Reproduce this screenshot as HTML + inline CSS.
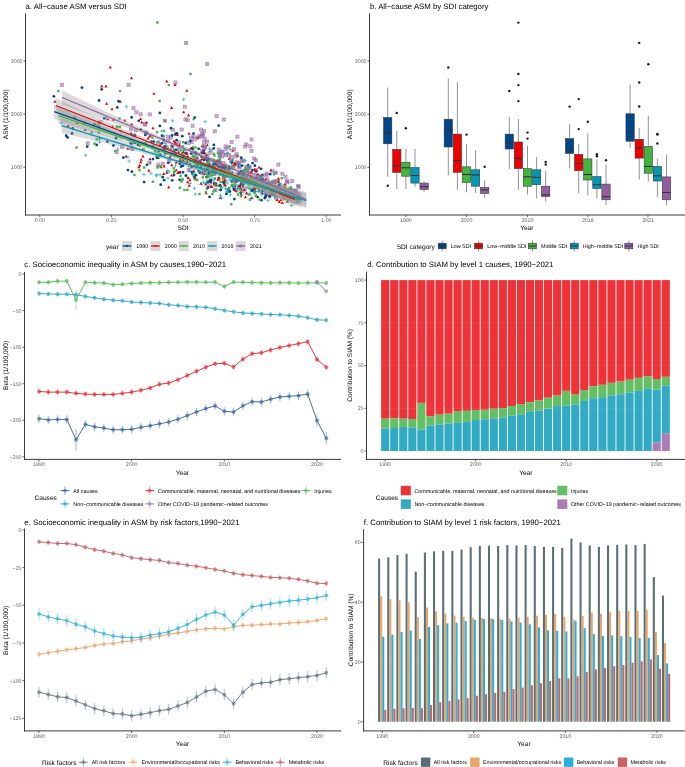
<!DOCTYPE html><html><head><meta charset="utf-8"><style>html,body{margin:0;padding:0;background:#fff;width:685px;height:767px;overflow:hidden}</style></head><body><svg width="685" height="767" viewBox="0 0 685 767" style="display:block;will-change:transform;text-rendering:geometricPrecision;font-family:'Liberation Sans', sans-serif">
<rect x="0" y="0" width="685" height="767" fill="#fff"/>
<path d="M296.45,198.13 h3 v3 h-3z M296.45,198.13 l3,3 M299.45,198.13 l-3,3" stroke="#925E9F" stroke-width="0.6" fill="none"/>
<path d="M192.67,188.19 h3.8 M194.57,186.29 v3.8" stroke="#0099B4" stroke-width="0.55" fill="none"/>
<path d="M164,164.72 l1.6,2.8 h-3.2z" fill="#ED0000"/>
<circle cx="240.37" cy="172.06" r="1.4" fill="#00468B"/>
<path d="M229.85,160.33 h3 v3 h-3z M229.85,160.33 l3,3 M232.85,160.33 l-3,3" stroke="#925E9F" stroke-width="0.6" fill="none"/>
<rect x="240.85" y="175.87" width="2.4" height="2.4" fill="#42B540"/>
<rect x="243.15" y="176.01" width="2.4" height="2.4" fill="#42B540"/>
<path d="M217.33,148.2 h3 v3 h-3z M217.33,148.2 l3,3 M220.33,148.2 l-3,3" stroke="#925E9F" stroke-width="0.6" fill="none"/>
<rect x="194.95" y="153.4" width="2.4" height="2.4" fill="#42B540"/>
<path d="M223.98,181.97 l1.6,2.8 h-3.2z" fill="#ED0000"/>
<circle cx="194.61" cy="177.19" r="1.4" fill="#00468B"/>
<path d="M235.67,188.37 h3.8 M237.57,186.47 v3.8" stroke="#0099B4" stroke-width="0.55" fill="none"/>
<path d="M171.62,128.31 h3 v3 h-3z M171.62,128.31 l3,3 M174.62,128.31 l-3,3" stroke="#925E9F" stroke-width="0.6" fill="none"/>
<path d="M283.96,175.2 h3 v3 h-3z M283.96,175.2 l3,3 M286.96,175.2 l-3,3" stroke="#925E9F" stroke-width="0.6" fill="none"/>
<rect x="181.29" y="160.4" width="2.4" height="2.4" fill="#42B540"/>
<path d="M130.88,147.54 h3 v3 h-3z M130.88,147.54 l3,3 M133.88,147.54 l-3,3" stroke="#925E9F" stroke-width="0.6" fill="none"/>
<circle cx="222.52" cy="167.24" r="1.4" fill="#00468B"/>
<path d="M240.4,159.45 h3 v3 h-3z M240.4,159.45 l3,3 M243.4,159.45 l-3,3" stroke="#925E9F" stroke-width="0.6" fill="none"/>
<circle cx="193.46" cy="133.57" r="1.4" fill="#00468B"/>
<circle cx="213.01" cy="170.54" r="1.4" fill="#00468B"/>
<path d="M176.26,160.84 l1.6,2.8 h-3.2z" fill="#ED0000"/>
<circle cx="231.95" cy="162.32" r="1.4" fill="#00468B"/>
<circle cx="81.93" cy="87.61" r="1.4" fill="#00468B"/>
<path d="M273.01,195.81 h3.8 M274.91,193.91 v3.8" stroke="#0099B4" stroke-width="0.55" fill="none"/>
<path d="M242.76,184.58 l1.6,2.8 h-3.2z" fill="#ED0000"/>
<path d="M249.57,171.08 h3 v3 h-3z M249.57,171.08 l3,3 M252.57,171.08 l-3,3" stroke="#925E9F" stroke-width="0.6" fill="none"/>
<rect x="216.22" y="159.36" width="2.4" height="2.4" fill="#42B540"/>
<path d="M207.99,151.66 h3 v3 h-3z M207.99,151.66 l3,3 M210.99,151.66 l-3,3" stroke="#925E9F" stroke-width="0.6" fill="none"/>
<path d="M230.62,170.92 l1.6,2.8 h-3.2z" fill="#ED0000"/>
<path d="M224.1,180.73 h3.8 M226,178.83 v3.8" stroke="#0099B4" stroke-width="0.55" fill="none"/>
<circle cx="175.63" cy="143.87" r="1.4" fill="#00468B"/>
<rect x="234.08" y="185.26" width="2.4" height="2.4" fill="#42B540"/>
<circle cx="158.65" cy="151.05" r="1.4" fill="#00468B"/>
<path d="M239.46,183.72 h3.8 M241.36,181.82 v3.8" stroke="#0099B4" stroke-width="0.55" fill="none"/>
<circle cx="231.86" cy="181.38" r="1.4" fill="#00468B"/>
<rect x="258.97" y="176.16" width="2.4" height="2.4" fill="#42B540"/>
<path d="M177.36,140.87 h3 v3 h-3z M177.36,140.87 l3,3 M180.36,140.87 l-3,3" stroke="#925E9F" stroke-width="0.6" fill="none"/>
<path d="M215.13,114.63 h3 v3 h-3z M215.13,114.63 l3,3 M218.13,114.63 l-3,3" stroke="#925E9F" stroke-width="0.6" fill="none"/>
<path d="M247.99,180.47 h3.8 M249.89,178.57 v3.8" stroke="#0099B4" stroke-width="0.55" fill="none"/>
<path d="M261.98,183.78 l1.6,2.8 h-3.2z" fill="#ED0000"/>
<circle cx="176.15" cy="133.58" r="1.4" fill="#00468B"/>
<rect x="188.15" y="148.42" width="2.4" height="2.4" fill="#42B540"/>
<path d="M161.37,162.43 h3 v3 h-3z M161.37,162.43 l3,3 M164.37,162.43 l-3,3" stroke="#925E9F" stroke-width="0.6" fill="none"/>
<rect x="212.83" y="158.98" width="2.4" height="2.4" fill="#42B540"/>
<rect x="280.28" y="187.62" width="2.4" height="2.4" fill="#42B540"/>
<circle cx="260.47" cy="176.43" r="1.4" fill="#00468B"/>
<path d="M110.3,65.7 l1.6,2.8 h-3.2z" fill="#ED0000"/>
<path d="M295.58,193.06 h3.8 M297.48,191.16 v3.8" stroke="#0099B4" stroke-width="0.55" fill="none"/>
<path d="M205.67,62.49 h3 v3 h-3z M205.67,62.49 l3,3 M208.67,62.49 l-3,3" stroke="#925E9F" stroke-width="0.6" fill="none"/>
<rect x="248.71" y="198.48" width="2.4" height="2.4" fill="#42B540"/>
<path d="M226.47,166.3 l1.6,2.8 h-3.2z" fill="#ED0000"/>
<rect x="212.96" y="183.63" width="2.4" height="2.4" fill="#42B540"/>
<path d="M158.09,156.22 l1.6,2.8 h-3.2z" fill="#ED0000"/>
<path d="M241.29,192.74 l1.6,2.8 h-3.2z" fill="#ED0000"/>
<path d="M154.28,175.82 h3.8 M156.18,173.92 v3.8" stroke="#0099B4" stroke-width="0.55" fill="none"/>
<circle cx="175.21" cy="134.41" r="1.4" fill="#00468B"/>
<circle cx="197.17" cy="158.44" r="1.4" fill="#00468B"/>
<circle cx="234.72" cy="179.04" r="1.4" fill="#00468B"/>
<path d="M177.5,133.31 l1.6,2.8 h-3.2z" fill="#ED0000"/>
<path d="M169.92,155.32 l1.6,2.8 h-3.2z" fill="#ED0000"/>
<path d="M156.47,141.31 h3 v3 h-3z M156.47,141.31 l3,3 M159.47,141.31 l-3,3" stroke="#925E9F" stroke-width="0.6" fill="none"/>
<path d="M259.07,165.67 l1.6,2.8 h-3.2z" fill="#ED0000"/>
<rect x="163.89" y="119.75" width="2.4" height="2.4" fill="#42B540"/>
<path d="M202.82,140.99 h3 v3 h-3z M202.82,140.99 l3,3 M205.82,140.99 l-3,3" stroke="#925E9F" stroke-width="0.6" fill="none"/>
<rect x="213.31" y="154.33" width="2.4" height="2.4" fill="#42B540"/>
<path d="M270.94,168.59 l1.6,2.8 h-3.2z" fill="#ED0000"/>
<path d="M127.89,146.89 l1.6,2.8 h-3.2z" fill="#ED0000"/>
<path d="M148.83,168.85 l1.6,2.8 h-3.2z" fill="#ED0000"/>
<circle cx="211.94" cy="169.73" r="1.4" fill="#00468B"/>
<path d="M204.94,169.22 l1.6,2.8 h-3.2z" fill="#ED0000"/>
<path d="M245.77,187.04 h3.8 M247.67,185.14 v3.8" stroke="#0099B4" stroke-width="0.55" fill="none"/>
<rect x="133.27" y="173.75" width="2.4" height="2.4" fill="#42B540"/>
<path d="M216.08,185.85 h3.8 M217.98,183.95 v3.8" stroke="#0099B4" stroke-width="0.55" fill="none"/>
<path d="M258.79,186.58 l1.6,2.8 h-3.2z" fill="#ED0000"/>
<rect x="228.13" y="186.79" width="2.4" height="2.4" fill="#42B540"/>
<circle cx="201.07" cy="166.75" r="1.4" fill="#00468B"/>
<path d="M251.49,178.41 h3 v3 h-3z M251.49,178.41 l3,3 M254.49,178.41 l-3,3" stroke="#925E9F" stroke-width="0.6" fill="none"/>
<path d="M273.72,179.7 h3 v3 h-3z M273.72,179.7 l3,3 M276.72,179.7 l-3,3" stroke="#925E9F" stroke-width="0.6" fill="none"/>
<path d="M141.74,120.58 l1.6,2.8 h-3.2z" fill="#ED0000"/>
<path d="M160.79,165.41 l1.6,2.8 h-3.2z" fill="#ED0000"/>
<path d="M253.4,191.24 h3.8 M255.3,189.34 v3.8" stroke="#0099B4" stroke-width="0.55" fill="none"/>
<rect x="151.33" y="136.42" width="2.4" height="2.4" fill="#42B540"/>
<path d="M259.03,192.52 h3.8 M260.93,190.62 v3.8" stroke="#0099B4" stroke-width="0.55" fill="none"/>
<rect x="215.69" y="169.63" width="2.4" height="2.4" fill="#42B540"/>
<path d="M97.74,138.29 h3.8 M99.64,136.39 v3.8" stroke="#0099B4" stroke-width="0.55" fill="none"/>
<rect x="169.36" y="148.53" width="2.4" height="2.4" fill="#42B540"/>
<path d="M274.26,187.19 l1.6,2.8 h-3.2z" fill="#ED0000"/>
<rect x="206.97" y="168.87" width="2.4" height="2.4" fill="#42B540"/>
<path d="M192.05,175.92 h3.8 M193.95,174.02 v3.8" stroke="#0099B4" stroke-width="0.55" fill="none"/>
<path d="M224.61,153.55 h3 v3 h-3z M224.61,153.55 l3,3 M227.61,153.55 l-3,3" stroke="#925E9F" stroke-width="0.6" fill="none"/>
<rect x="95.51" y="138.18" width="2.4" height="2.4" fill="#42B540"/>
<path d="M269.17,182.32 h3.8 M271.07,180.42 v3.8" stroke="#0099B4" stroke-width="0.55" fill="none"/>
<path d="M190.05,161.91 l1.6,2.8 h-3.2z" fill="#ED0000"/>
<path d="M204.98,156.98 h3 v3 h-3z M204.98,156.98 l3,3 M207.98,156.98 l-3,3" stroke="#925E9F" stroke-width="0.6" fill="none"/>
<path d="M293.37,189.64 h3 v3 h-3z M293.37,189.64 l3,3 M296.37,189.64 l-3,3" stroke="#925E9F" stroke-width="0.6" fill="none"/>
<path d="M261.68,180.25 h3 v3 h-3z M261.68,180.25 l3,3 M264.68,180.25 l-3,3" stroke="#925E9F" stroke-width="0.6" fill="none"/>
<path d="M279.03,189.94 h3.8 M280.93,188.04 v3.8" stroke="#0099B4" stroke-width="0.55" fill="none"/>
<rect x="247.6" y="183.18" width="2.4" height="2.4" fill="#42B540"/>
<rect x="258.62" y="179.31" width="2.4" height="2.4" fill="#42B540"/>
<rect x="257.94" y="189.58" width="2.4" height="2.4" fill="#42B540"/>
<rect x="231.94" y="165.11" width="2.4" height="2.4" fill="#42B540"/>
<circle cx="72.76" cy="128.31" r="1.4" fill="#00468B"/>
<path d="M265.75,177.65 h3 v3 h-3z M265.75,177.65 l3,3 M268.75,177.65 l-3,3" stroke="#925E9F" stroke-width="0.6" fill="none"/>
<path d="M162.37,155.27 h3.8 M164.27,153.37 v3.8" stroke="#0099B4" stroke-width="0.55" fill="none"/>
<path d="M294.14,189.72 h3 v3 h-3z M294.14,189.72 l3,3 M297.14,189.72 l-3,3" stroke="#925E9F" stroke-width="0.6" fill="none"/>
<path d="M169.19,136.2 h3 v3 h-3z M169.19,136.2 l3,3 M172.19,136.2 l-3,3" stroke="#925E9F" stroke-width="0.6" fill="none"/>
<path d="M206.34,161.1 h3 v3 h-3z M206.34,161.1 l3,3 M209.34,161.1 l-3,3" stroke="#925E9F" stroke-width="0.6" fill="none"/>
<circle cx="174.29" cy="150.58" r="1.4" fill="#00468B"/>
<path d="M238.16,171.49 h3 v3 h-3z M238.16,171.49 l3,3 M241.16,171.49 l-3,3" stroke="#925E9F" stroke-width="0.6" fill="none"/>
<path d="M220.61,155.02 h3 v3 h-3z M220.61,155.02 l3,3 M223.61,155.02 l-3,3" stroke="#925E9F" stroke-width="0.6" fill="none"/>
<rect x="288.51" y="188.54" width="2.4" height="2.4" fill="#42B540"/>
<circle cx="164.6" cy="146.59" r="1.4" fill="#00468B"/>
<circle cx="223.2" cy="166.07" r="1.4" fill="#00468B"/>
<path d="M127.16,140.35 h3.8 M129.06,138.45 v3.8" stroke="#0099B4" stroke-width="0.55" fill="none"/>
<path d="M223.65,164.07 h3 v3 h-3z M223.65,164.07 l3,3 M226.65,164.07 l-3,3" stroke="#925E9F" stroke-width="0.6" fill="none"/>
<circle cx="231.9" cy="172.98" r="1.4" fill="#00468B"/>
<path d="M228.87,149.9 h3.8 M230.77,148 v3.8" stroke="#0099B4" stroke-width="0.55" fill="none"/>
<path d="M241.5,181.01 l1.6,2.8 h-3.2z" fill="#ED0000"/>
<path d="M207.63,180.47 h3.8 M209.53,178.57 v3.8" stroke="#0099B4" stroke-width="0.55" fill="none"/>
<path d="M247,171.88 h3.8 M248.9,169.98 v3.8" stroke="#0099B4" stroke-width="0.55" fill="none"/>
<path d="M193.97,158.15 h3 v3 h-3z M193.97,158.15 l3,3 M196.97,158.15 l-3,3" stroke="#925E9F" stroke-width="0.6" fill="none"/>
<path d="M242.83,175.08 l1.6,2.8 h-3.2z" fill="#ED0000"/>
<rect x="207.75" y="160.09" width="2.4" height="2.4" fill="#42B540"/>
<circle cx="74.69" cy="117.59" r="1.4" fill="#00468B"/>
<path d="M260.1,179.76 l1.6,2.8 h-3.2z" fill="#ED0000"/>
<path d="M144.46,130.91 h3 v3 h-3z M144.46,130.91 l3,3 M147.46,130.91 l-3,3" stroke="#925E9F" stroke-width="0.6" fill="none"/>
<path d="M190.14,140.58 h3 v3 h-3z M190.14,140.58 l3,3 M193.14,140.58 l-3,3" stroke="#925E9F" stroke-width="0.6" fill="none"/>
<circle cx="224.62" cy="168.53" r="1.4" fill="#00468B"/>
<path d="M168.78,159.72 h3.8 M170.68,157.82 v3.8" stroke="#0099B4" stroke-width="0.55" fill="none"/>
<path d="M271.41,187.39 l1.6,2.8 h-3.2z" fill="#ED0000"/>
<rect x="279.15" y="187.99" width="2.4" height="2.4" fill="#42B540"/>
<path d="M200.78,181.91 l1.6,2.8 h-3.2z" fill="#ED0000"/>
<path d="M282.88,185.02 h3 v3 h-3z M282.88,185.02 l3,3 M285.88,185.02 l-3,3" stroke="#925E9F" stroke-width="0.6" fill="none"/>
<path d="M283.63,195.08 l1.6,2.8 h-3.2z" fill="#ED0000"/>
<path d="M239.38,176.09 h3 v3 h-3z M239.38,176.09 l3,3 M242.38,176.09 l-3,3" stroke="#925E9F" stroke-width="0.6" fill="none"/>
<path d="M221.62,168.34 l1.6,2.8 h-3.2z" fill="#ED0000"/>
<rect x="190.37" y="165.62" width="2.4" height="2.4" fill="#42B540"/>
<path d="M244.24,168.09 h3.8 M246.14,166.19 v3.8" stroke="#0099B4" stroke-width="0.55" fill="none"/>
<path d="M194.79,156.46 h3 v3 h-3z M194.79,156.46 l3,3 M197.79,156.46 l-3,3" stroke="#925E9F" stroke-width="0.6" fill="none"/>
<circle cx="183.01" cy="172.28" r="1.4" fill="#00468B"/>
<circle cx="198.65" cy="148.87" r="1.4" fill="#00468B"/>
<circle cx="194.97" cy="152.93" r="1.4" fill="#00468B"/>
<rect x="193.98" y="157.26" width="2.4" height="2.4" fill="#42B540"/>
<path d="M173.86,80.9 h3 v3 h-3z M173.86,80.9 l3,3 M176.86,80.9 l-3,3" stroke="#925E9F" stroke-width="0.6" fill="none"/>
<path d="M187.1,141.62 h3 v3 h-3z M187.1,141.62 l3,3 M190.1,141.62 l-3,3" stroke="#925E9F" stroke-width="0.6" fill="none"/>
<rect x="245.75" y="176.76" width="2.4" height="2.4" fill="#42B540"/>
<path d="M150.77,148.13 h3.8 M152.67,146.23 v3.8" stroke="#0099B4" stroke-width="0.55" fill="none"/>
<path d="M287.27,199.84 l1.6,2.8 h-3.2z" fill="#ED0000"/>
<rect x="118.85" y="89.87" width="2.4" height="2.4" fill="#42B540"/>
<path d="M209.31,149.12 h3 v3 h-3z M209.31,149.12 l3,3 M212.31,149.12 l-3,3" stroke="#925E9F" stroke-width="0.6" fill="none"/>
<path d="M142.93,147.62 l1.6,2.8 h-3.2z" fill="#ED0000"/>
<path d="M235.44,160.71 h3 v3 h-3z M235.44,160.71 l3,3 M238.44,160.71 l-3,3" stroke="#925E9F" stroke-width="0.6" fill="none"/>
<path d="M124.45,106.71 h3.8 M126.35,104.81 v3.8" stroke="#0099B4" stroke-width="0.55" fill="none"/>
<path d="M220.4,183.39 l1.6,2.8 h-3.2z" fill="#ED0000"/>
<rect x="275.01" y="185.11" width="2.4" height="2.4" fill="#42B540"/>
<rect x="173.52" y="148.74" width="2.4" height="2.4" fill="#42B540"/>
<circle cx="96.65" cy="144.95" r="1.4" fill="#00468B"/>
<circle cx="215.02" cy="168" r="1.4" fill="#00468B"/>
<circle cx="201.9" cy="152.9" r="1.4" fill="#00468B"/>
<path d="M268.83,189.68 h3.8 M270.73,187.78 v3.8" stroke="#0099B4" stroke-width="0.55" fill="none"/>
<path d="M237.31,177.32 h3.8 M239.21,175.42 v3.8" stroke="#0099B4" stroke-width="0.55" fill="none"/>
<path d="M184.01,117.8 h3 v3 h-3z M184.01,117.8 l3,3 M187.01,117.8 l-3,3" stroke="#925E9F" stroke-width="0.6" fill="none"/>
<path d="M220.24,196.25 l1.6,2.8 h-3.2z" fill="#ED0000"/>
<path d="M229.24,157 l1.6,2.8 h-3.2z" fill="#ED0000"/>
<path d="M222.13,161.66 h3 v3 h-3z M222.13,161.66 l3,3 M225.13,161.66 l-3,3" stroke="#925E9F" stroke-width="0.6" fill="none"/>
<path d="M218.64,195.45 h3.8 M220.54,193.55 v3.8" stroke="#0099B4" stroke-width="0.55" fill="none"/>
<path d="M217.39,157.95 h3.8 M219.29,156.05 v3.8" stroke="#0099B4" stroke-width="0.55" fill="none"/>
<path d="M85.12,128.14 l1.6,2.8 h-3.2z" fill="#ED0000"/>
<path d="M213.99,172.23 l1.6,2.8 h-3.2z" fill="#ED0000"/>
<path d="M223.43,188.3 h3.8 M225.33,186.4 v3.8" stroke="#0099B4" stroke-width="0.55" fill="none"/>
<rect x="75.28" y="146.32" width="2.4" height="2.4" fill="#42B540"/>
<path d="M167.66,159.65 h3 v3 h-3z M167.66,159.65 l3,3 M170.66,159.65 l-3,3" stroke="#925E9F" stroke-width="0.6" fill="none"/>
<path d="M189.17,183.85 l1.6,2.8 h-3.2z" fill="#ED0000"/>
<path d="M120.55,145.37 h3 v3 h-3z M120.55,145.37 l3,3 M123.55,145.37 l-3,3" stroke="#925E9F" stroke-width="0.6" fill="none"/>
<path d="M271.08,191.2 l1.6,2.8 h-3.2z" fill="#ED0000"/>
<path d="M127.35,161.02 h3.8 M129.25,159.12 v3.8" stroke="#0099B4" stroke-width="0.55" fill="none"/>
<path d="M232.8,179.39 h3 v3 h-3z M232.8,179.39 l3,3 M235.8,179.39 l-3,3" stroke="#925E9F" stroke-width="0.6" fill="none"/>
<path d="M205.75,140 h3 v3 h-3z M205.75,140 l3,3 M208.75,140 l-3,3" stroke="#925E9F" stroke-width="0.6" fill="none"/>
<path d="M272.89,196.94 h3.8 M274.79,195.04 v3.8" stroke="#0099B4" stroke-width="0.55" fill="none"/>
<path d="M237.93,165.78 h3 v3 h-3z M237.93,165.78 l3,3 M240.93,165.78 l-3,3" stroke="#925E9F" stroke-width="0.6" fill="none"/>
<rect x="258.58" y="175.52" width="2.4" height="2.4" fill="#42B540"/>
<path d="M267.91,181.52 h3 v3 h-3z M267.91,181.52 l3,3 M270.91,181.52 l-3,3" stroke="#925E9F" stroke-width="0.6" fill="none"/>
<circle cx="201.71" cy="156.77" r="1.4" fill="#00468B"/>
<path d="M283.13,189.3 h3 v3 h-3z M283.13,189.3 l3,3 M286.13,189.3 l-3,3" stroke="#925E9F" stroke-width="0.6" fill="none"/>
<path d="M265.81,177.85 l1.6,2.8 h-3.2z" fill="#ED0000"/>
<path d="M255.17,177.15 h3 v3 h-3z M255.17,177.15 l3,3 M258.17,177.15 l-3,3" stroke="#925E9F" stroke-width="0.6" fill="none"/>
<circle cx="176.97" cy="133.32" r="1.4" fill="#00468B"/>
<path d="M265.1,187.37 h3.8 M267,185.47 v3.8" stroke="#0099B4" stroke-width="0.55" fill="none"/>
<path d="M219.7,183.42 l1.6,2.8 h-3.2z" fill="#ED0000"/>
<path d="M68.17,124.22 l1.6,2.8 h-3.2z" fill="#ED0000"/>
<path d="M143.17,122.46 h3 v3 h-3z M143.17,122.46 l3,3 M146.17,122.46 l-3,3" stroke="#925E9F" stroke-width="0.6" fill="none"/>
<path d="M210.22,165.19 l1.6,2.8 h-3.2z" fill="#ED0000"/>
<path d="M266.13,200.33 h3.8 M268.03,198.43 v3.8" stroke="#0099B4" stroke-width="0.55" fill="none"/>
<circle cx="206.62" cy="177.09" r="1.4" fill="#00468B"/>
<path d="M218.82,153.66 h3 v3 h-3z M218.82,153.66 l3,3 M221.82,153.66 l-3,3" stroke="#925E9F" stroke-width="0.6" fill="none"/>
<path d="M225.67,192.69 h3.8 M227.57,190.79 v3.8" stroke="#0099B4" stroke-width="0.55" fill="none"/>
<path d="M166.45,135.11 h3 v3 h-3z M166.45,135.11 l3,3 M169.45,135.11 l-3,3" stroke="#925E9F" stroke-width="0.6" fill="none"/>
<path d="M101.71,84.59 l1.6,2.8 h-3.2z" fill="#ED0000"/>
<circle cx="131.63" cy="117.38" r="1.4" fill="#00468B"/>
<path d="M192.19,172.63 h3.8 M194.09,170.73 v3.8" stroke="#0099B4" stroke-width="0.55" fill="none"/>
<rect x="253" y="189.94" width="2.4" height="2.4" fill="#42B540"/>
<circle cx="163.63" cy="139.87" r="1.4" fill="#00468B"/>
<path d="M288.45,193.07 h3.8 M290.35,191.17 v3.8" stroke="#0099B4" stroke-width="0.55" fill="none"/>
<path d="M206.14,191.35 l1.6,2.8 h-3.2z" fill="#ED0000"/>
<rect x="237.2" y="161.85" width="2.4" height="2.4" fill="#42B540"/>
<circle cx="182.28" cy="136.2" r="1.4" fill="#00468B"/>
<path d="M200.56,132.1 h3 v3 h-3z M200.56,132.1 l3,3 M203.56,132.1 l-3,3" stroke="#925E9F" stroke-width="0.6" fill="none"/>
<circle cx="162.03" cy="135.76" r="1.4" fill="#00468B"/>
<path d="M98.89,120.72 h3 v3 h-3z M98.89,120.72 l3,3 M101.89,120.72 l-3,3" stroke="#925E9F" stroke-width="0.6" fill="none"/>
<rect x="179.42" y="149.26" width="2.4" height="2.4" fill="#42B540"/>
<circle cx="146.96" cy="164.81" r="1.4" fill="#00468B"/>
<path d="M162.23,147.41 h3.8 M164.13,145.51 v3.8" stroke="#0099B4" stroke-width="0.55" fill="none"/>
<circle cx="270.19" cy="174.21" r="1.4" fill="#00468B"/>
<rect x="181.71" y="145.32" width="2.4" height="2.4" fill="#42B540"/>
<circle cx="248.08" cy="165.14" r="1.4" fill="#00468B"/>
<circle cx="263.1" cy="184.58" r="1.4" fill="#00468B"/>
<path d="M234.14,188.32 l1.6,2.8 h-3.2z" fill="#ED0000"/>
<path d="M203.27,121.61 h3.8 M205.17,119.71 v3.8" stroke="#0099B4" stroke-width="0.55" fill="none"/>
<path d="M199.16,162.6 l1.6,2.8 h-3.2z" fill="#ED0000"/>
<rect x="156.11" y="21.3" width="2.4" height="2.4" fill="#42B540"/>
<path d="M209.24,178.31 h3.8 M211.14,176.41 v3.8" stroke="#0099B4" stroke-width="0.55" fill="none"/>
<path d="M207.3,143.46 l1.6,2.8 h-3.2z" fill="#ED0000"/>
<path d="M217.9,153.08 h3.8 M219.8,151.18 v3.8" stroke="#0099B4" stroke-width="0.55" fill="none"/>
<rect x="291.09" y="195.32" width="2.4" height="2.4" fill="#42B540"/>
<rect x="248.33" y="183.36" width="2.4" height="2.4" fill="#42B540"/>
<path d="M266.48,182.37 h3.8 M268.38,180.47 v3.8" stroke="#0099B4" stroke-width="0.55" fill="none"/>
<rect x="194.31" y="146.3" width="2.4" height="2.4" fill="#42B540"/>
<path d="M270.46,182.25 l1.6,2.8 h-3.2z" fill="#ED0000"/>
<path d="M143.73,123.22 h3 v3 h-3z M143.73,123.22 l3,3 M146.73,123.22 l-3,3" stroke="#925E9F" stroke-width="0.6" fill="none"/>
<circle cx="152.97" cy="159.05" r="1.4" fill="#00468B"/>
<path d="M176.13,150.1 h3.8 M178.03,148.2 v3.8" stroke="#0099B4" stroke-width="0.55" fill="none"/>
<circle cx="176.18" cy="149.8" r="1.4" fill="#00468B"/>
<path d="M267.27,182.68 l1.6,2.8 h-3.2z" fill="#ED0000"/>
<path d="M209.64,178.64 l1.6,2.8 h-3.2z" fill="#ED0000"/>
<path d="M154.85,156.94 h3.8 M156.75,155.04 v3.8" stroke="#0099B4" stroke-width="0.55" fill="none"/>
<path d="M203.17,169.28 h3.8 M205.07,167.38 v3.8" stroke="#0099B4" stroke-width="0.55" fill="none"/>
<path d="M107.66,117.47 l1.6,2.8 h-3.2z" fill="#ED0000"/>
<path d="M86.16,141.81 h3 v3 h-3z M86.16,141.81 l3,3 M89.16,141.81 l-3,3" stroke="#925E9F" stroke-width="0.6" fill="none"/>
<rect x="206.49" y="176.11" width="2.4" height="2.4" fill="#42B540"/>
<circle cx="211.2" cy="180.46" r="1.4" fill="#00468B"/>
<rect x="261.5" y="187.83" width="2.4" height="2.4" fill="#42B540"/>
<path d="M215.29,159.66 l1.6,2.8 h-3.2z" fill="#ED0000"/>
<path d="M256.21,180.45 l1.6,2.8 h-3.2z" fill="#ED0000"/>
<path d="M256.73,175.4 l1.6,2.8 h-3.2z" fill="#ED0000"/>
<path d="M225.41,174.99 l1.6,2.8 h-3.2z" fill="#ED0000"/>
<path d="M226.03,169.49 h3 v3 h-3z M226.03,169.49 l3,3 M229.03,169.49 l-3,3" stroke="#925E9F" stroke-width="0.6" fill="none"/>
<path d="M203.08,137.42 h3 v3 h-3z M203.08,137.42 l3,3 M206.08,137.42 l-3,3" stroke="#925E9F" stroke-width="0.6" fill="none"/>
<path d="M264.54,185.27 h3.8 M266.44,183.37 v3.8" stroke="#0099B4" stroke-width="0.55" fill="none"/>
<path d="M297.72,193.07 h3 v3 h-3z M297.72,193.07 l3,3 M300.72,193.07 l-3,3" stroke="#925E9F" stroke-width="0.6" fill="none"/>
<circle cx="192.82" cy="148.99" r="1.4" fill="#00468B"/>
<path d="M97.57,142.11 h3.8 M99.47,140.21 v3.8" stroke="#0099B4" stroke-width="0.55" fill="none"/>
<rect x="231.57" y="158.65" width="2.4" height="2.4" fill="#42B540"/>
<circle cx="243.17" cy="175.4" r="1.4" fill="#00468B"/>
<circle cx="168.17" cy="162.87" r="1.4" fill="#00468B"/>
<path d="M235.27,163.23 h3 v3 h-3z M235.27,163.23 l3,3 M238.27,163.23 l-3,3" stroke="#925E9F" stroke-width="0.6" fill="none"/>
<path d="M233.77,163.23 l1.6,2.8 h-3.2z" fill="#ED0000"/>
<path d="M210.99,184.91 l1.6,2.8 h-3.2z" fill="#ED0000"/>
<path d="M294.54,201.56 h3.8 M296.44,199.66 v3.8" stroke="#0099B4" stroke-width="0.55" fill="none"/>
<rect x="284.56" y="197.09" width="2.4" height="2.4" fill="#42B540"/>
<path d="M231.37,164.28 h3 v3 h-3z M231.37,164.28 l3,3 M234.37,164.28 l-3,3" stroke="#925E9F" stroke-width="0.6" fill="none"/>
<circle cx="223.41" cy="175.09" r="1.4" fill="#00468B"/>
<path d="M206.17,174.65 h3.8 M208.07,172.75 v3.8" stroke="#0099B4" stroke-width="0.55" fill="none"/>
<circle cx="99.24" cy="126.98" r="1.4" fill="#00468B"/>
<path d="M236.89,177.77 l1.6,2.8 h-3.2z" fill="#ED0000"/>
<circle cx="230.21" cy="168.37" r="1.4" fill="#00468B"/>
<path d="M115.81,149 h3.8 M117.71,147.1 v3.8" stroke="#0099B4" stroke-width="0.55" fill="none"/>
<path d="M212.74,172.59 h3 v3 h-3z M212.74,172.59 l3,3 M215.74,172.59 l-3,3" stroke="#925E9F" stroke-width="0.6" fill="none"/>
<path d="M255.25,179.72 h3.8 M257.15,177.82 v3.8" stroke="#0099B4" stroke-width="0.55" fill="none"/>
<path d="M112.38,125.14 l1.6,2.8 h-3.2z" fill="#ED0000"/>
<circle cx="101.71" cy="89.32" r="1.4" fill="#00468B"/>
<rect x="152.02" y="144.57" width="2.4" height="2.4" fill="#42B540"/>
<path d="M263.89,182.96 h3.8 M265.79,181.06 v3.8" stroke="#0099B4" stroke-width="0.55" fill="none"/>
<rect x="248.43" y="181.16" width="2.4" height="2.4" fill="#42B540"/>
<path d="M242.77,177.59 h3.8 M244.67,175.69 v3.8" stroke="#0099B4" stroke-width="0.55" fill="none"/>
<rect x="245.12" y="176.1" width="2.4" height="2.4" fill="#42B540"/>
<path d="M171.73,163.43 l1.6,2.8 h-3.2z" fill="#ED0000"/>
<path d="M59.4,122.88 h3.8 M61.3,120.98 v3.8" stroke="#0099B4" stroke-width="0.55" fill="none"/>
<rect x="118.32" y="117.4" width="2.4" height="2.4" fill="#42B540"/>
<path d="M236.86,179.15 h3.8 M238.76,177.25 v3.8" stroke="#0099B4" stroke-width="0.55" fill="none"/>
<path d="M248.8,144.78 h3 v3 h-3z M248.8,144.78 l3,3 M251.8,144.78 l-3,3" stroke="#925E9F" stroke-width="0.6" fill="none"/>
<path d="M200.54,149.48 h3 v3 h-3z M200.54,149.48 l3,3 M203.54,149.48 l-3,3" stroke="#925E9F" stroke-width="0.6" fill="none"/>
<circle cx="226.32" cy="193.88" r="1.4" fill="#00468B"/>
<circle cx="53.84" cy="96.28" r="1.4" fill="#00468B"/>
<circle cx="181.17" cy="166.49" r="1.4" fill="#00468B"/>
<path d="M194.21,152.23 h3.8 M196.11,150.33 v3.8" stroke="#0099B4" stroke-width="0.55" fill="none"/>
<path d="M210.57,172.04 h3.8 M212.47,170.14 v3.8" stroke="#0099B4" stroke-width="0.55" fill="none"/>
<path d="M164.27,151.44 h3 v3 h-3z M164.27,151.44 l3,3 M167.27,151.44 l-3,3" stroke="#925E9F" stroke-width="0.6" fill="none"/>
<circle cx="269.95" cy="188.91" r="1.4" fill="#00468B"/>
<circle cx="123.31" cy="157.55" r="1.4" fill="#00468B"/>
<circle cx="185.67" cy="142.99" r="1.4" fill="#00468B"/>
<path d="M236.94,167.22 h3.8 M238.84,165.32 v3.8" stroke="#0099B4" stroke-width="0.55" fill="none"/>
<path d="M206.44,153.24 l1.6,2.8 h-3.2z" fill="#ED0000"/>
<rect x="240.84" y="188.54" width="2.4" height="2.4" fill="#42B540"/>
<path d="M262.49,191.48 l1.6,2.8 h-3.2z" fill="#ED0000"/>
<path d="M250.02,149.35 h3 v3 h-3z M250.02,149.35 l3,3 M253.02,149.35 l-3,3" stroke="#925E9F" stroke-width="0.6" fill="none"/>
<path d="M281.64,194.56 l1.6,2.8 h-3.2z" fill="#ED0000"/>
<path d="M197.94,134.73 h3 v3 h-3z M197.94,134.73 l3,3 M200.94,134.73 l-3,3" stroke="#925E9F" stroke-width="0.6" fill="none"/>
<path d="M223.06,179.83 l1.6,2.8 h-3.2z" fill="#ED0000"/>
<path d="M248.02,165.18 h3 v3 h-3z M248.02,165.18 l3,3 M251.02,165.18 l-3,3" stroke="#925E9F" stroke-width="0.6" fill="none"/>
<path d="M240.38,186.1 l1.6,2.8 h-3.2z" fill="#ED0000"/>
<path d="M165.05,145.46 h3 v3 h-3z M165.05,145.46 l3,3 M168.05,145.46 l-3,3" stroke="#925E9F" stroke-width="0.6" fill="none"/>
<path d="M177.88,145.69 h3 v3 h-3z M177.88,145.69 l3,3 M180.88,145.69 l-3,3" stroke="#925E9F" stroke-width="0.6" fill="none"/>
<path d="M187.24,152.06 l1.6,2.8 h-3.2z" fill="#ED0000"/>
<rect x="157.35" y="155.62" width="2.4" height="2.4" fill="#42B540"/>
<rect x="272.18" y="188.86" width="2.4" height="2.4" fill="#42B540"/>
<path d="M295.8,197.5 h3 v3 h-3z M295.8,197.5 l3,3 M298.8,197.5 l-3,3" stroke="#925E9F" stroke-width="0.6" fill="none"/>
<circle cx="138.72" cy="120.82" r="1.4" fill="#00468B"/>
<path d="M233.51,177.96 l1.6,2.8 h-3.2z" fill="#ED0000"/>
<path d="M222.04,166.47 l1.6,2.8 h-3.2z" fill="#ED0000"/>
<circle cx="213.79" cy="148.41" r="1.4" fill="#00468B"/>
<circle cx="146.78" cy="133.4" r="1.4" fill="#00468B"/>
<rect x="181.06" y="151.75" width="2.4" height="2.4" fill="#42B540"/>
<path d="M286.31,195.14 h3.8 M288.21,193.24 v3.8" stroke="#0099B4" stroke-width="0.55" fill="none"/>
<path d="M176.18,168.54 l1.6,2.8 h-3.2z" fill="#ED0000"/>
<path d="M163.45,151.32 h3.8 M165.35,149.42 v3.8" stroke="#0099B4" stroke-width="0.55" fill="none"/>
<path d="M228.54,194.92 h3.8 M230.44,193.02 v3.8" stroke="#0099B4" stroke-width="0.55" fill="none"/>
<path d="M290.71,179.61 h3 v3 h-3z M290.71,179.61 l3,3 M293.71,179.61 l-3,3" stroke="#925E9F" stroke-width="0.6" fill="none"/>
<circle cx="261.42" cy="200.18" r="1.4" fill="#00468B"/>
<path d="M245.47,195.45 l1.6,2.8 h-3.2z" fill="#ED0000"/>
<path d="M183.29,158.62 l1.6,2.8 h-3.2z" fill="#ED0000"/>
<rect x="255.06" y="187.06" width="2.4" height="2.4" fill="#42B540"/>
<path d="M206.16,155.23 l1.6,2.8 h-3.2z" fill="#ED0000"/>
<path d="M253.72,191.76 h3.8 M255.62,189.86 v3.8" stroke="#0099B4" stroke-width="0.55" fill="none"/>
<path d="M277.09,198.08 l1.6,2.8 h-3.2z" fill="#ED0000"/>
<circle cx="164.99" cy="146.69" r="1.4" fill="#00468B"/>
<rect x="226.35" y="151.64" width="2.4" height="2.4" fill="#42B540"/>
<path d="M163.62,172.09 l1.6,2.8 h-3.2z" fill="#ED0000"/>
<path d="M285.03,182.38 l1.6,2.8 h-3.2z" fill="#ED0000"/>
<rect x="282.41" y="197.83" width="2.4" height="2.4" fill="#42B540"/>
<rect x="291.21" y="191.21" width="2.4" height="2.4" fill="#42B540"/>
<rect x="230.03" y="202.97" width="2.4" height="2.4" fill="#42B540"/>
<circle cx="131.09" cy="134.02" r="1.4" fill="#00468B"/>
<path d="M216.46,163.21 l1.6,2.8 h-3.2z" fill="#ED0000"/>
<path d="M138.75,165.42 l1.6,2.8 h-3.2z" fill="#ED0000"/>
<path d="M276.33,179.86 h3 v3 h-3z M276.33,179.86 l3,3 M279.33,179.86 l-3,3" stroke="#925E9F" stroke-width="0.6" fill="none"/>
<circle cx="87.19" cy="146.62" r="1.4" fill="#00468B"/>
<path d="M216.35,161.13 h3 v3 h-3z M216.35,161.13 l3,3 M219.35,161.13 l-3,3" stroke="#925E9F" stroke-width="0.6" fill="none"/>
<path d="M188.17,183.44 h3.8 M190.07,181.54 v3.8" stroke="#0099B4" stroke-width="0.55" fill="none"/>
<rect x="213.63" y="177.22" width="2.4" height="2.4" fill="#42B540"/>
<rect x="284.65" y="193.23" width="2.4" height="2.4" fill="#42B540"/>
<circle cx="216.75" cy="164.83" r="1.4" fill="#00468B"/>
<path d="M280.79,172.16 h3 v3 h-3z M280.79,172.16 l3,3 M283.79,172.16 l-3,3" stroke="#925E9F" stroke-width="0.6" fill="none"/>
<rect x="234.67" y="174.96" width="2.4" height="2.4" fill="#42B540"/>
<path d="M139.73,163.83 l1.6,2.8 h-3.2z" fill="#ED0000"/>
<circle cx="175.63" cy="153.59" r="1.4" fill="#00468B"/>
<path d="M251.79,189.23 h3.8 M253.69,187.33 v3.8" stroke="#0099B4" stroke-width="0.55" fill="none"/>
<path d="M251.14,180.49 h3 v3 h-3z M251.14,180.49 l3,3 M254.14,180.49 l-3,3" stroke="#925E9F" stroke-width="0.6" fill="none"/>
<circle cx="218.68" cy="125.56" r="1.4" fill="#00468B"/>
<path d="M192.31,176.75 h3.8 M194.21,174.85 v3.8" stroke="#0099B4" stroke-width="0.55" fill="none"/>
<path d="M226.92,146.14 h3 v3 h-3z M226.92,146.14 l3,3 M229.92,146.14 l-3,3" stroke="#925E9F" stroke-width="0.6" fill="none"/>
<rect x="268.36" y="191.53" width="2.4" height="2.4" fill="#42B540"/>
<circle cx="194.8" cy="117.58" r="1.4" fill="#00468B"/>
<circle cx="228.42" cy="189.3" r="1.4" fill="#00468B"/>
<path d="M256.41,174.08 h3 v3 h-3z M256.41,174.08 l3,3 M259.41,174.08 l-3,3" stroke="#925E9F" stroke-width="0.6" fill="none"/>
<path d="M220.71,160.4 l1.6,2.8 h-3.2z" fill="#ED0000"/>
<rect x="187.01" y="176.85" width="2.4" height="2.4" fill="#42B540"/>
<path d="M202.43,129.58 h3 v3 h-3z M202.43,129.58 l3,3 M205.43,129.58 l-3,3" stroke="#925E9F" stroke-width="0.6" fill="none"/>
<path d="M180.21,128.07 h3 v3 h-3z M180.21,128.07 l3,3 M183.21,128.07 l-3,3" stroke="#925E9F" stroke-width="0.6" fill="none"/>
<path d="M254.72,183.4 l1.6,2.8 h-3.2z" fill="#ED0000"/>
<path d="M229.82,181.24 h3.8 M231.72,179.34 v3.8" stroke="#0099B4" stroke-width="0.55" fill="none"/>
<circle cx="99.13" cy="100.49" r="1.4" fill="#00468B"/>
<path d="M183.34,150.22 l1.6,2.8 h-3.2z" fill="#ED0000"/>
<rect x="218.56" y="157.67" width="2.4" height="2.4" fill="#42B540"/>
<path d="M232.55,183.97 l1.6,2.8 h-3.2z" fill="#ED0000"/>
<circle cx="210.8" cy="182.02" r="1.4" fill="#00468B"/>
<rect x="226.98" y="169.35" width="2.4" height="2.4" fill="#42B540"/>
<circle cx="196.96" cy="164.71" r="1.4" fill="#00468B"/>
<path d="M189.94,167.93 h3.8 M191.84,166.03 v3.8" stroke="#0099B4" stroke-width="0.55" fill="none"/>
<circle cx="151.51" cy="141.76" r="1.4" fill="#00468B"/>
<path d="M251.18,170.78 l1.6,2.8 h-3.2z" fill="#ED0000"/>
<circle cx="266.25" cy="195.27" r="1.4" fill="#00468B"/>
<path d="M134.26,128.84 h3 v3 h-3z M134.26,128.84 l3,3 M137.26,128.84 l-3,3" stroke="#925E9F" stroke-width="0.6" fill="none"/>
<circle cx="172.04" cy="135.49" r="1.4" fill="#00468B"/>
<rect x="263.78" y="187.34" width="2.4" height="2.4" fill="#42B540"/>
<rect x="239.74" y="195.08" width="2.4" height="2.4" fill="#42B540"/>
<rect x="256.39" y="180.19" width="2.4" height="2.4" fill="#42B540"/>
<path d="M257.63,172.67 l1.6,2.8 h-3.2z" fill="#ED0000"/>
<path d="M286.3,196.65 h3 v3 h-3z M286.3,196.65 l3,3 M289.3,196.65 l-3,3" stroke="#925E9F" stroke-width="0.6" fill="none"/>
<path d="M288.18,188.14 h3.8 M290.08,186.24 v3.8" stroke="#0099B4" stroke-width="0.55" fill="none"/>
<path d="M268.41,196.97 h3.8 M270.31,195.07 v3.8" stroke="#0099B4" stroke-width="0.55" fill="none"/>
<circle cx="218.77" cy="178.1" r="1.4" fill="#00468B"/>
<path d="M187.34,170.15 h3.8 M189.24,168.25 v3.8" stroke="#0099B4" stroke-width="0.55" fill="none"/>
<path d="M115.14,150.46 h3 v3 h-3z M115.14,150.46 l3,3 M118.14,150.46 l-3,3" stroke="#925E9F" stroke-width="0.6" fill="none"/>
<path d="M178.72,150.75 l1.6,2.8 h-3.2z" fill="#ED0000"/>
<path d="M241.45,180.33 l1.6,2.8 h-3.2z" fill="#ED0000"/>
<circle cx="160.8" cy="154.86" r="1.4" fill="#00468B"/>
<path d="M166.66,139.02 h3 v3 h-3z M166.66,139.02 l3,3 M169.66,139.02 l-3,3" stroke="#925E9F" stroke-width="0.6" fill="none"/>
<path d="M272.39,180.6 h3 v3 h-3z M272.39,180.6 l3,3 M275.39,180.6 l-3,3" stroke="#925E9F" stroke-width="0.6" fill="none"/>
<path d="M237.72,154.04 l1.6,2.8 h-3.2z" fill="#ED0000"/>
<path d="M241.22,170.25 h3.8 M243.12,168.35 v3.8" stroke="#0099B4" stroke-width="0.55" fill="none"/>
<path d="M295.26,195.2 h3.8 M297.16,193.3 v3.8" stroke="#0099B4" stroke-width="0.55" fill="none"/>
<path d="M212.1,179.85 h3.8 M214,177.95 v3.8" stroke="#0099B4" stroke-width="0.55" fill="none"/>
<circle cx="240.66" cy="192.53" r="1.4" fill="#00468B"/>
<rect x="118.64" y="125.54" width="2.4" height="2.4" fill="#42B540"/>
<rect x="255.89" y="184.83" width="2.4" height="2.4" fill="#42B540"/>
<path d="M245.7,169.34 h3 v3 h-3z M245.7,169.34 l3,3 M248.7,169.34 l-3,3" stroke="#925E9F" stroke-width="0.6" fill="none"/>
<path d="M255.87,181.97 h3.8 M257.77,180.07 v3.8" stroke="#0099B4" stroke-width="0.55" fill="none"/>
<rect x="272.72" y="173.05" width="2.4" height="2.4" fill="#42B540"/>
<path d="M139.18,112.82 h3 v3 h-3z M139.18,112.82 l3,3 M142.18,112.82 l-3,3" stroke="#925E9F" stroke-width="0.6" fill="none"/>
<path d="M216.85,163.65 l1.6,2.8 h-3.2z" fill="#ED0000"/>
<circle cx="195.78" cy="175.21" r="1.4" fill="#00468B"/>
<path d="M218.49,161.1 h3.8 M220.39,159.2 v3.8" stroke="#0099B4" stroke-width="0.55" fill="none"/>
<path d="M152.97,126.56 l1.6,2.8 h-3.2z" fill="#ED0000"/>
<circle cx="116.01" cy="138.2" r="1.4" fill="#00468B"/>
<rect x="151.69" y="180.57" width="2.4" height="2.4" fill="#42B540"/>
<path d="M237.83,164.44 h3 v3 h-3z M237.83,164.44 l3,3 M240.83,164.44 l-3,3" stroke="#925E9F" stroke-width="0.6" fill="none"/>
<path d="M293.62,189.19 h3 v3 h-3z M293.62,189.19 l3,3 M296.62,189.19 l-3,3" stroke="#925E9F" stroke-width="0.6" fill="none"/>
<path d="M260.94,185.93 h3.8 M262.84,184.03 v3.8" stroke="#0099B4" stroke-width="0.55" fill="none"/>
<rect x="251.76" y="189.32" width="2.4" height="2.4" fill="#42B540"/>
<path d="M298.03,197.04 h3 v3 h-3z M298.03,197.04 l3,3 M301.03,197.04 l-3,3" stroke="#925E9F" stroke-width="0.6" fill="none"/>
<path d="M160.11,143.34 l1.6,2.8 h-3.2z" fill="#ED0000"/>
<path d="M120.33,99.91 l1.6,2.8 h-3.2z" fill="#ED0000"/>
<path d="M184.22,175.34 h3.8 M186.12,173.44 v3.8" stroke="#0099B4" stroke-width="0.55" fill="none"/>
<path d="M204.55,172.22 l1.6,2.8 h-3.2z" fill="#ED0000"/>
<circle cx="264.73" cy="198.06" r="1.4" fill="#00468B"/>
<rect x="288.86" y="187.37" width="2.4" height="2.4" fill="#42B540"/>
<path d="M183.67,110.39 l1.6,2.8 h-3.2z" fill="#ED0000"/>
<rect x="216.62" y="151.41" width="2.4" height="2.4" fill="#42B540"/>
<path d="M171.7,143.69 l1.6,2.8 h-3.2z" fill="#ED0000"/>
<circle cx="72.04" cy="133.51" r="1.4" fill="#00468B"/>
<circle cx="165.19" cy="152.67" r="1.4" fill="#00468B"/>
<path d="M239.26,175.61 l1.6,2.8 h-3.2z" fill="#ED0000"/>
<path d="M126.03,154.8 l1.6,2.8 h-3.2z" fill="#ED0000"/>
<path d="M271.58,187.98 l1.6,2.8 h-3.2z" fill="#ED0000"/>
<circle cx="104.18" cy="118.36" r="1.4" fill="#00468B"/>
<path d="M191.14,124.25 h3 v3 h-3z M191.14,124.25 l3,3 M194.14,124.25 l-3,3" stroke="#925E9F" stroke-width="0.6" fill="none"/>
<rect x="116.28" y="126.05" width="2.4" height="2.4" fill="#42B540"/>
<path d="M237.4,178.31 h3.8 M239.3,176.41 v3.8" stroke="#0099B4" stroke-width="0.55" fill="none"/>
<path d="M272.41,190.27 h3 v3 h-3z M272.41,190.27 l3,3 M275.41,190.27 l-3,3" stroke="#925E9F" stroke-width="0.6" fill="none"/>
<path d="M140.61,117.28 l1.6,2.8 h-3.2z" fill="#ED0000"/>
<path d="M218.16,178 l1.6,2.8 h-3.2z" fill="#ED0000"/>
<rect x="193.54" y="178.19" width="2.4" height="2.4" fill="#42B540"/>
<circle cx="140.73" cy="129.6" r="1.4" fill="#00468B"/>
<path d="M211.4,162.8 h3.8 M213.3,160.9 v3.8" stroke="#0099B4" stroke-width="0.55" fill="none"/>
<path d="M237.27,164.3 h3.8 M239.17,162.4 v3.8" stroke="#0099B4" stroke-width="0.55" fill="none"/>
<circle cx="172.23" cy="180.28" r="1.4" fill="#00468B"/>
<path d="M290.53,192 h3.8 M292.43,190.1 v3.8" stroke="#0099B4" stroke-width="0.55" fill="none"/>
<path d="M250.92,178.1 h3 v3 h-3z M250.92,178.1 l3,3 M253.92,178.1 l-3,3" stroke="#925E9F" stroke-width="0.6" fill="none"/>
<circle cx="263.16" cy="179.49" r="1.4" fill="#00468B"/>
<circle cx="266.73" cy="183.6" r="1.4" fill="#00468B"/>
<circle cx="254.87" cy="165.65" r="1.4" fill="#00468B"/>
<path d="M252.8,173.52 h3 v3 h-3z M252.8,173.52 l3,3 M255.8,173.52 l-3,3" stroke="#925E9F" stroke-width="0.6" fill="none"/>
<path d="M227.86,179.63 h3.8 M229.76,177.73 v3.8" stroke="#0099B4" stroke-width="0.55" fill="none"/>
<path d="M217.05,171 l1.6,2.8 h-3.2z" fill="#ED0000"/>
<circle cx="167.08" cy="148.63" r="1.4" fill="#00468B"/>
<path d="M202.07,144.63 l1.6,2.8 h-3.2z" fill="#ED0000"/>
<path d="M210.64,158.48 h3 v3 h-3z M210.64,158.48 l3,3 M213.64,158.48 l-3,3" stroke="#925E9F" stroke-width="0.6" fill="none"/>
<circle cx="66.17" cy="135.64" r="1.4" fill="#00468B"/>
<path d="M253.15,179.82 h3 v3 h-3z M253.15,179.82 l3,3 M256.15,179.82 l-3,3" stroke="#925E9F" stroke-width="0.6" fill="none"/>
<path d="M184.38,161.41 h3 v3 h-3z M184.38,161.41 l3,3 M187.38,161.41 l-3,3" stroke="#925E9F" stroke-width="0.6" fill="none"/>
<path d="M191.99,134.73 h3 v3 h-3z M191.99,134.73 l3,3 M194.99,134.73 l-3,3" stroke="#925E9F" stroke-width="0.6" fill="none"/>
<path d="M148.47,162.7 h3.8 M150.37,160.8 v3.8" stroke="#0099B4" stroke-width="0.55" fill="none"/>
<path d="M224.67,174.2 h3.8 M226.57,172.3 v3.8" stroke="#0099B4" stroke-width="0.55" fill="none"/>
<path d="M171.64,106.08 l1.6,2.8 h-3.2z" fill="#ED0000"/>
<path d="M173.58,165.79 h3.8 M175.48,163.89 v3.8" stroke="#0099B4" stroke-width="0.55" fill="none"/>
<rect x="270.58" y="181.98" width="2.4" height="2.4" fill="#42B540"/>
<rect x="254.31" y="180.74" width="2.4" height="2.4" fill="#42B540"/>
<path d="M211.16,163.21 h3.8 M213.06,161.31 v3.8" stroke="#0099B4" stroke-width="0.55" fill="none"/>
<rect x="258.4" y="198.44" width="2.4" height="2.4" fill="#42B540"/>
<path d="M234.8,174.62 l1.6,2.8 h-3.2z" fill="#ED0000"/>
<path d="M129.45,127.83 h3 v3 h-3z M129.45,127.83 l3,3 M132.45,127.83 l-3,3" stroke="#925E9F" stroke-width="0.6" fill="none"/>
<path d="M193.25,194.1 h3.8 M195.15,192.2 v3.8" stroke="#0099B4" stroke-width="0.55" fill="none"/>
<circle cx="118.62" cy="101.23" r="1.4" fill="#00468B"/>
<rect x="172.5" y="167.06" width="2.4" height="2.4" fill="#42B540"/>
<path d="M189.02,131.98 l1.6,2.8 h-3.2z" fill="#ED0000"/>
<circle cx="221.23" cy="167.37" r="1.4" fill="#00468B"/>
<path d="M184.47,41.48 h3 v3 h-3z M184.47,41.48 l3,3 M187.47,41.48 l-3,3" stroke="#925E9F" stroke-width="0.6" fill="none"/>
<path d="M245.11,172.54 h3 v3 h-3z M245.11,172.54 l3,3 M248.11,172.54 l-3,3" stroke="#925E9F" stroke-width="0.6" fill="none"/>
<path d="M129.99,146.08 h3 v3 h-3z M129.99,146.08 l3,3 M132.99,146.08 l-3,3" stroke="#925E9F" stroke-width="0.6" fill="none"/>
<rect x="265.78" y="186.22" width="2.4" height="2.4" fill="#42B540"/>
<circle cx="144.07" cy="182.1" r="1.4" fill="#00468B"/>
<path d="M195.1,161.29 l1.6,2.8 h-3.2z" fill="#ED0000"/>
<circle cx="239.62" cy="185.81" r="1.4" fill="#00468B"/>
<path d="M281.11,192.19 l1.6,2.8 h-3.2z" fill="#ED0000"/>
<path d="M125.92,157.01 h3.8 M127.82,155.11 v3.8" stroke="#0099B4" stroke-width="0.55" fill="none"/>
<rect x="166.27" y="147.04" width="2.4" height="2.4" fill="#42B540"/>
<rect x="93.36" y="142.35" width="2.4" height="2.4" fill="#42B540"/>
<circle cx="190.39" cy="140.86" r="1.4" fill="#00468B"/>
<path d="M271.3,191.62 h3 v3 h-3z M271.3,191.62 l3,3 M274.3,191.62 l-3,3" stroke="#925E9F" stroke-width="0.6" fill="none"/>
<circle cx="207.32" cy="168.91" r="1.4" fill="#00468B"/>
<circle cx="254.53" cy="184.22" r="1.4" fill="#00468B"/>
<rect x="280.19" y="190.33" width="2.4" height="2.4" fill="#42B540"/>
<circle cx="241.26" cy="157.76" r="1.4" fill="#00468B"/>
<path d="M278.43,183.42 h3 v3 h-3z M278.43,183.42 l3,3 M281.43,183.42 l-3,3" stroke="#925E9F" stroke-width="0.6" fill="none"/>
<path d="M276.88,163.13 h3 v3 h-3z M276.88,163.13 l3,3 M279.88,163.13 l-3,3" stroke="#925E9F" stroke-width="0.6" fill="none"/>
<circle cx="130.33" cy="139.63" r="1.4" fill="#00468B"/>
<path d="M106.58,101.93 l1.6,2.8 h-3.2z" fill="#ED0000"/>
<rect x="57.23" y="89.87" width="2.4" height="2.4" fill="#42B540"/>
<path d="M232.38,186.16 h3 v3 h-3z M232.38,186.16 l3,3 M235.38,186.16 l-3,3" stroke="#925E9F" stroke-width="0.6" fill="none"/>
<path d="M230.26,176.3 h3.8 M232.16,174.4 v3.8" stroke="#0099B4" stroke-width="0.55" fill="none"/>
<path d="M224.4,176.89 l1.6,2.8 h-3.2z" fill="#ED0000"/>
<circle cx="191.11" cy="153.61" r="1.4" fill="#00468B"/>
<circle cx="173.99" cy="175" r="1.4" fill="#00468B"/>
<circle cx="262.5" cy="174.87" r="1.4" fill="#00468B"/>
<rect x="207.88" y="157.81" width="2.4" height="2.4" fill="#42B540"/>
<circle cx="107.37" cy="141.62" r="1.4" fill="#00468B"/>
<path d="M269.79,189.22 h3 v3 h-3z M269.79,189.22 l3,3 M272.79,189.22 l-3,3" stroke="#925E9F" stroke-width="0.6" fill="none"/>
<circle cx="252.4" cy="170.11" r="1.4" fill="#00468B"/>
<circle cx="200.27" cy="160.81" r="1.4" fill="#00468B"/>
<path d="M275.93,191.57 h3.8 M277.83,189.67 v3.8" stroke="#0099B4" stroke-width="0.55" fill="none"/>
<path d="M285.25,179.74 h3 v3 h-3z M285.25,179.74 l3,3 M288.25,179.74 l-3,3" stroke="#925E9F" stroke-width="0.6" fill="none"/>
<path d="M175.07,141.01 l1.6,2.8 h-3.2z" fill="#ED0000"/>
<path d="M287.71,188.49 l1.6,2.8 h-3.2z" fill="#ED0000"/>
<circle cx="138.01" cy="144.78" r="1.4" fill="#00468B"/>
<path d="M208.49,171.77 h3 v3 h-3z M208.49,171.77 l3,3 M211.49,171.77 l-3,3" stroke="#925E9F" stroke-width="0.6" fill="none"/>
<path d="M166.76,170.83 l1.6,2.8 h-3.2z" fill="#ED0000"/>
<rect x="173.36" y="169.89" width="2.4" height="2.4" fill="#42B540"/>
<rect x="158.4" y="99.82" width="2.4" height="2.4" fill="#42B540"/>
<path d="M195.19,159 l1.6,2.8 h-3.2z" fill="#ED0000"/>
<rect x="244.72" y="181.38" width="2.4" height="2.4" fill="#42B540"/>
<rect x="277.52" y="187" width="2.4" height="2.4" fill="#42B540"/>
<circle cx="207.53" cy="182.3" r="1.4" fill="#00468B"/>
<rect x="138.43" y="168.94" width="2.4" height="2.4" fill="#42B540"/>
<path d="M234.62,179.08 h3 v3 h-3z M234.62,179.08 l3,3 M237.62,179.08 l-3,3" stroke="#925E9F" stroke-width="0.6" fill="none"/>
<circle cx="242.85" cy="184.57" r="1.4" fill="#00468B"/>
<path d="M149.08,173.34 h3.8 M150.98,171.44 v3.8" stroke="#0099B4" stroke-width="0.55" fill="none"/>
<rect x="250.89" y="178" width="2.4" height="2.4" fill="#42B540"/>
<rect x="167.57" y="83.91" width="2.4" height="2.4" fill="#42B540"/>
<rect x="206.37" y="179.76" width="2.4" height="2.4" fill="#42B540"/>
<circle cx="160.75" cy="184.71" r="1.4" fill="#00468B"/>
<circle cx="172.35" cy="146.56" r="1.4" fill="#00468B"/>
<path d="M242.18,174.07 l1.6,2.8 h-3.2z" fill="#ED0000"/>
<circle cx="185.86" cy="175.7" r="1.4" fill="#00468B"/>
<rect x="237.11" y="179.56" width="2.4" height="2.4" fill="#42B540"/>
<path d="M149.62,134.6 l1.6,2.8 h-3.2z" fill="#ED0000"/>
<circle cx="223.83" cy="182.61" r="1.4" fill="#00468B"/>
<path d="M246.02,194.24 h3.8 M247.92,192.34 v3.8" stroke="#0099B4" stroke-width="0.55" fill="none"/>
<path d="M248.84,191.67 h3.8 M250.74,189.77 v3.8" stroke="#0099B4" stroke-width="0.55" fill="none"/>
<path d="M269.38,191.32 h3 v3 h-3z M269.38,191.32 l3,3 M272.38,191.32 l-3,3" stroke="#925E9F" stroke-width="0.6" fill="none"/>
<path d="M184.24,156.89 l1.6,2.8 h-3.2z" fill="#ED0000"/>
<path d="M254.42,168.63 h3 v3 h-3z M254.42,168.63 l3,3 M257.42,168.63 l-3,3" stroke="#925E9F" stroke-width="0.6" fill="none"/>
<path d="M166.07,178.17 h3.8 M167.97,176.27 v3.8" stroke="#0099B4" stroke-width="0.55" fill="none"/>
<path d="M219.62,187.37 h3.8 M221.52,185.47 v3.8" stroke="#0099B4" stroke-width="0.55" fill="none"/>
<circle cx="222.33" cy="167.63" r="1.4" fill="#00468B"/>
<path d="M248.03,166.44 h3 v3 h-3z M248.03,166.44 l3,3 M251.03,166.44 l-3,3" stroke="#925E9F" stroke-width="0.6" fill="none"/>
<path d="M292.35,192.66 h3.8 M294.25,190.76 v3.8" stroke="#0099B4" stroke-width="0.55" fill="none"/>
<path d="M224.11,144.87 h3 v3 h-3z M224.11,144.87 l3,3 M227.11,144.87 l-3,3" stroke="#925E9F" stroke-width="0.6" fill="none"/>
<circle cx="215.85" cy="183.61" r="1.4" fill="#00468B"/>
<rect x="162.6" y="134.9" width="2.4" height="2.4" fill="#42B540"/>
<path d="M281.11,186.99 l1.6,2.8 h-3.2z" fill="#ED0000"/>
<path d="M170.71,152.33 h3 v3 h-3z M170.71,152.33 l3,3 M173.71,152.33 l-3,3" stroke="#925E9F" stroke-width="0.6" fill="none"/>
<path d="M173.32,153.94 h3 v3 h-3z M173.32,153.94 l3,3 M176.32,153.94 l-3,3" stroke="#925E9F" stroke-width="0.6" fill="none"/>
<circle cx="267.47" cy="187.27" r="1.4" fill="#00468B"/>
<path d="M225.82,174.15 h3.8 M227.72,172.25 v3.8" stroke="#0099B4" stroke-width="0.55" fill="none"/>
<circle cx="67.58" cy="137.4" r="1.4" fill="#00468B"/>
<circle cx="117.18" cy="107.4" r="1.4" fill="#00468B"/>
<path d="M251.63,196.3 l1.6,2.8 h-3.2z" fill="#ED0000"/>
<path d="M280.66,198.37 l1.6,2.8 h-3.2z" fill="#ED0000"/>
<path d="M260,194.73 h3.8 M261.9,192.83 v3.8" stroke="#0099B4" stroke-width="0.55" fill="none"/>
<rect x="238.62" y="188.38" width="2.4" height="2.4" fill="#42B540"/>
<path d="M264.6,191.97 h3 v3 h-3z M264.6,191.97 l3,3 M267.6,191.97 l-3,3" stroke="#925E9F" stroke-width="0.6" fill="none"/>
<path d="M252.55,182.07 h3.8 M254.45,180.17 v3.8" stroke="#0099B4" stroke-width="0.55" fill="none"/>
<path d="M215.71,160.72 h3 v3 h-3z M215.71,160.72 l3,3 M218.71,160.72 l-3,3" stroke="#925E9F" stroke-width="0.6" fill="none"/>
<path d="M283.33,188.4 h3.8 M285.23,186.5 v3.8" stroke="#0099B4" stroke-width="0.55" fill="none"/>
<path d="M243.5,187.16 h3 v3 h-3z M243.5,187.16 l3,3 M246.5,187.16 l-3,3" stroke="#925E9F" stroke-width="0.6" fill="none"/>
<rect x="213.82" y="189.05" width="2.4" height="2.4" fill="#42B540"/>
<path d="M201.91,157.45 l1.6,2.8 h-3.2z" fill="#ED0000"/>
<path d="M134.88,110.8 h3 v3 h-3z M134.88,110.8 l3,3 M137.88,110.8 l-3,3" stroke="#925E9F" stroke-width="0.6" fill="none"/>
<path d="M271.2,169.36 h3 v3 h-3z M271.2,169.36 l3,3 M274.2,169.36 l-3,3" stroke="#925E9F" stroke-width="0.6" fill="none"/>
<path d="M165.45,170.53 h3.8 M167.35,168.63 v3.8" stroke="#0099B4" stroke-width="0.55" fill="none"/>
<path d="M272.36,187.11 h3 v3 h-3z M272.36,187.11 l3,3 M275.36,187.11 l-3,3" stroke="#925E9F" stroke-width="0.6" fill="none"/>
<path d="M194.97,175.9 l1.6,2.8 h-3.2z" fill="#ED0000"/>
<circle cx="229.83" cy="191.48" r="1.4" fill="#00468B"/>
<rect x="211.11" y="192.89" width="2.4" height="2.4" fill="#42B540"/>
<path d="M205.9,182.59 l1.6,2.8 h-3.2z" fill="#ED0000"/>
<path d="M202.29,170.96 l1.6,2.8 h-3.2z" fill="#ED0000"/>
<circle cx="220.58" cy="173.99" r="1.4" fill="#00468B"/>
<path d="M170.67,120.73 h3.8 M172.57,118.83 v3.8" stroke="#0099B4" stroke-width="0.55" fill="none"/>
<path d="M248.27,172.93 l1.6,2.8 h-3.2z" fill="#ED0000"/>
<rect x="162.77" y="129.73" width="2.4" height="2.4" fill="#42B540"/>
<path d="M181.02,154.39 h3 v3 h-3z M181.02,154.39 l3,3 M184.02,154.39 l-3,3" stroke="#925E9F" stroke-width="0.6" fill="none"/>
<circle cx="241.25" cy="184.03" r="1.4" fill="#00468B"/>
<path d="M60.37,83.4 h3 v3 h-3z M60.37,83.4 l3,3 M63.37,83.4 l-3,3" stroke="#925E9F" stroke-width="0.6" fill="none"/>
<circle cx="204.15" cy="159.94" r="1.4" fill="#00468B"/>
<path d="M106,84.59 l1.6,2.8 h-3.2z" fill="#ED0000"/>
<path d="M54.99,99.91 l1.6,2.8 h-3.2z" fill="#ED0000"/>
<path d="M199.58,128.06 h3 v3 h-3z M199.58,128.06 l3,3 M202.58,128.06 l-3,3" stroke="#925E9F" stroke-width="0.6" fill="none"/>
<path d="M191.75,164.7 l1.6,2.8 h-3.2z" fill="#ED0000"/>
<path d="M222.3,118.09 h3 v3 h-3z M222.3,118.09 l3,3 M225.3,118.09 l-3,3" stroke="#925E9F" stroke-width="0.6" fill="none"/>
<path d="M223.12,174.97 l1.6,2.8 h-3.2z" fill="#ED0000"/>
<rect x="287.53" y="194.74" width="2.4" height="2.4" fill="#42B540"/>
<path d="M197.87,136.3 l1.6,2.8 h-3.2z" fill="#ED0000"/>
<path d="M211.58,170.17 l1.6,2.8 h-3.2z" fill="#ED0000"/>
<path d="M180.11,180.11 h3.8 M182.01,178.21 v3.8" stroke="#0099B4" stroke-width="0.55" fill="none"/>
<path d="M238.05,174.28 l1.6,2.8 h-3.2z" fill="#ED0000"/>
<circle cx="204.4" cy="153.31" r="1.4" fill="#00468B"/>
<rect x="156.25" y="166.32" width="2.4" height="2.4" fill="#42B540"/>
<rect x="155.89" y="131.03" width="2.4" height="2.4" fill="#42B540"/>
<path d="M219.65,159.82 l1.6,2.8 h-3.2z" fill="#ED0000"/>
<path d="M193.55,169.13 l1.6,2.8 h-3.2z" fill="#ED0000"/>
<path d="M235.1,184.95 h3.8 M237,183.05 v3.8" stroke="#0099B4" stroke-width="0.55" fill="none"/>
<path d="M284.77,196.63 h3.8 M286.67,194.73 v3.8" stroke="#0099B4" stroke-width="0.55" fill="none"/>
<path d="M296.13,193.08 h3.8 M298.03,191.18 v3.8" stroke="#0099B4" stroke-width="0.55" fill="none"/>
<rect x="180.33" y="180.32" width="2.4" height="2.4" fill="#42B540"/>
<path d="M166.76,79.59 l1.6,2.8 h-3.2z" fill="#ED0000"/>
<path d="M276.1,187.8 l1.6,2.8 h-3.2z" fill="#ED0000"/>
<rect x="289.57" y="186.46" width="2.4" height="2.4" fill="#42B540"/>
<path d="M175.08,83.31 l1.6,2.8 h-3.2z" fill="#ED0000"/>
<rect x="234.98" y="177.68" width="2.4" height="2.4" fill="#42B540"/>
<path d="M230.67,180.24 h3.8 M232.57,178.34 v3.8" stroke="#0099B4" stroke-width="0.55" fill="none"/>
<circle cx="199.7" cy="172.4" r="1.4" fill="#00468B"/>
<path d="M223.1,185.64 h3.8 M225,183.74 v3.8" stroke="#0099B4" stroke-width="0.55" fill="none"/>
<circle cx="220.01" cy="185.61" r="1.4" fill="#00468B"/>
<rect x="214.03" y="163.39" width="2.4" height="2.4" fill="#42B540"/>
<circle cx="179.55" cy="179.85" r="1.4" fill="#00468B"/>
<path d="M235.07,152.66 h3 v3 h-3z M235.07,152.66 l3,3 M238.07,152.66 l-3,3" stroke="#925E9F" stroke-width="0.6" fill="none"/>
<circle cx="262.48" cy="191.12" r="1.4" fill="#00468B"/>
<circle cx="127.94" cy="170.07" r="1.4" fill="#00468B"/>
<path d="M220.87,150.66 h3 v3 h-3z M220.87,150.66 l3,3 M223.87,150.66 l-3,3" stroke="#925E9F" stroke-width="0.6" fill="none"/>
<path d="M200.33,171.86 h3.8 M202.23,169.96 v3.8" stroke="#0099B4" stroke-width="0.55" fill="none"/>
<path d="M213.67,165.13 l1.6,2.8 h-3.2z" fill="#ED0000"/>
<path d="M169.05,154.95 h3.8 M170.95,153.05 v3.8" stroke="#0099B4" stroke-width="0.55" fill="none"/>
<path d="M147.87,161.28 h3 v3 h-3z M147.87,161.28 l3,3 M150.87,161.28 l-3,3" stroke="#925E9F" stroke-width="0.6" fill="none"/>
<path d="M244.5,188.5 l1.6,2.8 h-3.2z" fill="#ED0000"/>
<circle cx="215.04" cy="171.99" r="1.4" fill="#00468B"/>
<circle cx="179.88" cy="172.4" r="1.4" fill="#00468B"/>
<path d="M252.63,156.96 h3 v3 h-3z M252.63,156.96 l3,3 M255.63,156.96 l-3,3" stroke="#925E9F" stroke-width="0.6" fill="none"/>
<path d="M294.77,198.26 h3.8 M296.67,196.36 v3.8" stroke="#0099B4" stroke-width="0.55" fill="none"/>
<path d="M208.31,164.9 h3.8 M210.21,163 v3.8" stroke="#0099B4" stroke-width="0.55" fill="none"/>
<circle cx="163.89" cy="149.09" r="1.4" fill="#00468B"/>
<rect x="224.59" y="169.17" width="2.4" height="2.4" fill="#42B540"/>
<path d="M289.64,205.5 h3.8 M291.54,203.6 v3.8" stroke="#0099B4" stroke-width="0.55" fill="none"/>
<path d="M260.56,174.64 h3 v3 h-3z M260.56,174.64 l3,3 M263.56,174.64 l-3,3" stroke="#925E9F" stroke-width="0.6" fill="none"/>
<path d="M263.2,193.31 h3.8 M265.1,191.41 v3.8" stroke="#0099B4" stroke-width="0.55" fill="none"/>
<path d="M260.49,179.91 h3.8 M262.39,178.01 v3.8" stroke="#0099B4" stroke-width="0.55" fill="none"/>
<rect x="223.08" y="181.53" width="2.4" height="2.4" fill="#42B540"/>
<path d="M210.75,175.48 h3.8 M212.65,173.58 v3.8" stroke="#0099B4" stroke-width="0.55" fill="none"/>
<rect x="155.92" y="155.4" width="2.4" height="2.4" fill="#42B540"/>
<path d="M130.4,143.87 h3.8 M132.3,141.97 v3.8" stroke="#0099B4" stroke-width="0.55" fill="none"/>
<rect x="288.77" y="198.84" width="2.4" height="2.4" fill="#42B540"/>
<path d="M290.17,198.08 h3.8 M292.07,196.18 v3.8" stroke="#0099B4" stroke-width="0.55" fill="none"/>
<path d="M203.3,183.57 h3.8 M205.2,181.67 v3.8" stroke="#0099B4" stroke-width="0.55" fill="none"/>
<path d="M201.84,172.13 h3 v3 h-3z M201.84,172.13 l3,3 M204.84,172.13 l-3,3" stroke="#925E9F" stroke-width="0.6" fill="none"/>
<path d="M201.46,182.11 h3.8 M203.36,180.21 v3.8" stroke="#0099B4" stroke-width="0.55" fill="none"/>
<rect x="156.85" y="164.92" width="2.4" height="2.4" fill="#42B540"/>
<rect x="191.46" y="155.56" width="2.4" height="2.4" fill="#42B540"/>
<rect x="182.19" y="153.91" width="2.4" height="2.4" fill="#42B540"/>
<path d="M187.12,160.43 l1.6,2.8 h-3.2z" fill="#ED0000"/>
<circle cx="138.42" cy="143.68" r="1.4" fill="#00468B"/>
<path d="M233.52,178.37 h3.8 M235.42,176.47 v3.8" stroke="#0099B4" stroke-width="0.55" fill="none"/>
<rect x="159.75" y="164.99" width="2.4" height="2.4" fill="#42B540"/>
<circle cx="225.25" cy="166.81" r="1.4" fill="#00468B"/>
<rect x="205.78" y="187.49" width="2.4" height="2.4" fill="#42B540"/>
<path d="M259.57,184.24 h3.8 M261.47,182.34 v3.8" stroke="#0099B4" stroke-width="0.55" fill="none"/>
<path d="M219.31,176.82 l1.6,2.8 h-3.2z" fill="#ED0000"/>
<path d="M199.93,184.19 h3.8 M201.83,182.29 v3.8" stroke="#0099B4" stroke-width="0.55" fill="none"/>
<path d="M235.76,188.99 h3.8 M237.66,187.09 v3.8" stroke="#0099B4" stroke-width="0.55" fill="none"/>
<circle cx="204.64" cy="158.03" r="1.4" fill="#00468B"/>
<path d="M272.55,183.56 h3 v3 h-3z M272.55,183.56 l3,3 M275.55,183.56 l-3,3" stroke="#925E9F" stroke-width="0.6" fill="none"/>
<path d="M282.28,201.16 l1.6,2.8 h-3.2z" fill="#ED0000"/>
<path d="M191.78,151.18 h3.8 M193.68,149.28 v3.8" stroke="#0099B4" stroke-width="0.55" fill="none"/>
<path d="M177.82,171.17 l1.6,2.8 h-3.2z" fill="#ED0000"/>
<path d="M186.23,118.64 h3 v3 h-3z M186.23,118.64 l3,3 M189.23,118.64 l-3,3" stroke="#925E9F" stroke-width="0.6" fill="none"/>
<path d="M218.58,164.84 h3.8 M220.48,162.94 v3.8" stroke="#0099B4" stroke-width="0.55" fill="none"/>
<path d="M250.03,137.98 h3 v3 h-3z M250.03,137.98 l3,3 M253.03,137.98 l-3,3" stroke="#925E9F" stroke-width="0.6" fill="none"/>
<path d="M177.13,143.33 l1.6,2.8 h-3.2z" fill="#ED0000"/>
<path d="M247.89,188.12 h3.8 M249.79,186.22 v3.8" stroke="#0099B4" stroke-width="0.55" fill="none"/>
<rect x="230.59" y="183.58" width="2.4" height="2.4" fill="#42B540"/>
<rect x="201.57" y="144.37" width="2.4" height="2.4" fill="#42B540"/>
<path d="M267.89,185.64 h3 v3 h-3z M267.89,185.64 l3,3 M270.89,185.64 l-3,3" stroke="#925E9F" stroke-width="0.6" fill="none"/>
<path d="M244.89,142.91 h3 v3 h-3z M244.89,142.91 l3,3 M247.89,142.91 l-3,3" stroke="#925E9F" stroke-width="0.6" fill="none"/>
<circle cx="252.83" cy="190.67" r="1.4" fill="#00468B"/>
<circle cx="223.91" cy="182.71" r="1.4" fill="#00468B"/>
<path d="M264.66,173.68 h3 v3 h-3z M264.66,173.68 l3,3 M267.66,173.68 l-3,3" stroke="#925E9F" stroke-width="0.6" fill="none"/>
<path d="M142.03,174.48 h3.8 M143.93,172.58 v3.8" stroke="#0099B4" stroke-width="0.55" fill="none"/>
<circle cx="164.13" cy="180.13" r="1.4" fill="#00468B"/>
<path d="M232.51,185.01 h3.8 M234.41,183.11 v3.8" stroke="#0099B4" stroke-width="0.55" fill="none"/>
<rect x="192.73" y="155.23" width="2.4" height="2.4" fill="#42B540"/>
<path d="M124.83,118.76 l1.6,2.8 h-3.2z" fill="#ED0000"/>
<rect x="240.16" y="172.84" width="2.4" height="2.4" fill="#42B540"/>
<path d="M198.88,152.21 l1.6,2.8 h-3.2z" fill="#ED0000"/>
<path d="M273.44,195.68 h3.8 M275.34,193.78 v3.8" stroke="#0099B4" stroke-width="0.55" fill="none"/>
<path d="M244.57,165.51 h3 v3 h-3z M244.57,165.51 l3,3 M247.57,165.51 l-3,3" stroke="#925E9F" stroke-width="0.6" fill="none"/>
<path d="M156.9,163.16 h3 v3 h-3z M156.9,163.16 l3,3 M159.9,163.16 l-3,3" stroke="#925E9F" stroke-width="0.6" fill="none"/>
<circle cx="229.23" cy="168.56" r="1.4" fill="#00468B"/>
<path d="M273.98,171.38 h3 v3 h-3z M273.98,171.38 l3,3 M276.98,171.38 l-3,3" stroke="#925E9F" stroke-width="0.6" fill="none"/>
<rect x="115.71" y="125.22" width="2.4" height="2.4" fill="#42B540"/>
<path d="M293.94,196.03 h3 v3 h-3z M293.94,196.03 l3,3 M296.94,196.03 l-3,3" stroke="#925E9F" stroke-width="0.6" fill="none"/>
<circle cx="171.07" cy="128.22" r="1.4" fill="#00468B"/>
<path d="M270.49,188.7 l1.6,2.8 h-3.2z" fill="#ED0000"/>
<path d="M206.19,156.13 h3.8 M208.09,154.23 v3.8" stroke="#0099B4" stroke-width="0.55" fill="none"/>
<circle cx="242.09" cy="165.56" r="1.4" fill="#00468B"/>
<path d="M231.19,166.54 h3 v3 h-3z M231.19,166.54 l3,3 M234.19,166.54 l-3,3" stroke="#925E9F" stroke-width="0.6" fill="none"/>
<path d="M219.78,198.09 h3.8 M221.68,196.19 v3.8" stroke="#0099B4" stroke-width="0.55" fill="none"/>
<path d="M163.82,143.94 h3.8 M165.72,142.04 v3.8" stroke="#0099B4" stroke-width="0.55" fill="none"/>
<rect x="250.46" y="176.3" width="2.4" height="2.4" fill="#42B540"/>
<path d="M201.58,133.73 h3 v3 h-3z M201.58,133.73 l3,3 M204.58,133.73 l-3,3" stroke="#925E9F" stroke-width="0.6" fill="none"/>
<path d="M249.48,177.55 l1.6,2.8 h-3.2z" fill="#ED0000"/>
<path d="M239,178.08 h3 v3 h-3z M239,178.08 l3,3 M242,178.08 l-3,3" stroke="#925E9F" stroke-width="0.6" fill="none"/>
<path d="M241.33,181.85 h3 v3 h-3z M241.33,181.85 l3,3 M244.33,181.85 l-3,3" stroke="#925E9F" stroke-width="0.6" fill="none"/>
<rect x="142.46" y="148.31" width="2.4" height="2.4" fill="#42B540"/>
<circle cx="208.29" cy="158.79" r="1.4" fill="#00468B"/>
<path d="M270.17,189.36 h3.8 M272.07,187.46 v3.8" stroke="#0099B4" stroke-width="0.55" fill="none"/>
<rect x="236.84" y="193.27" width="2.4" height="2.4" fill="#42B540"/>
<path d="M240.12,170.45 h3 v3 h-3z M240.12,170.45 l3,3 M243.12,170.45 l-3,3" stroke="#925E9F" stroke-width="0.6" fill="none"/>
<circle cx="273.9" cy="190.35" r="1.4" fill="#00468B"/>
<path d="M218.49,162.11 h3 v3 h-3z M218.49,162.11 l3,3 M221.49,162.11 l-3,3" stroke="#925E9F" stroke-width="0.6" fill="none"/>
<rect x="276.02" y="187.4" width="2.4" height="2.4" fill="#42B540"/>
<path d="M286.13,193.32 h3 v3 h-3z M286.13,193.32 l3,3 M289.13,193.32 l-3,3" stroke="#925E9F" stroke-width="0.6" fill="none"/>
<path d="M83.76,155.23 h3.8 M85.66,153.33 v3.8" stroke="#0099B4" stroke-width="0.55" fill="none"/>
<path d="M204.22,157.66 h3.8 M206.12,155.76 v3.8" stroke="#0099B4" stroke-width="0.55" fill="none"/>
<path d="M174.04,139.45 l1.6,2.8 h-3.2z" fill="#ED0000"/>
<path d="M250.92,174.3 l1.6,2.8 h-3.2z" fill="#ED0000"/>
<circle cx="234.33" cy="199.05" r="1.4" fill="#00468B"/>
<path d="M252.17,188.93 h3.8 M254.07,187.03 v3.8" stroke="#0099B4" stroke-width="0.55" fill="none"/>
<circle cx="256.12" cy="171.35" r="1.4" fill="#00468B"/>
<rect x="191.09" y="172.74" width="2.4" height="2.4" fill="#42B540"/>
<circle cx="278.95" cy="184.96" r="1.4" fill="#00468B"/>
<path d="M161.28,137.09 h3.8 M163.18,135.19 v3.8" stroke="#0099B4" stroke-width="0.55" fill="none"/>
<path d="M266.02,186.1 h3 v3 h-3z M266.02,186.1 l3,3 M269.02,186.1 l-3,3" stroke="#925E9F" stroke-width="0.6" fill="none"/>
<rect x="232.21" y="165.03" width="2.4" height="2.4" fill="#42B540"/>
<circle cx="209.18" cy="164.41" r="1.4" fill="#00468B"/>
<circle cx="265.63" cy="196.94" r="1.4" fill="#00468B"/>
<path d="M199.22,165.07 h3.8 M201.12,163.17 v3.8" stroke="#0099B4" stroke-width="0.55" fill="none"/>
<rect x="218.56" y="188.75" width="2.4" height="2.4" fill="#42B540"/>
<circle cx="159.84" cy="125.89" r="1.4" fill="#00468B"/>
<path d="M213.32,129.75 h3 v3 h-3z M213.32,129.75 l3,3 M216.32,129.75 l-3,3" stroke="#925E9F" stroke-width="0.6" fill="none"/>
<path d="M183.32,105.21 h3 v3 h-3z M183.32,105.21 l3,3 M186.32,105.21 l-3,3" stroke="#925E9F" stroke-width="0.6" fill="none"/>
<rect x="230.44" y="175.61" width="2.4" height="2.4" fill="#42B540"/>
<path d="M171.54,173.74 l1.6,2.8 h-3.2z" fill="#ED0000"/>
<rect x="286.45" y="188.28" width="2.4" height="2.4" fill="#42B540"/>
<path d="M180.36,157.02 l1.6,2.8 h-3.2z" fill="#ED0000"/>
<path d="M287.29,199.52 h3.8 M289.19,197.62 v3.8" stroke="#0099B4" stroke-width="0.55" fill="none"/>
<path d="M213.96,188.53 h3 v3 h-3z M213.96,188.53 l3,3 M216.96,188.53 l-3,3" stroke="#925E9F" stroke-width="0.6" fill="none"/>
<circle cx="238.01" cy="173.9" r="1.4" fill="#00468B"/>
<path d="M146.65,120.66 l1.6,2.8 h-3.2z" fill="#ED0000"/>
<circle cx="243.81" cy="172.74" r="1.4" fill="#00468B"/>
<rect x="230.47" y="166.48" width="2.4" height="2.4" fill="#42B540"/>
<path d="M203.56,145.25 h3 v3 h-3z M203.56,145.25 l3,3 M206.56,145.25 l-3,3" stroke="#925E9F" stroke-width="0.6" fill="none"/>
<path d="M186.83,89 l1.6,2.8 h-3.2z" fill="#ED0000"/>
<circle cx="113.44" cy="145.48" r="1.4" fill="#00468B"/>
<path d="M179.04,170.45 l1.6,2.8 h-3.2z" fill="#ED0000"/>
<path d="M250.69,188.28 h3.8 M252.59,186.38 v3.8" stroke="#0099B4" stroke-width="0.55" fill="none"/>
<path d="M235.87,135.18 h3 v3 h-3z M235.87,135.18 l3,3 M238.87,135.18 l-3,3" stroke="#925E9F" stroke-width="0.6" fill="none"/>
<path d="M148.03,136.74 l1.6,2.8 h-3.2z" fill="#ED0000"/>
<path d="M224.67,178.9 l1.6,2.8 h-3.2z" fill="#ED0000"/>
<path d="M289.68,190.12 h3 v3 h-3z M289.68,190.12 l3,3 M292.68,190.12 l-3,3" stroke="#925E9F" stroke-width="0.6" fill="none"/>
<path d="M181.6,160.45 l1.6,2.8 h-3.2z" fill="#ED0000"/>
<rect x="261.96" y="183.95" width="2.4" height="2.4" fill="#42B540"/>
<path d="M278.83,186.68 h3 v3 h-3z M278.83,186.68 l3,3 M281.83,186.68 l-3,3" stroke="#925E9F" stroke-width="0.6" fill="none"/>
<path d="M202.93,145.14 h3 v3 h-3z M202.93,145.14 l3,3 M205.93,145.14 l-3,3" stroke="#925E9F" stroke-width="0.6" fill="none"/>
<circle cx="252.6" cy="163.06" r="1.4" fill="#00468B"/>
<path d="M188.55,113.58 l1.6,2.8 h-3.2z" fill="#ED0000"/>
<circle cx="228.91" cy="166.61" r="1.4" fill="#00468B"/>
<rect x="215.8" y="160.52" width="2.4" height="2.4" fill="#42B540"/>
<path d="M230.14,140.57 h3 v3 h-3z M230.14,140.57 l3,3 M233.14,140.57 l-3,3" stroke="#925E9F" stroke-width="0.6" fill="none"/>
<circle cx="179.89" cy="163.64" r="1.4" fill="#00468B"/>
<path d="M247.18,167.65 h3.8 M249.08,165.75 v3.8" stroke="#0099B4" stroke-width="0.55" fill="none"/>
<rect x="253.4" y="181.59" width="2.4" height="2.4" fill="#42B540"/>
<circle cx="131.84" cy="171.69" r="1.4" fill="#00468B"/>
<path d="M190.59,154.37 h3.8 M192.49,152.47 v3.8" stroke="#0099B4" stroke-width="0.55" fill="none"/>
<circle cx="213.82" cy="144.92" r="1.4" fill="#00468B"/>
<circle cx="260.96" cy="168.79" r="1.4" fill="#00468B"/>
<path d="M296.8,184.43 h3 v3 h-3z M296.8,184.43 l3,3 M299.8,184.43 l-3,3" stroke="#925E9F" stroke-width="0.6" fill="none"/>
<path d="M162.42,140.3 h3 v3 h-3z M162.42,140.3 l3,3 M165.42,140.3 l-3,3" stroke="#925E9F" stroke-width="0.6" fill="none"/>
<rect x="142.99" y="166.24" width="2.4" height="2.4" fill="#42B540"/>
<path d="M256.37,191.38 h3.8 M258.27,189.48 v3.8" stroke="#0099B4" stroke-width="0.55" fill="none"/>
<path d="M261.56,189.63 h3.8 M263.46,187.73 v3.8" stroke="#0099B4" stroke-width="0.55" fill="none"/>
<path d="M238.1,175.97 l1.6,2.8 h-3.2z" fill="#ED0000"/>
<rect x="282.8" y="186.49" width="2.4" height="2.4" fill="#42B540"/>
<rect x="192.5" y="117.91" width="2.4" height="2.4" fill="#42B540"/>
<path d="M236.64,174.74 l1.6,2.8 h-3.2z" fill="#ED0000"/>
<circle cx="272.19" cy="194.52" r="1.4" fill="#00468B"/>
<path d="M247.94,194.45 h3.8 M249.84,192.55 v3.8" stroke="#0099B4" stroke-width="0.55" fill="none"/>
<path d="M194.11,166.23 h3 v3 h-3z M194.11,166.23 l3,3 M197.11,166.23 l-3,3" stroke="#925E9F" stroke-width="0.6" fill="none"/>
<rect x="272.94" y="192.41" width="2.4" height="2.4" fill="#42B540"/>
<circle cx="192.71" cy="148.43" r="1.4" fill="#00468B"/>
<rect x="192.01" y="146.2" width="2.4" height="2.4" fill="#42B540"/>
<path d="M178.15,154.56 l1.6,2.8 h-3.2z" fill="#ED0000"/>
<circle cx="161.65" cy="143.45" r="1.4" fill="#00468B"/>
<rect x="248.26" y="187.07" width="2.4" height="2.4" fill="#42B540"/>
<path d="M261.48,180.67 h3 v3 h-3z M261.48,180.67 l3,3 M264.48,180.67 l-3,3" stroke="#925E9F" stroke-width="0.6" fill="none"/>
<path d="M112.02,107.52 l1.6,2.8 h-3.2z" fill="#ED0000"/>
<path d="M196.5,161.67 h3.8 M198.4,159.77 v3.8" stroke="#0099B4" stroke-width="0.55" fill="none"/>
<path d="M278.52,191.4 h3.8 M280.42,189.5 v3.8" stroke="#0099B4" stroke-width="0.55" fill="none"/>
<rect x="243.6" y="171.91" width="2.4" height="2.4" fill="#42B540"/>
<path d="M199.16,169.21 h3.8 M201.06,167.31 v3.8" stroke="#0099B4" stroke-width="0.55" fill="none"/>
<path d="M213.83,180.89 l1.6,2.8 h-3.2z" fill="#ED0000"/>
<path d="M163.27,119.16 h3 v3 h-3z M163.27,119.16 l3,3 M166.27,119.16 l-3,3" stroke="#925E9F" stroke-width="0.6" fill="none"/>
<rect x="280.44" y="176.98" width="2.4" height="2.4" fill="#42B540"/>
<path d="M209.86,169.05 h3.8 M211.76,167.15 v3.8" stroke="#0099B4" stroke-width="0.55" fill="none"/>
<rect x="242.89" y="169.16" width="2.4" height="2.4" fill="#42B540"/>
<circle cx="251.92" cy="190.18" r="1.4" fill="#00468B"/>
<path d="M243.26,160.58 h3.8 M245.16,158.68 v3.8" stroke="#0099B4" stroke-width="0.55" fill="none"/>
<rect x="242.76" y="180.53" width="2.4" height="2.4" fill="#42B540"/>
<circle cx="234.18" cy="188.92" r="1.4" fill="#00468B"/>
<rect x="183.68" y="148.39" width="2.4" height="2.4" fill="#42B540"/>
<circle cx="236.39" cy="181.26" r="1.4" fill="#00468B"/>
<path d="M76.9,121.17 l1.6,2.8 h-3.2z" fill="#ED0000"/>
<path d="M256.14,168.75 l1.6,2.8 h-3.2z" fill="#ED0000"/>
<circle cx="257.6" cy="197.03" r="1.4" fill="#00468B"/>
<path d="M141.26,157.91 l1.6,2.8 h-3.2z" fill="#ED0000"/>
<rect x="158.28" y="152.68" width="2.4" height="2.4" fill="#42B540"/>
<path d="M127.15,83.4 h3 v3 h-3z M127.15,83.4 l3,3 M130.15,83.4 l-3,3" stroke="#925E9F" stroke-width="0.6" fill="none"/>
<path d="M235.01,162.65 l1.6,2.8 h-3.2z" fill="#ED0000"/>
<path d="M217.02,161.61 h3.8 M218.92,159.71 v3.8" stroke="#0099B4" stroke-width="0.55" fill="none"/>
<path d="M203.14,147.14 h3 v3 h-3z M203.14,147.14 l3,3 M206.14,147.14 l-3,3" stroke="#925E9F" stroke-width="0.6" fill="none"/>
<path d="M230.16,155.67 h3 v3 h-3z M230.16,155.67 l3,3 M233.16,155.67 l-3,3" stroke="#925E9F" stroke-width="0.6" fill="none"/>
<path d="M207.52,148.82 h3.8 M209.42,146.92 v3.8" stroke="#0099B4" stroke-width="0.55" fill="none"/>
<path d="M257.86,188.93 h3.8 M259.76,187.03 v3.8" stroke="#0099B4" stroke-width="0.55" fill="none"/>
<path d="M224.95,191.52 h3.8 M226.85,189.62 v3.8" stroke="#0099B4" stroke-width="0.55" fill="none"/>
<rect x="219.51" y="180.68" width="2.4" height="2.4" fill="#42B540"/>
<path d="M150.22,133.68 l1.6,2.8 h-3.2z" fill="#ED0000"/>
<path d="M204.68,156.99 l1.6,2.8 h-3.2z" fill="#ED0000"/>
<rect x="113.97" y="149.86" width="2.4" height="2.4" fill="#42B540"/>
<rect x="201.6" y="176.1" width="2.4" height="2.4" fill="#42B540"/>
<rect x="206.08" y="161.6" width="2.4" height="2.4" fill="#42B540"/>
<path d="M284.31,191.93 h3 v3 h-3z M284.31,191.93 l3,3 M287.31,191.93 l-3,3" stroke="#925E9F" stroke-width="0.6" fill="none"/>
<circle cx="134.57" cy="142.88" r="1.4" fill="#00468B"/>
<rect x="222.06" y="177.37" width="2.4" height="2.4" fill="#42B540"/>
<rect x="138.61" y="144.35" width="2.4" height="2.4" fill="#42B540"/>
<path d="M250.2,198.56 h3.8 M252.1,196.66 v3.8" stroke="#0099B4" stroke-width="0.55" fill="none"/>
<rect x="153.67" y="150.06" width="2.4" height="2.4" fill="#42B540"/>
<path d="M252.96,183.19 h3 v3 h-3z M252.96,183.19 l3,3 M255.96,183.19 l-3,3" stroke="#925E9F" stroke-width="0.6" fill="none"/>
<path d="M144.4,141.76 l1.6,2.8 h-3.2z" fill="#ED0000"/>
<path d="M216.1,183.69 l1.6,2.8 h-3.2z" fill="#ED0000"/>
<circle cx="179.96" cy="161.07" r="1.4" fill="#00468B"/>
<path d="M189.64,136.15 h3 v3 h-3z M189.64,136.15 l3,3 M192.64,136.15 l-3,3" stroke="#925E9F" stroke-width="0.6" fill="none"/>
<circle cx="162.7" cy="177.18" r="1.4" fill="#00468B"/>
<path d="M225.08,183.34 l1.6,2.8 h-3.2z" fill="#ED0000"/>
<path d="M296.04,185.81 h3.8 M297.94,183.91 v3.8" stroke="#0099B4" stroke-width="0.55" fill="none"/>
<path d="M103.75,117.38 h3.8 M105.65,115.48 v3.8" stroke="#0099B4" stroke-width="0.55" fill="none"/>
<path d="M254.62,186.53 l1.6,2.8 h-3.2z" fill="#ED0000"/>
<rect x="218.9" y="173.38" width="2.4" height="2.4" fill="#42B540"/>
<circle cx="220.76" cy="189.94" r="1.4" fill="#00468B"/>
<path d="M256.3,193.99 l1.6,2.8 h-3.2z" fill="#ED0000"/>
<circle cx="191.55" cy="148.52" r="1.4" fill="#00468B"/>
<circle cx="182.96" cy="157.03" r="1.4" fill="#00468B"/>
<rect x="238.27" y="174.81" width="2.4" height="2.4" fill="#42B540"/>
<path d="M251.88,190.98 h3.8 M253.78,189.08 v3.8" stroke="#0099B4" stroke-width="0.55" fill="none"/>
<path d="M199.05,165.87 h3.8 M200.95,163.97 v3.8" stroke="#0099B4" stroke-width="0.55" fill="none"/>
<path d="M148.35,112.82 h3 v3 h-3z M148.35,112.82 l3,3 M151.35,112.82 l-3,3" stroke="#925E9F" stroke-width="0.6" fill="none"/>
<circle cx="269.63" cy="196.48" r="1.4" fill="#00468B"/>
<rect x="183.17" y="188.75" width="2.4" height="2.4" fill="#42B540"/>
<path d="M132.82,133.94 h3 v3 h-3z M132.82,133.94 l3,3 M135.82,133.94 l-3,3" stroke="#925E9F" stroke-width="0.6" fill="none"/>
<rect x="286.38" y="194.78" width="2.4" height="2.4" fill="#42B540"/>
<circle cx="130.83" cy="143.42" r="1.4" fill="#00468B"/>
<path d="M187.22,168.5 h3 v3 h-3z M187.22,168.5 l3,3 M190.22,168.5 l-3,3" stroke="#925E9F" stroke-width="0.6" fill="none"/>
<circle cx="203.65" cy="150.84" r="1.4" fill="#00468B"/>
<path d="M234.07,154.95 h3 v3 h-3z M234.07,154.95 l3,3 M237.07,154.95 l-3,3" stroke="#925E9F" stroke-width="0.6" fill="none"/>
<path d="M232.85,149.01 l1.6,2.8 h-3.2z" fill="#ED0000"/>
<path d="M278.51,176.9 l1.6,2.8 h-3.2z" fill="#ED0000"/>
<rect x="204.74" y="190.94" width="2.4" height="2.4" fill="#42B540"/>
<path d="M222.86,154.16 h3.8 M224.76,152.26 v3.8" stroke="#0099B4" stroke-width="0.55" fill="none"/>
<path d="M158.13,174.88 h3.8 M160.03,172.98 v3.8" stroke="#0099B4" stroke-width="0.55" fill="none"/>
<path d="M271.8,180.72 h3 v3 h-3z M271.8,180.72 l3,3 M274.8,180.72 l-3,3" stroke="#925E9F" stroke-width="0.6" fill="none"/>
<path d="M211.94,185.19 l1.6,2.8 h-3.2z" fill="#ED0000"/>
<circle cx="239.1" cy="173.72" r="1.4" fill="#00468B"/>
<path d="M258.88,176.87 h3.8 M260.78,174.97 v3.8" stroke="#0099B4" stroke-width="0.55" fill="none"/>
<rect x="253.4" y="191.85" width="2.4" height="2.4" fill="#42B540"/>
<circle cx="265.39" cy="197.09" r="1.4" fill="#00468B"/>
<rect x="196.26" y="166.11" width="2.4" height="2.4" fill="#42B540"/>
<circle cx="264.35" cy="190.1" r="1.4" fill="#00468B"/>
<circle cx="228.28" cy="174.41" r="1.4" fill="#00468B"/>
<rect x="195.95" y="178.65" width="2.4" height="2.4" fill="#42B540"/>
<circle cx="209.6" cy="181.42" r="1.4" fill="#00468B"/>
<path d="M284.24,191.83 h3.8 M286.14,189.93 v3.8" stroke="#0099B4" stroke-width="0.55" fill="none"/>
<rect x="96.17" y="124.13" width="2.4" height="2.4" fill="#42B540"/>
<path d="M261.04,186.78 h3.8 M262.94,184.88 v3.8" stroke="#0099B4" stroke-width="0.55" fill="none"/>
<rect x="186.14" y="188.64" width="2.4" height="2.4" fill="#42B540"/>
<path d="M187.8,154.77 l1.6,2.8 h-3.2z" fill="#ED0000"/>
<path d="M143.01,154.58 l1.6,2.8 h-3.2z" fill="#ED0000"/>
<circle cx="195.65" cy="153.02" r="1.4" fill="#00468B"/>
<path d="M254.5,187.28 l1.6,2.8 h-3.2z" fill="#ED0000"/>
<rect x="157.09" y="140.5" width="2.4" height="2.4" fill="#42B540"/>
<circle cx="213.01" cy="165.53" r="1.4" fill="#00468B"/>
<circle cx="240.25" cy="180.3" r="1.4" fill="#00468B"/>
<circle cx="260.75" cy="179.77" r="1.4" fill="#00468B"/>
<path d="M243.63,145.01 h3 v3 h-3z M243.63,145.01 l3,3 M246.63,145.01 l-3,3" stroke="#925E9F" stroke-width="0.6" fill="none"/>
<path d="M189.82,178.4 l1.6,2.8 h-3.2z" fill="#ED0000"/>
<path d="M265.27,189.05 h3.8 M267.17,187.15 v3.8" stroke="#0099B4" stroke-width="0.55" fill="none"/>
<path d="M132.02,106.7 h3 v3 h-3z M132.02,106.7 l3,3 M135.02,106.7 l-3,3" stroke="#925E9F" stroke-width="0.6" fill="none"/>
<path d="M285.8,192.08 l1.6,2.8 h-3.2z" fill="#ED0000"/>
<path d="M227.71,153.38 h3 v3 h-3z M227.71,153.38 l3,3 M230.71,153.38 l-3,3" stroke="#925E9F" stroke-width="0.6" fill="none"/>
<path d="M223.96,147.89 h3 v3 h-3z M223.96,147.89 l3,3 M226.96,147.89 l-3,3" stroke="#925E9F" stroke-width="0.6" fill="none"/>
<path d="M289.52,188.28 h3.8 M291.42,186.38 v3.8" stroke="#0099B4" stroke-width="0.55" fill="none"/>
<circle cx="269.23" cy="188.46" r="1.4" fill="#00468B"/>
<rect x="211.78" y="173.29" width="2.4" height="2.4" fill="#42B540"/>
<path d="M155.2,152.28 h3.8 M157.1,150.38 v3.8" stroke="#0099B4" stroke-width="0.55" fill="none"/>
<path d="M286.46,182.84 h3.8 M288.36,180.94 v3.8" stroke="#0099B4" stroke-width="0.55" fill="none"/>
<path d="M298.06,201.28 h3.8 M299.96,199.38 v3.8" stroke="#0099B4" stroke-width="0.55" fill="none"/>
<path d="M193.37,137.75 h3 v3 h-3z M193.37,137.75 l3,3 M196.37,137.75 l-3,3" stroke="#925E9F" stroke-width="0.6" fill="none"/>
<path d="M287.37,195.04 h3 v3 h-3z M287.37,195.04 l3,3 M290.37,195.04 l-3,3" stroke="#925E9F" stroke-width="0.6" fill="none"/>
<circle cx="273.52" cy="193.96" r="1.4" fill="#00468B"/>
<path d="M195.96,136.12 h3 v3 h-3z M195.96,136.12 l3,3 M198.96,136.12 l-3,3" stroke="#925E9F" stroke-width="0.6" fill="none"/>
<rect x="198.29" y="192.83" width="2.4" height="2.4" fill="#42B540"/>
<rect x="228.63" y="170.6" width="2.4" height="2.4" fill="#42B540"/>
<path d="M274.34,172.52 h3.8 M276.24,170.62 v3.8" stroke="#0099B4" stroke-width="0.55" fill="none"/>
<circle cx="182.97" cy="165.72" r="1.4" fill="#00468B"/>
<rect x="279.07" y="190.04" width="2.4" height="2.4" fill="#42B540"/>
<path d="M154.94,174.72 h3.8 M156.84,172.82 v3.8" stroke="#0099B4" stroke-width="0.55" fill="none"/>
<path d="M276.33,190.69 h3.8 M278.23,188.79 v3.8" stroke="#0099B4" stroke-width="0.55" fill="none"/>
<rect x="290.1" y="188.89" width="2.4" height="2.4" fill="#42B540"/>
<rect x="274.44" y="193.69" width="2.4" height="2.4" fill="#42B540"/>
<rect x="97.49" y="131.31" width="2.4" height="2.4" fill="#42B540"/>
<path d="M191.66,146.51 l1.6,2.8 h-3.2z" fill="#ED0000"/>
<path d="M191.01,174.1 h3.8 M192.91,172.2 v3.8" stroke="#0099B4" stroke-width="0.55" fill="none"/>
<path d="M254.56,167.86 l1.6,2.8 h-3.2z" fill="#ED0000"/>
<path d="M198.37,173.06 h3.8 M200.27,171.16 v3.8" stroke="#0099B4" stroke-width="0.55" fill="none"/>
<path d="M278.28,179.86 l1.6,2.8 h-3.2z" fill="#ED0000"/>
<path d="M207.52,175.9 h3.8 M209.42,174 v3.8" stroke="#0099B4" stroke-width="0.55" fill="none"/>
<path d="M170.89,145.89 h3 v3 h-3z M170.89,145.89 l3,3 M173.89,145.89 l-3,3" stroke="#925E9F" stroke-width="0.6" fill="none"/>
<path d="M247.56,174.86 h3 v3 h-3z M247.56,174.86 l3,3 M250.56,174.86 l-3,3" stroke="#925E9F" stroke-width="0.6" fill="none"/>
<rect x="212.25" y="190.24" width="2.4" height="2.4" fill="#42B540"/>
<path d="M278.51,184.07 h3.8 M280.41,182.17 v3.8" stroke="#0099B4" stroke-width="0.55" fill="none"/>
<path d="M172.98,152.99 h3 v3 h-3z M172.98,152.99 l3,3 M175.98,152.99 l-3,3" stroke="#925E9F" stroke-width="0.6" fill="none"/>
<rect x="228.34" y="144.94" width="2.4" height="2.4" fill="#42B540"/>
<path d="M244.19,169.08 h3 v3 h-3z M244.19,169.08 l3,3 M247.19,169.08 l-3,3" stroke="#925E9F" stroke-width="0.6" fill="none"/>
<circle cx="208.01" cy="187.52" r="1.4" fill="#00468B"/>
<path d="M159.95,131.05 h3.8 M161.85,129.15 v3.8" stroke="#0099B4" stroke-width="0.55" fill="none"/>
<path d="M179.45,143.14 l1.6,2.8 h-3.2z" fill="#ED0000"/>
<path d="M84.45,120.91 l1.6,2.8 h-3.2z" fill="#ED0000"/>
<path d="M294.11,202.19 h3.8 M296.01,200.29 v3.8" stroke="#0099B4" stroke-width="0.55" fill="none"/>
<path d="M254.35,158.82 h3 v3 h-3z M254.35,158.82 l3,3 M257.35,158.82 l-3,3" stroke="#925E9F" stroke-width="0.6" fill="none"/>
<path d="M242.95,177.36 h3.8 M244.85,175.46 v3.8" stroke="#0099B4" stroke-width="0.55" fill="none"/>
<path d="M235.11,191.77 h3.8 M237.01,189.87 v3.8" stroke="#0099B4" stroke-width="0.55" fill="none"/>
<path d="M246.13,178.26 h3 v3 h-3z M246.13,178.26 l3,3 M249.13,178.26 l-3,3" stroke="#925E9F" stroke-width="0.6" fill="none"/>
<path d="M220.06,150.01 h3 v3 h-3z M220.06,150.01 l3,3 M223.06,150.01 l-3,3" stroke="#925E9F" stroke-width="0.6" fill="none"/>
<path d="M235.84,188.83 l1.6,2.8 h-3.2z" fill="#ED0000"/>
<circle cx="94.39" cy="124.23" r="1.4" fill="#00468B"/>
<rect x="257.43" y="182.44" width="2.4" height="2.4" fill="#42B540"/>
<path d="M222.52,163.63 l1.6,2.8 h-3.2z" fill="#ED0000"/>
<path d="M140.74,160.46 l1.6,2.8 h-3.2z" fill="#ED0000"/>
<path d="M113.45,117.88 l1.6,2.8 h-3.2z" fill="#ED0000"/>
<path d="M222.76,170.42 h3 v3 h-3z M222.76,170.42 l3,3 M225.76,170.42 l-3,3" stroke="#925E9F" stroke-width="0.6" fill="none"/>
<rect x="227.78" y="187.18" width="2.4" height="2.4" fill="#42B540"/>
<path d="M238.64,184.68 l1.6,2.8 h-3.2z" fill="#ED0000"/>
<rect x="189.35" y="72.69" width="2.4" height="2.4" fill="#42B540"/>
<path d="M199.67,135.09 h3 v3 h-3z M199.67,135.09 l3,3 M202.67,135.09 l-3,3" stroke="#925E9F" stroke-width="0.6" fill="none"/>
<path d="M98.79,120.69 l1.6,2.8 h-3.2z" fill="#ED0000"/>
<circle cx="134.77" cy="135.44" r="1.4" fill="#00468B"/>
<path d="M269.21,193.43 l1.6,2.8 h-3.2z" fill="#ED0000"/>
<path d="M186.1,150.9 l1.6,2.8 h-3.2z" fill="#ED0000"/>
<path d="M168.75,185.61 l1.6,2.8 h-3.2z" fill="#ED0000"/>
<path d="M220.99,175.29 h3.8 M222.89,173.39 v3.8" stroke="#0099B4" stroke-width="0.55" fill="none"/>
<path d="M187.65,180.51 l1.6,2.8 h-3.2z" fill="#ED0000"/>
<path d="M265.3,172.11 h3 v3 h-3z M265.3,172.11 l3,3 M268.3,172.11 l-3,3" stroke="#925E9F" stroke-width="0.6" fill="none"/>
<circle cx="207.42" cy="160.09" r="1.4" fill="#00468B"/>
<path d="M234.94,161.27 l1.6,2.8 h-3.2z" fill="#ED0000"/>
<path d="M204.3,172.17 h3.8 M206.2,170.27 v3.8" stroke="#0099B4" stroke-width="0.55" fill="none"/>
<path d="M246.71,176.89 l1.6,2.8 h-3.2z" fill="#ED0000"/>
<path d="M246.48,191.37 l1.6,2.8 h-3.2z" fill="#ED0000"/>
<rect x="280.7" y="195.15" width="2.4" height="2.4" fill="#42B540"/>
<path d="M131.73,122.59 l1.6,2.8 h-3.2z" fill="#ED0000"/>
<rect x="196.93" y="169.35" width="2.4" height="2.4" fill="#42B540"/>
<path d="M292.84,189.58 h3 v3 h-3z M292.84,189.58 l3,3 M295.84,189.58 l-3,3" stroke="#925E9F" stroke-width="0.6" fill="none"/>
<circle cx="176.59" cy="140.15" r="1.4" fill="#00468B"/>
<rect x="178.56" y="186.58" width="2.4" height="2.4" fill="#42B540"/>
<circle cx="145.32" cy="134.9" r="1.4" fill="#00468B"/>
<path d="M131.51,76.4 l1.6,2.8 h-3.2z" fill="#ED0000"/>
<rect x="194.98" y="160.61" width="2.4" height="2.4" fill="#42B540"/>
<rect x="224.7" y="168.31" width="2.4" height="2.4" fill="#42B540"/>
<path d="M182.04,150.42 h3.8 M183.94,148.52 v3.8" stroke="#0099B4" stroke-width="0.55" fill="none"/>
<rect x="179.35" y="174.68" width="2.4" height="2.4" fill="#42B540"/>
<path d="M242.2,178.29 h3.8 M244.1,176.39 v3.8" stroke="#0099B4" stroke-width="0.55" fill="none"/>
<path d="M153.87,91.98 l1.6,2.8 h-3.2z" fill="#ED0000"/>
<rect x="212.47" y="152.59" width="2.4" height="2.4" fill="#42B540"/>
<path d="M260.84,180.89 h3 v3 h-3z M260.84,180.89 l3,3 M263.84,180.89 l-3,3" stroke="#925E9F" stroke-width="0.6" fill="none"/>
<path d="M240.98,189.66 h3 v3 h-3z M240.98,189.66 l3,3 M243.98,189.66 l-3,3" stroke="#925E9F" stroke-width="0.6" fill="none"/>
<path d="M208.06,183.19 h3 v3 h-3z M208.06,183.19 l3,3 M211.06,183.19 l-3,3" stroke="#925E9F" stroke-width="0.6" fill="none"/>
<path d="M203.64,150.09 l1.6,2.8 h-3.2z" fill="#ED0000"/>
<path d="M241.99,185.17 h3.8 M243.89,183.27 v3.8" stroke="#0099B4" stroke-width="0.55" fill="none"/>
<path d="M236.23,179.6 h3.8 M238.13,177.7 v3.8" stroke="#0099B4" stroke-width="0.55" fill="none"/>
<path d="M278.49,194.64 l1.6,2.8 h-3.2z" fill="#ED0000"/>
<circle cx="209.56" cy="196.94" r="1.4" fill="#00468B"/>
<rect x="254.57" y="194.72" width="2.4" height="2.4" fill="#42B540"/>
<circle cx="185.91" cy="153.33" r="1.4" fill="#00468B"/>
<path d="M255.88,178.57 h3.8 M257.78,176.67 v3.8" stroke="#0099B4" stroke-width="0.55" fill="none"/>
<rect x="212.35" y="172.17" width="2.4" height="2.4" fill="#42B540"/>
<path d="M237.32,161.37 h3 v3 h-3z M237.32,161.37 l3,3 M240.32,161.37 l-3,3" stroke="#925E9F" stroke-width="0.6" fill="none"/>
<path d="M187.98,176.32 l1.6,2.8 h-3.2z" fill="#ED0000"/>
<path d="M229.17,160.87 h3.8 M231.07,158.97 v3.8" stroke="#0099B4" stroke-width="0.55" fill="none"/>
<path d="M245.44,175.32 h3.8 M247.34,173.42 v3.8" stroke="#0099B4" stroke-width="0.55" fill="none"/>
<path d="M181.73,149.23 h3.8 M183.63,147.33 v3.8" stroke="#0099B4" stroke-width="0.55" fill="none"/>
<path d="M291.77,191.56 h3 v3 h-3z M291.77,191.56 l3,3 M294.77,191.56 l-3,3" stroke="#925E9F" stroke-width="0.6" fill="none"/>
<circle cx="157" cy="157.83" r="1.4" fill="#00468B"/>
<rect x="245.51" y="169.62" width="2.4" height="2.4" fill="#42B540"/>
<rect x="172.88" y="171.16" width="2.4" height="2.4" fill="#42B540"/>
<rect x="274.4" y="181.73" width="2.4" height="2.4" fill="#42B540"/>
<path d="M297.19,185.82 h3 v3 h-3z M297.19,185.82 l3,3 M300.19,185.82 l-3,3" stroke="#925E9F" stroke-width="0.6" fill="none"/>
<path d="M204.29,157.71 h3.8 M206.19,155.81 v3.8" stroke="#0099B4" stroke-width="0.55" fill="none"/>
<path d="M186.8,166.47 h3.8 M188.7,164.57 v3.8" stroke="#0099B4" stroke-width="0.55" fill="none"/>
<path d="M216.27,171.3 l1.6,2.8 h-3.2z" fill="#ED0000"/>
<rect x="209.32" y="174.43" width="2.4" height="2.4" fill="#42B540"/>
<path d="M219.52,167.7 h3 v3 h-3z M219.52,167.7 l3,3 M222.52,167.7 l-3,3" stroke="#925E9F" stroke-width="0.6" fill="none"/>
<circle cx="208.68" cy="172.88" r="1.4" fill="#00468B"/>
<path d="M274.63,196.25 h3 v3 h-3z M274.63,196.25 l3,3 M277.63,196.25 l-3,3" stroke="#925E9F" stroke-width="0.6" fill="none"/>
<path d="M197.29,170.69 h3.8 M199.19,168.79 v3.8" stroke="#0099B4" stroke-width="0.55" fill="none"/>
<rect x="144.69" y="141.95" width="2.4" height="2.4" fill="#42B540"/>
<path d="M296,202.2 h3.8 M297.9,200.3 v3.8" stroke="#0099B4" stroke-width="0.55" fill="none"/>
<path d="M118.45,137.63 h3.8 M120.35,135.73 v3.8" stroke="#0099B4" stroke-width="0.55" fill="none"/>
<circle cx="218.74" cy="166.79" r="1.4" fill="#00468B"/>
<path d="M150.03,157.48 l1.6,2.8 h-3.2z" fill="#ED0000"/>
<rect x="220.3" y="186.2" width="2.4" height="2.4" fill="#42B540"/>
<rect x="247.76" y="193.32" width="2.4" height="2.4" fill="#42B540"/>
<circle cx="214.76" cy="163.62" r="1.4" fill="#00468B"/>
<circle cx="244.03" cy="179.34" r="1.4" fill="#00468B"/>
<path d="M279.24,200.11 l1.6,2.8 h-3.2z" fill="#ED0000"/>
<path d="M226.52,169.09 h3 v3 h-3z M226.52,169.09 l3,3 M229.52,169.09 l-3,3" stroke="#925E9F" stroke-width="0.6" fill="none"/>
<path d="M202.52,168.17 h3 v3 h-3z M202.52,168.17 l3,3 M205.52,168.17 l-3,3" stroke="#925E9F" stroke-width="0.6" fill="none"/>
<path d="M225.38,183.11 h3.8 M227.28,181.21 v3.8" stroke="#0099B4" stroke-width="0.55" fill="none"/>
<rect x="181.5" y="178.01" width="2.4" height="2.4" fill="#42B540"/>
<rect x="224.92" y="164.25" width="2.4" height="2.4" fill="#42B540"/>
<rect x="90.44" y="131.27" width="2.4" height="2.4" fill="#42B540"/>
<circle cx="241.15" cy="171.35" r="1.4" fill="#00468B"/>
<path d="M97.9,138.61 h3.8 M99.8,136.71 v3.8" stroke="#0099B4" stroke-width="0.55" fill="none"/>
<rect x="233.42" y="182.71" width="2.4" height="2.4" fill="#42B540"/>
<path d="M167.09,171.92 h3.8 M168.99,170.02 v3.8" stroke="#0099B4" stroke-width="0.55" fill="none"/>
<path d="M140.2,143.09 h3.8 M142.1,141.19 v3.8" stroke="#0099B4" stroke-width="0.55" fill="none"/>
<circle cx="191.75" cy="172.1" r="1.4" fill="#00468B"/>
<rect x="245.21" y="166.62" width="2.4" height="2.4" fill="#42B540"/>
<rect x="205.97" y="173.63" width="2.4" height="2.4" fill="#42B540"/>
<rect x="283.77" y="186.14" width="2.4" height="2.4" fill="#42B540"/>
<path d="M217.21,159.48 l1.6,2.8 h-3.2z" fill="#ED0000"/>
<path d="M267.87,192.44 h3.8 M269.77,190.54 v3.8" stroke="#0099B4" stroke-width="0.55" fill="none"/>
<path d="M213.77,184.03 h3.8 M215.67,182.13 v3.8" stroke="#0099B4" stroke-width="0.55" fill="none"/>
<rect x="246.93" y="181.96" width="2.4" height="2.4" fill="#42B540"/>
<path d="M181.77,99.32 h3.8 M183.67,97.42 v3.8" stroke="#0099B4" stroke-width="0.55" fill="none"/>
<path d="M218.2,177.76 l1.6,2.8 h-3.2z" fill="#ED0000"/>
<circle cx="159.89" cy="112.88" r="1.4" fill="#00468B"/>
<path d="M241.73,159.15 h3 v3 h-3z M241.73,159.15 l3,3 M244.73,159.15 l-3,3" stroke="#925E9F" stroke-width="0.6" fill="none"/>
<path d="M119.25,131.62 h3.8 M121.15,129.72 v3.8" stroke="#0099B4" stroke-width="0.55" fill="none"/>
<circle cx="153.82" cy="141.53" r="1.4" fill="#00468B"/>
<rect x="223.94" y="171.05" width="2.4" height="2.4" fill="#42B540"/>
<rect x="192.8" y="164.81" width="2.4" height="2.4" fill="#42B540"/>
<rect x="181.89" y="141.01" width="2.4" height="2.4" fill="#42B540"/>
<path d="M285.08,195.1 h3 v3 h-3z M285.08,195.1 l3,3 M288.08,195.1 l-3,3" stroke="#925E9F" stroke-width="0.6" fill="none"/>
<path d="M232.55,147.7 h3 v3 h-3z M232.55,147.7 l3,3 M235.55,147.7 l-3,3" stroke="#925E9F" stroke-width="0.6" fill="none"/>
<path d="M230.56,186.08 h3.8 M232.46,184.18 v3.8" stroke="#0099B4" stroke-width="0.55" fill="none"/>
<path d="M217.71,153.43 h3 v3 h-3z M217.71,153.43 l3,3 M220.71,153.43 l-3,3" stroke="#925E9F" stroke-width="0.6" fill="none"/>
<path d="M224.96,189.65 h3.8 M226.86,187.75 v3.8" stroke="#0099B4" stroke-width="0.55" fill="none"/>
<path d="M285.89,180.04 h3 v3 h-3z M285.89,180.04 l3,3 M288.89,180.04 l-3,3" stroke="#925E9F" stroke-width="0.6" fill="none"/>
<path d="M54.13,104.37 L66.38,109.75 L78.63,115.03 L90.89,120.2 L103.14,125.26 L115.39,130.21 L127.64,135.06 L139.9,139.8 L152.15,144.44 L164.4,148.97 L176.65,153.39 L188.9,157.71 L201.16,161.92 L213.41,166.03 L225.66,170.02 L237.91,173.92 L250.16,177.7 L262.42,181.38 L274.67,184.95 L286.92,188.42 L299.17,191.78 L299.17,206.46 L286.92,201.08 L274.67,195.81 L262.42,190.64 L250.16,185.58 L237.91,180.62 L225.66,175.77 L213.41,171.03 L201.16,166.39 L188.9,161.86 L176.65,157.44 L164.4,153.12 L152.15,148.91 L139.9,144.81 L127.64,140.81 L115.39,136.92 L103.14,133.13 L90.89,129.45 L78.63,125.88 L66.38,122.41 L54.13,119.05Z" fill="#999999" fill-opacity="0.36"/>
<path d="M55.85,98.15 L67.8,103.85 L79.75,109.45 L91.7,114.94 L103.65,120.33 L115.61,125.61 L127.56,130.78 L139.51,135.85 L151.46,140.81 L163.41,145.67 L175.36,150.42 L187.31,155.06 L199.26,159.59 L211.22,164.02 L223.17,168.34 L235.12,172.56 L247.07,176.67 L259.02,180.67 L270.97,184.57 L282.92,188.36 L294.87,192.04 L294.87,206.73 L282.92,201.02 L270.97,195.42 L259.02,189.93 L247.07,184.54 L235.12,179.26 L223.17,174.09 L211.22,169.02 L199.26,164.06 L187.31,159.21 L175.36,154.46 L163.41,149.82 L151.46,145.28 L139.51,140.85 L127.56,136.53 L115.61,132.31 L103.65,128.2 L91.7,124.2 L79.75,120.3 L67.8,116.51 L55.85,112.83Z" fill="#999999" fill-opacity="0.36"/>
<path d="M58.43,108.25 L70.61,113.48 L82.79,118.6 L94.97,123.62 L107.15,128.52 L119.33,133.32 L131.51,138.02 L143.69,142.61 L155.87,147.09 L168.05,151.47 L180.23,155.74 L192.41,159.9 L204.59,163.95 L216.78,167.9 L228.96,171.75 L241.14,175.49 L253.32,179.12 L265.5,182.64 L277.68,186.06 L289.86,189.37 L302.04,192.58 L302.04,207.26 L289.86,202.03 L277.68,196.91 L265.5,191.9 L253.32,186.99 L241.14,182.19 L228.96,177.49 L216.78,172.91 L204.59,168.42 L192.41,164.05 L180.23,159.78 L168.05,155.62 L155.87,151.56 L143.69,147.61 L131.51,143.77 L119.33,140.03 L107.15,136.4 L94.97,132.87 L82.79,129.45 L70.61,126.14 L58.43,122.94Z" fill="#999999" fill-opacity="0.36"/>
<path d="M61.58,118.26 L73.82,123.02 L86.06,127.68 L98.3,132.24 L110.53,136.68 L122.77,141.03 L135.01,145.26 L147.25,149.39 L159.48,153.41 L171.72,157.33 L183.96,161.14 L196.2,164.84 L208.44,168.43 L220.67,171.92 L232.91,175.31 L245.15,178.58 L257.39,181.76 L269.62,184.82 L281.86,187.78 L294.1,190.63 L306.34,193.37 L306.34,208.06 L294.1,203.29 L281.86,198.63 L269.62,194.08 L257.39,189.63 L245.15,185.29 L232.91,181.05 L220.67,176.92 L208.44,172.9 L196.2,168.99 L183.96,165.18 L171.72,161.48 L159.48,157.88 L147.25,154.39 L135.01,151.01 L122.77,147.73 L110.53,144.56 L98.3,141.49 L86.06,138.54 L73.82,135.68 L61.58,132.94Z" fill="#999999" fill-opacity="0.36"/>
<path d="M62.15,90.17 L74.36,96.28 L86.57,102.3 L98.78,108.2 L110.99,114 L123.2,119.69 L135.41,125.28 L147.62,130.76 L159.83,136.13 L172.04,141.4 L184.25,146.56 L196.46,151.61 L208.66,156.56 L220.87,161.4 L233.08,166.14 L245.29,170.76 L257.5,175.29 L269.71,179.7 L281.92,184.01 L294.13,188.21 L306.34,192.31 L306.34,206.99 L294.13,200.88 L281.92,194.86 L269.71,188.96 L257.5,183.16 L245.29,177.47 L233.08,171.88 L220.87,166.4 L208.66,161.03 L196.46,155.76 L184.25,150.6 L172.04,145.55 L159.83,140.6 L147.62,135.76 L135.41,131.02 L123.2,126.4 L110.99,121.87 L98.78,117.46 L86.57,113.15 L74.36,108.95 L62.15,104.85Z" fill="#999999" fill-opacity="0.36"/>
<line x1="54.13" y1="111.71" x2="299.17" y2="199.12" stroke="#00468B" stroke-width="1.3"/>
<line x1="55.85" y1="105.49" x2="294.87" y2="199.39" stroke="#ED0000" stroke-width="1.3"/>
<line x1="58.43" y1="115.6" x2="302.04" y2="199.92" stroke="#42B540" stroke-width="1.3"/>
<line x1="61.58" y1="125.6" x2="306.34" y2="200.72" stroke="#0099B4" stroke-width="1.3"/>
<line x1="62.15" y1="97.51" x2="306.34" y2="199.65" stroke="#925E9F" stroke-width="1.3"/>
<line x1="25.5" y1="13.5" x2="25.5" y2="215.5" stroke="#3a3a3a" stroke-width="1"/>
<line x1="25" y1="215" x2="341" y2="215" stroke="#3a3a3a" stroke-width="1"/>
<line x1="23.3" y1="167.2" x2="25.5" y2="167.2" stroke="#333333" stroke-width="0.7"/>
<text x="22.5" y="169.1" font-size="5.28" text-anchor="end" fill="#5e5e5e">1000</text>
<line x1="23.3" y1="114" x2="25.5" y2="114" stroke="#333333" stroke-width="0.7"/>
<text x="22.5" y="115.9" font-size="5.28" text-anchor="end" fill="#5e5e5e">2000</text>
<line x1="23.3" y1="60.8" x2="25.5" y2="60.8" stroke="#333333" stroke-width="0.7"/>
<text x="22.5" y="62.7" font-size="5.28" text-anchor="end" fill="#5e5e5e">3000</text>
<line x1="39.8" y1="215" x2="39.8" y2="217.2" stroke="#333333" stroke-width="0.7"/>
<text x="39.8" y="222" font-size="5.28" text-anchor="middle" fill="#5e5e5e">0.00</text>
<line x1="111.45" y1="215" x2="111.45" y2="217.2" stroke="#333333" stroke-width="0.7"/>
<text x="111.45" y="222" font-size="5.28" text-anchor="middle" fill="#5e5e5e">0.25</text>
<line x1="183.1" y1="215" x2="183.1" y2="217.2" stroke="#333333" stroke-width="0.7"/>
<text x="183.1" y="222" font-size="5.28" text-anchor="middle" fill="#5e5e5e">0.50</text>
<line x1="254.75" y1="215" x2="254.75" y2="217.2" stroke="#333333" stroke-width="0.7"/>
<text x="254.75" y="222" font-size="5.28" text-anchor="middle" fill="#5e5e5e">0.75</text>
<line x1="326.4" y1="215" x2="326.4" y2="217.2" stroke="#333333" stroke-width="0.7"/>
<text x="326.4" y="222" font-size="5.28" text-anchor="middle" fill="#5e5e5e">1.00</text>
<text x="25.5" y="9.11" font-size="7.8" text-anchor="start" fill="#000">a. All−cause ASM versus SDI</text>
<text x="183.1" y="229.88" font-size="6.6" text-anchor="middle" fill="#000">SDI</text>
<text x="5.5" y="116.68" font-size="6.6" text-anchor="middle" fill="#000" transform="rotate(-90 5.5 114.3)">ASM (1/100,000)</text>
<text x="105.9" y="248.58" font-size="6.6" text-anchor="start" fill="#000">year</text>
<rect x="122" y="241" width="10" height="10" fill="#D9D9D9"/>
<line x1="122.6" y1="246" x2="131.4" y2="246" stroke="#00468B" stroke-width="1.3"/>
<g transform="translate(127,246) scale(0.75) translate(-127,-246)">
<circle cx="127" cy="246" r="1.4" fill="#00468B"/>
</g>
<text x="136.3" y="248.13" font-size="5.36" text-anchor="start" fill="#000">1990</text>
<rect x="150.4" y="241" width="10" height="10" fill="#D9D9D9"/>
<line x1="151" y1="246" x2="159.8" y2="246" stroke="#ED0000" stroke-width="1.3"/>
<g transform="translate(155.4,246) scale(0.75) translate(-155.4,-246)">
<path d="M155.4,244.2 l1.6,2.8 h-3.2z" fill="#ED0000"/>
</g>
<text x="164.7" y="248.13" font-size="5.36" text-anchor="start" fill="#000">2000</text>
<rect x="178.8" y="241" width="10" height="10" fill="#D9D9D9"/>
<line x1="179.4" y1="246" x2="188.2" y2="246" stroke="#42B540" stroke-width="1.3"/>
<g transform="translate(183.8,246) scale(0.75) translate(-183.8,-246)">
<rect x="182.6" y="244.8" width="2.4" height="2.4" fill="#42B540"/>
</g>
<text x="193.1" y="248.13" font-size="5.36" text-anchor="start" fill="#000">2010</text>
<rect x="207.2" y="241" width="10" height="10" fill="#D9D9D9"/>
<line x1="207.8" y1="246" x2="216.6" y2="246" stroke="#0099B4" stroke-width="1.3"/>
<g transform="translate(212.2,246) scale(0.75) translate(-212.2,-246)">
<path d="M210.3,246 h3.8 M212.2,244.1 v3.8" stroke="#0099B4" stroke-width="0.55" fill="none"/>
</g>
<text x="221.5" y="248.13" font-size="5.36" text-anchor="start" fill="#000">2019</text>
<rect x="235.6" y="241" width="10" height="10" fill="#D9D9D9"/>
<line x1="236.2" y1="246" x2="245" y2="246" stroke="#925E9F" stroke-width="1.3"/>
<g transform="translate(240.6,246) scale(0.75) translate(-240.6,-246)">
<path d="M239.1,244.5 h3 v3 h-3z M239.1,244.5 l3,3 M242.1,244.5 l-3,3" stroke="#925E9F" stroke-width="0.6" fill="none"/>
</g>
<text x="249.9" y="248.13" font-size="5.36" text-anchor="start" fill="#000">2021</text>
<line x1="387.7" y1="87.6" x2="387.7" y2="117.5" stroke="#4a4a4a" stroke-width="0.6"/>
<line x1="387.7" y1="143.8" x2="387.7" y2="176.8" stroke="#4a4a4a" stroke-width="0.6"/>
<rect x="383.55" y="117.5" width="8.3" height="26.3" fill="#00468B" stroke="#333333" stroke-width="0.55"/>
<line x1="383.55" y1="133.3" x2="391.85" y2="133.3" stroke="#333333" stroke-width="1.1"/>
<circle cx="387.7" cy="185.7" r="1.2" fill="#1a1a1a"/>
<line x1="396.8" y1="131" x2="396.8" y2="149.4" stroke="#4a4a4a" stroke-width="0.6"/>
<line x1="396.8" y1="172.4" x2="396.8" y2="189" stroke="#4a4a4a" stroke-width="0.6"/>
<rect x="392.65" y="149.4" width="8.3" height="23" fill="#ED0000" stroke="#333333" stroke-width="0.55"/>
<line x1="392.65" y1="166" x2="400.95" y2="166" stroke="#333333" stroke-width="1.1"/>
<circle cx="396.8" cy="112.9" r="1.2" fill="#1a1a1a"/>
<line x1="405.9" y1="148.9" x2="405.9" y2="162.2" stroke="#4a4a4a" stroke-width="0.6"/>
<line x1="405.9" y1="176.2" x2="405.9" y2="189" stroke="#4a4a4a" stroke-width="0.6"/>
<rect x="401.75" y="162.2" width="8.3" height="14" fill="#42B540" stroke="#333333" stroke-width="0.55"/>
<line x1="401.75" y1="167.8" x2="410.05" y2="167.8" stroke="#333333" stroke-width="1.1"/>
<circle cx="405.9" cy="128.2" r="1.2" fill="#1a1a1a"/>
<line x1="415" y1="148.9" x2="415" y2="167.6" stroke="#4a4a4a" stroke-width="0.6"/>
<line x1="415" y1="183.1" x2="415" y2="187" stroke="#4a4a4a" stroke-width="0.6"/>
<rect x="410.85" y="167.6" width="8.3" height="15.5" fill="#0099B4" stroke="#333333" stroke-width="0.55"/>
<line x1="410.85" y1="175.5" x2="419.15" y2="175.5" stroke="#333333" stroke-width="1.1"/>
<line x1="424.1" y1="181.4" x2="424.1" y2="183.1" stroke="#4a4a4a" stroke-width="0.6"/>
<line x1="424.1" y1="189.5" x2="424.1" y2="192.3" stroke="#4a4a4a" stroke-width="0.6"/>
<rect x="419.95" y="183.1" width="8.3" height="6.4" fill="#925E9F" stroke="#333333" stroke-width="0.55"/>
<line x1="419.95" y1="186.7" x2="428.25" y2="186.7" stroke="#333333" stroke-width="1.1"/>
<line x1="448.3" y1="78.4" x2="448.3" y2="119.2" stroke="#4a4a4a" stroke-width="0.6"/>
<line x1="448.3" y1="147" x2="448.3" y2="175.5" stroke="#4a4a4a" stroke-width="0.6"/>
<rect x="444.15" y="119.2" width="8.3" height="27.8" fill="#00468B" stroke="#333333" stroke-width="0.55"/>
<line x1="444.15" y1="130.1" x2="452.45" y2="130.1" stroke="#333333" stroke-width="1.1"/>
<circle cx="448.3" cy="67.5" r="1.2" fill="#1a1a1a"/>
<line x1="457.4" y1="81.9" x2="457.4" y2="134.1" stroke="#4a4a4a" stroke-width="0.6"/>
<line x1="457.4" y1="172.3" x2="457.4" y2="189.9" stroke="#4a4a4a" stroke-width="0.6"/>
<rect x="453.25" y="134.1" width="8.3" height="38.2" fill="#ED0000" stroke="#333333" stroke-width="0.55"/>
<line x1="453.25" y1="160.6" x2="461.55" y2="160.6" stroke="#333333" stroke-width="1.1"/>
<line x1="466.5" y1="144" x2="466.5" y2="166.8" stroke="#4a4a4a" stroke-width="0.6"/>
<line x1="466.5" y1="182.5" x2="466.5" y2="192.4" stroke="#4a4a4a" stroke-width="0.6"/>
<rect x="462.35" y="166.8" width="8.3" height="15.7" fill="#42B540" stroke="#333333" stroke-width="0.55"/>
<line x1="462.35" y1="174.5" x2="470.65" y2="174.5" stroke="#333333" stroke-width="1.1"/>
<circle cx="466.5" cy="134.6" r="1.2" fill="#1a1a1a"/>
<line x1="475.6" y1="150.2" x2="475.6" y2="169.8" stroke="#4a4a4a" stroke-width="0.6"/>
<line x1="475.6" y1="186.2" x2="475.6" y2="192.9" stroke="#4a4a4a" stroke-width="0.6"/>
<rect x="471.45" y="169.8" width="8.3" height="16.4" fill="#0099B4" stroke="#333333" stroke-width="0.55"/>
<line x1="471.45" y1="175" x2="479.75" y2="175" stroke="#333333" stroke-width="1.1"/>
<line x1="484.7" y1="180.5" x2="484.7" y2="187.4" stroke="#4a4a4a" stroke-width="0.6"/>
<line x1="484.7" y1="193.4" x2="484.7" y2="197.9" stroke="#4a4a4a" stroke-width="0.6"/>
<rect x="480.55" y="187.4" width="8.3" height="6" fill="#925E9F" stroke="#333333" stroke-width="0.55"/>
<line x1="480.55" y1="189.9" x2="488.85" y2="189.9" stroke="#333333" stroke-width="1.1"/>
<circle cx="484.7" cy="166.8" r="1.2" fill="#1a1a1a"/>
<line x1="509.3" y1="116.7" x2="509.3" y2="134.1" stroke="#4a4a4a" stroke-width="0.6"/>
<line x1="509.3" y1="149" x2="509.3" y2="169.3" stroke="#4a4a4a" stroke-width="0.6"/>
<rect x="505.15" y="134.1" width="8.3" height="14.9" fill="#00468B" stroke="#333333" stroke-width="0.55"/>
<line x1="505.15" y1="142" x2="513.45" y2="142" stroke="#333333" stroke-width="1.1"/>
<circle cx="509.3" cy="90.9" r="1.2" fill="#1a1a1a"/>
<line x1="518.4" y1="119" x2="518.4" y2="142" stroke="#4a4a4a" stroke-width="0.6"/>
<line x1="518.4" y1="168.6" x2="518.4" y2="189.9" stroke="#4a4a4a" stroke-width="0.6"/>
<rect x="514.25" y="142" width="8.3" height="26.6" fill="#ED0000" stroke="#333333" stroke-width="0.55"/>
<line x1="514.25" y1="158.4" x2="522.55" y2="158.4" stroke="#333333" stroke-width="1.1"/>
<circle cx="518.4" cy="22.6" r="1.2" fill="#1a1a1a"/>
<circle cx="518.4" cy="73.9" r="1.2" fill="#1a1a1a"/>
<circle cx="518.4" cy="85.1" r="1.2" fill="#1a1a1a"/>
<circle cx="518.4" cy="101.1" r="1.2" fill="#1a1a1a"/>
<line x1="527.5" y1="145.8" x2="527.5" y2="168.6" stroke="#4a4a4a" stroke-width="0.6"/>
<line x1="527.5" y1="186.2" x2="527.5" y2="194.6" stroke="#4a4a4a" stroke-width="0.6"/>
<rect x="523.35" y="168.6" width="8.3" height="17.6" fill="#42B540" stroke="#333333" stroke-width="0.55"/>
<line x1="523.35" y1="176.8" x2="531.65" y2="176.8" stroke="#333333" stroke-width="1.1"/>
<circle cx="527.5" cy="132.6" r="1.2" fill="#1a1a1a"/>
<circle cx="527.5" cy="138.6" r="1.2" fill="#1a1a1a"/>
<line x1="536.6" y1="156.9" x2="536.6" y2="169.8" stroke="#4a4a4a" stroke-width="0.6"/>
<line x1="536.6" y1="184.7" x2="536.6" y2="198.6" stroke="#4a4a4a" stroke-width="0.6"/>
<rect x="532.45" y="169.8" width="8.3" height="14.9" fill="#0099B4" stroke="#333333" stroke-width="0.55"/>
<line x1="532.45" y1="177.3" x2="540.75" y2="177.3" stroke="#333333" stroke-width="1.1"/>
<line x1="545.7" y1="170.6" x2="545.7" y2="186.2" stroke="#4a4a4a" stroke-width="0.6"/>
<line x1="545.7" y1="196.6" x2="545.7" y2="201.6" stroke="#4a4a4a" stroke-width="0.6"/>
<rect x="541.55" y="186.2" width="8.3" height="10.4" fill="#925E9F" stroke="#333333" stroke-width="0.55"/>
<line x1="541.55" y1="194.9" x2="549.85" y2="194.9" stroke="#333333" stroke-width="1.1"/>
<circle cx="545.7" cy="161.9" r="1.2" fill="#1a1a1a"/>
<circle cx="545.7" cy="164.4" r="1.2" fill="#1a1a1a"/>
<line x1="569.6" y1="124.2" x2="569.6" y2="138.6" stroke="#4a4a4a" stroke-width="0.6"/>
<line x1="569.6" y1="153.4" x2="569.6" y2="168.1" stroke="#4a4a4a" stroke-width="0.6"/>
<rect x="565.45" y="138.6" width="8.3" height="14.8" fill="#00468B" stroke="#333333" stroke-width="0.55"/>
<line x1="565.45" y1="150.2" x2="573.75" y2="150.2" stroke="#333333" stroke-width="1.1"/>
<circle cx="569.6" cy="106.6" r="1.2" fill="#1a1a1a"/>
<line x1="578.7" y1="144" x2="578.7" y2="154.4" stroke="#4a4a4a" stroke-width="0.6"/>
<line x1="578.7" y1="170.6" x2="578.7" y2="193.4" stroke="#4a4a4a" stroke-width="0.6"/>
<rect x="574.55" y="154.4" width="8.3" height="16.2" fill="#ED0000" stroke="#333333" stroke-width="0.55"/>
<line x1="574.55" y1="163.6" x2="582.85" y2="163.6" stroke="#333333" stroke-width="1.1"/>
<circle cx="578.7" cy="99.1" r="1.2" fill="#1a1a1a"/>
<circle cx="578.7" cy="129.1" r="1.2" fill="#1a1a1a"/>
<line x1="587.8" y1="133.4" x2="587.8" y2="158.9" stroke="#4a4a4a" stroke-width="0.6"/>
<line x1="587.8" y1="180" x2="587.8" y2="195.4" stroke="#4a4a4a" stroke-width="0.6"/>
<rect x="583.65" y="158.9" width="8.3" height="21.1" fill="#42B540" stroke="#333333" stroke-width="0.55"/>
<line x1="583.65" y1="174.5" x2="591.95" y2="174.5" stroke="#333333" stroke-width="1.1"/>
<circle cx="587.8" cy="121.7" r="1.2" fill="#1a1a1a"/>
<line x1="596.9" y1="159.4" x2="596.9" y2="176.6" stroke="#4a4a4a" stroke-width="0.6"/>
<line x1="596.9" y1="188.6" x2="596.9" y2="198.5" stroke="#4a4a4a" stroke-width="0.6"/>
<rect x="592.75" y="176.6" width="8.3" height="12" fill="#0099B4" stroke="#333333" stroke-width="0.55"/>
<line x1="592.75" y1="184.7" x2="601.05" y2="184.7" stroke="#333333" stroke-width="1.1"/>
<circle cx="596.9" cy="154.2" r="1.2" fill="#1a1a1a"/>
<circle cx="596.9" cy="156.3" r="1.2" fill="#1a1a1a"/>
<line x1="606" y1="164.6" x2="606" y2="184.1" stroke="#4a4a4a" stroke-width="0.6"/>
<line x1="606" y1="199.8" x2="606" y2="205" stroke="#4a4a4a" stroke-width="0.6"/>
<rect x="601.85" y="184.1" width="8.3" height="15.7" fill="#925E9F" stroke="#333333" stroke-width="0.55"/>
<line x1="601.85" y1="196.7" x2="610.15" y2="196.7" stroke="#333333" stroke-width="1.1"/>
<circle cx="606" cy="160.2" r="1.2" fill="#1a1a1a"/>
<line x1="630.1" y1="84.6" x2="630.1" y2="113.8" stroke="#4a4a4a" stroke-width="0.6"/>
<line x1="630.1" y1="141.2" x2="630.1" y2="147.7" stroke="#4a4a4a" stroke-width="0.6"/>
<rect x="625.95" y="113.8" width="8.3" height="27.4" fill="#00468B" stroke="#333333" stroke-width="0.55"/>
<line x1="625.95" y1="132" x2="634.25" y2="132" stroke="#333333" stroke-width="1.1"/>
<line x1="639.2" y1="128.1" x2="639.2" y2="139.3" stroke="#4a4a4a" stroke-width="0.6"/>
<line x1="639.2" y1="158.1" x2="639.2" y2="179.5" stroke="#4a4a4a" stroke-width="0.6"/>
<rect x="635.05" y="139.3" width="8.3" height="18.8" fill="#ED0000" stroke="#333333" stroke-width="0.55"/>
<line x1="635.05" y1="147.7" x2="643.35" y2="147.7" stroke="#333333" stroke-width="1.1"/>
<circle cx="639.2" cy="42.9" r="1.2" fill="#1a1a1a"/>
<circle cx="639.2" cy="82.5" r="1.2" fill="#1a1a1a"/>
<circle cx="639.2" cy="106.5" r="1.2" fill="#1a1a1a"/>
<line x1="648.3" y1="115.9" x2="648.3" y2="146.4" stroke="#4a4a4a" stroke-width="0.6"/>
<line x1="648.3" y1="173.2" x2="648.3" y2="181.5" stroke="#4a4a4a" stroke-width="0.6"/>
<rect x="644.15" y="146.4" width="8.3" height="26.8" fill="#42B540" stroke="#333333" stroke-width="0.55"/>
<line x1="644.15" y1="166.4" x2="652.45" y2="166.4" stroke="#333333" stroke-width="1.1"/>
<circle cx="648.3" cy="64.3" r="1.2" fill="#1a1a1a"/>
<line x1="657.4" y1="158.6" x2="657.4" y2="166.4" stroke="#4a4a4a" stroke-width="0.6"/>
<line x1="657.4" y1="181" x2="657.4" y2="197.2" stroke="#4a4a4a" stroke-width="0.6"/>
<rect x="653.25" y="166.4" width="8.3" height="14.6" fill="#0099B4" stroke="#333333" stroke-width="0.55"/>
<line x1="653.25" y1="175.8" x2="661.55" y2="175.8" stroke="#333333" stroke-width="1.1"/>
<circle cx="657.4" cy="133.9" r="1.2" fill="#1a1a1a"/>
<circle cx="657.4" cy="134.6" r="1.2" fill="#1a1a1a"/>
<circle cx="657.4" cy="143.5" r="1.2" fill="#1a1a1a"/>
<line x1="666.5" y1="154.7" x2="666.5" y2="176.9" stroke="#4a4a4a" stroke-width="0.6"/>
<line x1="666.5" y1="199.8" x2="666.5" y2="205.5" stroke="#4a4a4a" stroke-width="0.6"/>
<rect x="662.35" y="176.9" width="8.3" height="22.9" fill="#925E9F" stroke="#333333" stroke-width="0.55"/>
<line x1="662.35" y1="192.5" x2="670.65" y2="192.5" stroke="#333333" stroke-width="1.1"/>
<line x1="369.5" y1="13.3" x2="369.5" y2="215.5" stroke="#3a3a3a" stroke-width="1"/>
<line x1="369" y1="215" x2="685" y2="215" stroke="#3a3a3a" stroke-width="1"/>
<line x1="367.3" y1="167.3" x2="369.5" y2="167.3" stroke="#333333" stroke-width="0.7"/>
<text x="366.5" y="169.2" font-size="5.28" text-anchor="end" fill="#5e5e5e">1000</text>
<line x1="367.3" y1="114.3" x2="369.5" y2="114.3" stroke="#333333" stroke-width="0.7"/>
<text x="366.5" y="116.2" font-size="5.28" text-anchor="end" fill="#5e5e5e">2000</text>
<line x1="367.3" y1="60.8" x2="369.5" y2="60.8" stroke="#333333" stroke-width="0.7"/>
<text x="366.5" y="62.7" font-size="5.28" text-anchor="end" fill="#5e5e5e">3000</text>
<line x1="405.9" y1="215" x2="405.9" y2="217.2" stroke="#333333" stroke-width="0.7"/>
<text x="405.9" y="222" font-size="5.28" text-anchor="middle" fill="#5e5e5e">1990</text>
<line x1="466.5" y1="215" x2="466.5" y2="217.2" stroke="#333333" stroke-width="0.7"/>
<text x="466.5" y="222" font-size="5.28" text-anchor="middle" fill="#5e5e5e">2000</text>
<line x1="527.5" y1="215" x2="527.5" y2="217.2" stroke="#333333" stroke-width="0.7"/>
<text x="527.5" y="222" font-size="5.28" text-anchor="middle" fill="#5e5e5e">2010</text>
<line x1="587.8" y1="215" x2="587.8" y2="217.2" stroke="#333333" stroke-width="0.7"/>
<text x="587.8" y="222" font-size="5.28" text-anchor="middle" fill="#5e5e5e">2019</text>
<line x1="648" y1="215" x2="648" y2="217.2" stroke="#333333" stroke-width="0.7"/>
<text x="648" y="222" font-size="5.28" text-anchor="middle" fill="#5e5e5e">2021</text>
<text x="369.9" y="9.11" font-size="7.8" text-anchor="start" fill="#000">b. All−cause ASM by SDI category</text>
<text x="526.8" y="229.88" font-size="6.6" text-anchor="middle" fill="#000">Year</text>
<text x="349.7" y="116.68" font-size="6.6" text-anchor="middle" fill="#000" transform="rotate(-90 349.7 114.3)">ASM (1/100,000)</text>
<text x="396.7" y="248.58" font-size="6.6" text-anchor="start" fill="#000">SDI category</text>
<line x1="442.2" y1="240.6" x2="442.2" y2="251.4" stroke="#333333" stroke-width="0.55"/>
<rect x="438.2" y="243.2" width="8" height="5.6" fill="#00468B" stroke="#333333" stroke-width="0.55"/>
<line x1="438.2" y1="246" x2="446.2" y2="246" stroke="#333333" stroke-width="1"/>
<text x="450.8" y="248.13" font-size="5.36" text-anchor="start" fill="#000">Low SDI</text>
<line x1="478.6" y1="240.6" x2="478.6" y2="251.4" stroke="#333333" stroke-width="0.55"/>
<rect x="474.6" y="243.2" width="8" height="5.6" fill="#ED0000" stroke="#333333" stroke-width="0.55"/>
<line x1="474.6" y1="246" x2="482.6" y2="246" stroke="#333333" stroke-width="1"/>
<text x="487.2" y="248.13" font-size="5.36" text-anchor="start" fill="#000">Low−middle SDI</text>
<line x1="532.4" y1="240.6" x2="532.4" y2="251.4" stroke="#333333" stroke-width="0.55"/>
<rect x="528.4" y="243.2" width="8" height="5.6" fill="#42B540" stroke="#333333" stroke-width="0.55"/>
<line x1="528.4" y1="246" x2="536.4" y2="246" stroke="#333333" stroke-width="1"/>
<text x="541" y="248.13" font-size="5.36" text-anchor="start" fill="#000">Middle SDI</text>
<line x1="574.2" y1="240.6" x2="574.2" y2="251.4" stroke="#333333" stroke-width="0.55"/>
<rect x="570.2" y="243.2" width="8" height="5.6" fill="#0099B4" stroke="#333333" stroke-width="0.55"/>
<line x1="570.2" y1="246" x2="578.2" y2="246" stroke="#333333" stroke-width="1"/>
<text x="582.8" y="248.13" font-size="5.36" text-anchor="start" fill="#000">High−middle SDI</text>
<line x1="628.8" y1="240.6" x2="628.8" y2="251.4" stroke="#333333" stroke-width="0.55"/>
<rect x="624.8" y="243.2" width="8" height="5.6" fill="#925E9F" stroke="#333333" stroke-width="0.55"/>
<line x1="624.8" y1="246" x2="632.8" y2="246" stroke="#333333" stroke-width="1"/>
<text x="637.4" y="248.13" font-size="5.36" text-anchor="start" fill="#000">High SDI</text>
<line x1="39" y1="279.78" x2="39" y2="284.78" stroke="#4CB84C" stroke-width="1" stroke-opacity="0.45"/>
<line x1="48.27" y1="279.78" x2="48.27" y2="284.78" stroke="#4CB84C" stroke-width="1" stroke-opacity="0.45"/>
<line x1="57.53" y1="278.62" x2="57.53" y2="283.62" stroke="#4CB84C" stroke-width="1" stroke-opacity="0.45"/>
<line x1="66.8" y1="278.62" x2="66.8" y2="283.62" stroke="#4CB84C" stroke-width="1" stroke-opacity="0.45"/>
<line x1="76.06" y1="290.12" x2="76.06" y2="310.12" stroke="#4CB84C" stroke-width="1" stroke-opacity="0.45"/>
<line x1="85.33" y1="279.78" x2="85.33" y2="284.78" stroke="#4CB84C" stroke-width="1" stroke-opacity="0.45"/>
<line x1="94.6" y1="280.22" x2="94.6" y2="285.22" stroke="#4CB84C" stroke-width="1" stroke-opacity="0.45"/>
<line x1="103.86" y1="280.52" x2="103.86" y2="285.52" stroke="#4CB84C" stroke-width="1" stroke-opacity="0.45"/>
<line x1="113.13" y1="282.27" x2="113.13" y2="287.27" stroke="#4CB84C" stroke-width="1" stroke-opacity="0.45"/>
<line x1="122.39" y1="281.76" x2="122.39" y2="286.76" stroke="#4CB84C" stroke-width="1" stroke-opacity="0.45"/>
<line x1="131.66" y1="281.03" x2="131.66" y2="286.03" stroke="#4CB84C" stroke-width="1" stroke-opacity="0.45"/>
<line x1="140.93" y1="280.52" x2="140.93" y2="285.52" stroke="#4CB84C" stroke-width="1" stroke-opacity="0.45"/>
<line x1="150.19" y1="280.22" x2="150.19" y2="285.22" stroke="#4CB84C" stroke-width="1" stroke-opacity="0.45"/>
<line x1="159.46" y1="280.22" x2="159.46" y2="285.22" stroke="#4CB84C" stroke-width="1" stroke-opacity="0.45"/>
<line x1="168.72" y1="279.78" x2="168.72" y2="284.78" stroke="#4CB84C" stroke-width="1" stroke-opacity="0.45"/>
<line x1="177.99" y1="279.78" x2="177.99" y2="284.78" stroke="#4CB84C" stroke-width="1" stroke-opacity="0.45"/>
<line x1="187.26" y1="279.57" x2="187.26" y2="284.57" stroke="#4CB84C" stroke-width="1" stroke-opacity="0.45"/>
<line x1="196.52" y1="279.57" x2="196.52" y2="284.57" stroke="#4CB84C" stroke-width="1" stroke-opacity="0.45"/>
<line x1="205.79" y1="279.78" x2="205.79" y2="284.78" stroke="#4CB84C" stroke-width="1" stroke-opacity="0.45"/>
<line x1="215.05" y1="279.57" x2="215.05" y2="284.57" stroke="#4CB84C" stroke-width="1" stroke-opacity="0.45"/>
<line x1="224.32" y1="284.02" x2="224.32" y2="289.02" stroke="#4CB84C" stroke-width="1" stroke-opacity="0.45"/>
<line x1="233.59" y1="279.57" x2="233.59" y2="284.57" stroke="#4CB84C" stroke-width="1" stroke-opacity="0.45"/>
<line x1="242.85" y1="279.78" x2="242.85" y2="284.78" stroke="#4CB84C" stroke-width="1" stroke-opacity="0.45"/>
<line x1="252.12" y1="280.08" x2="252.12" y2="285.08" stroke="#4CB84C" stroke-width="1" stroke-opacity="0.45"/>
<line x1="261.38" y1="280.37" x2="261.38" y2="285.37" stroke="#4CB84C" stroke-width="1" stroke-opacity="0.45"/>
<line x1="270.65" y1="280.37" x2="270.65" y2="285.37" stroke="#4CB84C" stroke-width="1" stroke-opacity="0.45"/>
<line x1="279.92" y1="280.37" x2="279.92" y2="285.37" stroke="#4CB84C" stroke-width="1" stroke-opacity="0.45"/>
<line x1="289.18" y1="280.37" x2="289.18" y2="285.37" stroke="#4CB84C" stroke-width="1" stroke-opacity="0.45"/>
<line x1="298.45" y1="280.59" x2="298.45" y2="285.59" stroke="#4CB84C" stroke-width="1" stroke-opacity="0.45"/>
<line x1="307.71" y1="280.37" x2="307.71" y2="285.37" stroke="#4CB84C" stroke-width="1" stroke-opacity="0.45"/>
<line x1="316.98" y1="280.37" x2="316.98" y2="285.37" stroke="#4CB84C" stroke-width="1" stroke-opacity="0.45"/>
<line x1="326.25" y1="280.59" x2="326.25" y2="285.59" stroke="#4CB84C" stroke-width="1" stroke-opacity="0.45"/>
<circle cx="39" cy="282.28" r="2.0" fill="#4CB84C" fill-opacity="0.6"/>
<circle cx="48.27" cy="282.28" r="2.0" fill="#4CB84C" fill-opacity="0.6"/>
<circle cx="57.53" cy="281.12" r="2.0" fill="#4CB84C" fill-opacity="0.6"/>
<circle cx="66.8" cy="281.12" r="2.0" fill="#4CB84C" fill-opacity="0.6"/>
<circle cx="76.06" cy="300.12" r="2.0" fill="#4CB84C" fill-opacity="0.6"/>
<circle cx="85.33" cy="282.28" r="2.0" fill="#4CB84C" fill-opacity="0.6"/>
<circle cx="94.6" cy="282.72" r="2.0" fill="#4CB84C" fill-opacity="0.6"/>
<circle cx="103.86" cy="283.02" r="2.0" fill="#4CB84C" fill-opacity="0.6"/>
<circle cx="113.13" cy="284.77" r="2.0" fill="#4CB84C" fill-opacity="0.6"/>
<circle cx="122.39" cy="284.26" r="2.0" fill="#4CB84C" fill-opacity="0.6"/>
<circle cx="131.66" cy="283.53" r="2.0" fill="#4CB84C" fill-opacity="0.6"/>
<circle cx="140.93" cy="283.02" r="2.0" fill="#4CB84C" fill-opacity="0.6"/>
<circle cx="150.19" cy="282.72" r="2.0" fill="#4CB84C" fill-opacity="0.6"/>
<circle cx="159.46" cy="282.72" r="2.0" fill="#4CB84C" fill-opacity="0.6"/>
<circle cx="168.72" cy="282.28" r="2.0" fill="#4CB84C" fill-opacity="0.6"/>
<circle cx="177.99" cy="282.28" r="2.0" fill="#4CB84C" fill-opacity="0.6"/>
<circle cx="187.26" cy="282.07" r="2.0" fill="#4CB84C" fill-opacity="0.6"/>
<circle cx="196.52" cy="282.07" r="2.0" fill="#4CB84C" fill-opacity="0.6"/>
<circle cx="205.79" cy="282.28" r="2.0" fill="#4CB84C" fill-opacity="0.6"/>
<circle cx="215.05" cy="282.07" r="2.0" fill="#4CB84C" fill-opacity="0.6"/>
<circle cx="224.32" cy="286.52" r="2.0" fill="#4CB84C" fill-opacity="0.6"/>
<circle cx="233.59" cy="282.07" r="2.0" fill="#4CB84C" fill-opacity="0.6"/>
<circle cx="242.85" cy="282.28" r="2.0" fill="#4CB84C" fill-opacity="0.6"/>
<circle cx="252.12" cy="282.58" r="2.0" fill="#4CB84C" fill-opacity="0.6"/>
<circle cx="261.38" cy="282.87" r="2.0" fill="#4CB84C" fill-opacity="0.6"/>
<circle cx="270.65" cy="282.87" r="2.0" fill="#4CB84C" fill-opacity="0.6"/>
<circle cx="279.92" cy="282.87" r="2.0" fill="#4CB84C" fill-opacity="0.6"/>
<circle cx="289.18" cy="282.87" r="2.0" fill="#4CB84C" fill-opacity="0.6"/>
<circle cx="298.45" cy="283.09" r="2.0" fill="#4CB84C" fill-opacity="0.6"/>
<circle cx="307.71" cy="282.87" r="2.0" fill="#4CB84C" fill-opacity="0.6"/>
<circle cx="316.98" cy="282.87" r="2.0" fill="#4CB84C" fill-opacity="0.6"/>
<circle cx="326.25" cy="283.09" r="2.0" fill="#4CB84C" fill-opacity="0.6"/>
<polyline points="39,282.28 48.27,282.28 57.53,281.12 66.8,281.12 76.06,300.12 85.33,282.28 94.6,282.72 103.86,283.02 113.13,284.77 122.39,284.26 131.66,283.53 140.93,283.02 150.19,282.72 159.46,282.72 168.72,282.28 177.99,282.28 187.26,282.07 196.52,282.07 205.79,282.28 215.05,282.07 224.32,286.52 233.59,282.07 242.85,282.28 252.12,282.58 261.38,282.87 270.65,282.87 279.92,282.87 289.18,282.87 298.45,283.09 307.71,282.87 316.98,282.87 326.25,283.09" fill="none" stroke="#4CB84C" stroke-width="0.9" stroke-linejoin="round"/>
<line x1="39" y1="290.97" x2="39" y2="295.97" stroke="#1FA4C6" stroke-width="1" stroke-opacity="0.45"/>
<line x1="48.27" y1="291.48" x2="48.27" y2="296.48" stroke="#1FA4C6" stroke-width="1" stroke-opacity="0.45"/>
<line x1="57.53" y1="291.7" x2="57.53" y2="296.7" stroke="#1FA4C6" stroke-width="1" stroke-opacity="0.45"/>
<line x1="66.8" y1="291.7" x2="66.8" y2="296.7" stroke="#1FA4C6" stroke-width="1" stroke-opacity="0.45"/>
<line x1="76.06" y1="292.21" x2="76.06" y2="297.21" stroke="#1FA4C6" stroke-width="1" stroke-opacity="0.45"/>
<line x1="85.33" y1="293.89" x2="85.33" y2="298.89" stroke="#1FA4C6" stroke-width="1" stroke-opacity="0.45"/>
<line x1="94.6" y1="295.35" x2="94.6" y2="300.35" stroke="#1FA4C6" stroke-width="1" stroke-opacity="0.45"/>
<line x1="103.86" y1="296.67" x2="103.86" y2="301.67" stroke="#1FA4C6" stroke-width="1" stroke-opacity="0.45"/>
<line x1="113.13" y1="297.69" x2="113.13" y2="302.69" stroke="#1FA4C6" stroke-width="1" stroke-opacity="0.45"/>
<line x1="122.39" y1="298.35" x2="122.39" y2="303.35" stroke="#1FA4C6" stroke-width="1" stroke-opacity="0.45"/>
<line x1="131.66" y1="299.59" x2="131.66" y2="304.59" stroke="#1FA4C6" stroke-width="1" stroke-opacity="0.45"/>
<line x1="140.93" y1="300.03" x2="140.93" y2="305.03" stroke="#1FA4C6" stroke-width="1" stroke-opacity="0.45"/>
<line x1="150.19" y1="300.47" x2="150.19" y2="305.47" stroke="#1FA4C6" stroke-width="1" stroke-opacity="0.45"/>
<line x1="159.46" y1="300.98" x2="159.46" y2="305.98" stroke="#1FA4C6" stroke-width="1" stroke-opacity="0.45"/>
<line x1="168.72" y1="302.29" x2="168.72" y2="307.29" stroke="#1FA4C6" stroke-width="1" stroke-opacity="0.45"/>
<line x1="177.99" y1="302.95" x2="177.99" y2="307.95" stroke="#1FA4C6" stroke-width="1" stroke-opacity="0.45"/>
<line x1="187.26" y1="304.05" x2="187.26" y2="309.05" stroke="#1FA4C6" stroke-width="1" stroke-opacity="0.45"/>
<line x1="196.52" y1="304.34" x2="196.52" y2="309.34" stroke="#1FA4C6" stroke-width="1" stroke-opacity="0.45"/>
<line x1="205.79" y1="304.85" x2="205.79" y2="309.85" stroke="#1FA4C6" stroke-width="1" stroke-opacity="0.45"/>
<line x1="215.05" y1="306.24" x2="215.05" y2="311.24" stroke="#1FA4C6" stroke-width="1" stroke-opacity="0.45"/>
<line x1="224.32" y1="307.92" x2="224.32" y2="312.92" stroke="#1FA4C6" stroke-width="1" stroke-opacity="0.45"/>
<line x1="233.59" y1="309.31" x2="233.59" y2="314.31" stroke="#1FA4C6" stroke-width="1" stroke-opacity="0.45"/>
<line x1="242.85" y1="310.41" x2="242.85" y2="315.41" stroke="#1FA4C6" stroke-width="1" stroke-opacity="0.45"/>
<line x1="252.12" y1="310.92" x2="252.12" y2="315.92" stroke="#1FA4C6" stroke-width="1" stroke-opacity="0.45"/>
<line x1="261.38" y1="311.5" x2="261.38" y2="316.5" stroke="#1FA4C6" stroke-width="1" stroke-opacity="0.45"/>
<line x1="270.65" y1="312.01" x2="270.65" y2="317.01" stroke="#1FA4C6" stroke-width="1" stroke-opacity="0.45"/>
<line x1="279.92" y1="312.31" x2="279.92" y2="317.31" stroke="#1FA4C6" stroke-width="1" stroke-opacity="0.45"/>
<line x1="289.18" y1="312.89" x2="289.18" y2="317.89" stroke="#1FA4C6" stroke-width="1" stroke-opacity="0.45"/>
<line x1="298.45" y1="313.69" x2="298.45" y2="318.69" stroke="#1FA4C6" stroke-width="1" stroke-opacity="0.45"/>
<line x1="307.71" y1="315.16" x2="307.71" y2="320.16" stroke="#1FA4C6" stroke-width="1" stroke-opacity="0.45"/>
<line x1="316.98" y1="317.35" x2="316.98" y2="322.35" stroke="#1FA4C6" stroke-width="1" stroke-opacity="0.45"/>
<line x1="326.25" y1="317.64" x2="326.25" y2="322.64" stroke="#1FA4C6" stroke-width="1" stroke-opacity="0.45"/>
<circle cx="39" cy="293.47" r="2.0" fill="#1FA4C6" fill-opacity="0.6"/>
<circle cx="48.27" cy="293.98" r="2.0" fill="#1FA4C6" fill-opacity="0.6"/>
<circle cx="57.53" cy="294.2" r="2.0" fill="#1FA4C6" fill-opacity="0.6"/>
<circle cx="66.8" cy="294.2" r="2.0" fill="#1FA4C6" fill-opacity="0.6"/>
<circle cx="76.06" cy="294.71" r="2.0" fill="#1FA4C6" fill-opacity="0.6"/>
<circle cx="85.33" cy="296.39" r="2.0" fill="#1FA4C6" fill-opacity="0.6"/>
<circle cx="94.6" cy="297.85" r="2.0" fill="#1FA4C6" fill-opacity="0.6"/>
<circle cx="103.86" cy="299.17" r="2.0" fill="#1FA4C6" fill-opacity="0.6"/>
<circle cx="113.13" cy="300.19" r="2.0" fill="#1FA4C6" fill-opacity="0.6"/>
<circle cx="122.39" cy="300.85" r="2.0" fill="#1FA4C6" fill-opacity="0.6"/>
<circle cx="131.66" cy="302.09" r="2.0" fill="#1FA4C6" fill-opacity="0.6"/>
<circle cx="140.93" cy="302.53" r="2.0" fill="#1FA4C6" fill-opacity="0.6"/>
<circle cx="150.19" cy="302.97" r="2.0" fill="#1FA4C6" fill-opacity="0.6"/>
<circle cx="159.46" cy="303.48" r="2.0" fill="#1FA4C6" fill-opacity="0.6"/>
<circle cx="168.72" cy="304.79" r="2.0" fill="#1FA4C6" fill-opacity="0.6"/>
<circle cx="177.99" cy="305.45" r="2.0" fill="#1FA4C6" fill-opacity="0.6"/>
<circle cx="187.26" cy="306.55" r="2.0" fill="#1FA4C6" fill-opacity="0.6"/>
<circle cx="196.52" cy="306.84" r="2.0" fill="#1FA4C6" fill-opacity="0.6"/>
<circle cx="205.79" cy="307.35" r="2.0" fill="#1FA4C6" fill-opacity="0.6"/>
<circle cx="215.05" cy="308.74" r="2.0" fill="#1FA4C6" fill-opacity="0.6"/>
<circle cx="224.32" cy="310.42" r="2.0" fill="#1FA4C6" fill-opacity="0.6"/>
<circle cx="233.59" cy="311.81" r="2.0" fill="#1FA4C6" fill-opacity="0.6"/>
<circle cx="242.85" cy="312.91" r="2.0" fill="#1FA4C6" fill-opacity="0.6"/>
<circle cx="252.12" cy="313.42" r="2.0" fill="#1FA4C6" fill-opacity="0.6"/>
<circle cx="261.38" cy="314" r="2.0" fill="#1FA4C6" fill-opacity="0.6"/>
<circle cx="270.65" cy="314.51" r="2.0" fill="#1FA4C6" fill-opacity="0.6"/>
<circle cx="279.92" cy="314.81" r="2.0" fill="#1FA4C6" fill-opacity="0.6"/>
<circle cx="289.18" cy="315.39" r="2.0" fill="#1FA4C6" fill-opacity="0.6"/>
<circle cx="298.45" cy="316.19" r="2.0" fill="#1FA4C6" fill-opacity="0.6"/>
<circle cx="307.71" cy="317.66" r="2.0" fill="#1FA4C6" fill-opacity="0.6"/>
<circle cx="316.98" cy="319.85" r="2.0" fill="#1FA4C6" fill-opacity="0.6"/>
<circle cx="326.25" cy="320.14" r="2.0" fill="#1FA4C6" fill-opacity="0.6"/>
<polyline points="39,293.47 48.27,293.98 57.53,294.2 66.8,294.2 76.06,294.71 85.33,296.39 94.6,297.85 103.86,299.17 113.13,300.19 122.39,300.85 131.66,302.09 140.93,302.53 150.19,302.97 159.46,303.48 168.72,304.79 177.99,305.45 187.26,306.55 196.52,306.84 205.79,307.35 215.05,308.74 224.32,310.42 233.59,311.81 242.85,312.91 252.12,313.42 261.38,314 270.65,314.51 279.92,314.81 289.18,315.39 298.45,316.19 307.71,317.66 316.98,319.85 326.25,320.14" fill="none" stroke="#1FA4C6" stroke-width="0.9" stroke-linejoin="round"/>
<line x1="39" y1="388.59" x2="39" y2="394.19" stroke="#E8222B" stroke-width="1" stroke-opacity="0.45"/>
<line x1="48.27" y1="389.32" x2="48.27" y2="394.92" stroke="#E8222B" stroke-width="1" stroke-opacity="0.45"/>
<line x1="57.53" y1="389.32" x2="57.53" y2="394.92" stroke="#E8222B" stroke-width="1" stroke-opacity="0.45"/>
<line x1="66.8" y1="389.32" x2="66.8" y2="394.92" stroke="#E8222B" stroke-width="1" stroke-opacity="0.45"/>
<line x1="76.06" y1="390.57" x2="76.06" y2="396.17" stroke="#E8222B" stroke-width="1" stroke-opacity="0.45"/>
<line x1="85.33" y1="391.3" x2="85.33" y2="396.9" stroke="#E8222B" stroke-width="1" stroke-opacity="0.45"/>
<line x1="94.6" y1="391.59" x2="94.6" y2="397.19" stroke="#E8222B" stroke-width="1" stroke-opacity="0.45"/>
<line x1="103.86" y1="391.59" x2="103.86" y2="397.19" stroke="#E8222B" stroke-width="1" stroke-opacity="0.45"/>
<line x1="113.13" y1="391.59" x2="113.13" y2="397.19" stroke="#E8222B" stroke-width="1" stroke-opacity="0.45"/>
<line x1="122.39" y1="390.57" x2="122.39" y2="396.17" stroke="#E8222B" stroke-width="1" stroke-opacity="0.45"/>
<line x1="131.66" y1="389.32" x2="131.66" y2="394.92" stroke="#E8222B" stroke-width="1" stroke-opacity="0.45"/>
<line x1="140.93" y1="387.57" x2="140.93" y2="393.17" stroke="#E8222B" stroke-width="1" stroke-opacity="0.45"/>
<line x1="150.19" y1="385.09" x2="150.19" y2="390.69" stroke="#E8222B" stroke-width="1" stroke-opacity="0.45"/>
<line x1="159.46" y1="381.5" x2="159.46" y2="387.1" stroke="#E8222B" stroke-width="1" stroke-opacity="0.45"/>
<line x1="168.72" y1="380.19" x2="168.72" y2="385.79" stroke="#E8222B" stroke-width="1" stroke-opacity="0.45"/>
<line x1="177.99" y1="376.83" x2="177.99" y2="382.43" stroke="#E8222B" stroke-width="1" stroke-opacity="0.45"/>
<line x1="187.26" y1="372.74" x2="187.26" y2="378.34" stroke="#E8222B" stroke-width="1" stroke-opacity="0.45"/>
<line x1="196.52" y1="368.5" x2="196.52" y2="374.1" stroke="#E8222B" stroke-width="1" stroke-opacity="0.45"/>
<line x1="205.79" y1="364.33" x2="205.79" y2="369.93" stroke="#E8222B" stroke-width="1" stroke-opacity="0.45"/>
<line x1="215.05" y1="361.04" x2="215.05" y2="366.64" stroke="#E8222B" stroke-width="1" stroke-opacity="0.45"/>
<line x1="224.32" y1="360.53" x2="224.32" y2="366.13" stroke="#E8222B" stroke-width="1" stroke-opacity="0.45"/>
<line x1="233.59" y1="364.11" x2="233.59" y2="369.71" stroke="#E8222B" stroke-width="1" stroke-opacity="0.45"/>
<line x1="242.85" y1="356.37" x2="242.85" y2="361.97" stroke="#E8222B" stroke-width="1" stroke-opacity="0.45"/>
<line x1="252.12" y1="350.88" x2="252.12" y2="356.48" stroke="#E8222B" stroke-width="1" stroke-opacity="0.45"/>
<line x1="261.38" y1="350.01" x2="261.38" y2="355.61" stroke="#E8222B" stroke-width="1" stroke-opacity="0.45"/>
<line x1="270.65" y1="347.16" x2="270.65" y2="352.76" stroke="#E8222B" stroke-width="1" stroke-opacity="0.45"/>
<line x1="279.92" y1="344.67" x2="279.92" y2="350.27" stroke="#E8222B" stroke-width="1" stroke-opacity="0.45"/>
<line x1="289.18" y1="342.77" x2="289.18" y2="348.37" stroke="#E8222B" stroke-width="1" stroke-opacity="0.45"/>
<line x1="298.45" y1="340.87" x2="298.45" y2="346.47" stroke="#E8222B" stroke-width="1" stroke-opacity="0.45"/>
<line x1="307.71" y1="338.9" x2="307.71" y2="344.5" stroke="#E8222B" stroke-width="1" stroke-opacity="0.45"/>
<line x1="316.98" y1="356.66" x2="316.98" y2="362.26" stroke="#E8222B" stroke-width="1" stroke-opacity="0.45"/>
<line x1="326.25" y1="364.33" x2="326.25" y2="369.93" stroke="#E8222B" stroke-width="1" stroke-opacity="0.45"/>
<circle cx="39" cy="391.39" r="2.0" fill="#E8222B" fill-opacity="0.6"/>
<circle cx="48.27" cy="392.12" r="2.0" fill="#E8222B" fill-opacity="0.6"/>
<circle cx="57.53" cy="392.12" r="2.0" fill="#E8222B" fill-opacity="0.6"/>
<circle cx="66.8" cy="392.12" r="2.0" fill="#E8222B" fill-opacity="0.6"/>
<circle cx="76.06" cy="393.37" r="2.0" fill="#E8222B" fill-opacity="0.6"/>
<circle cx="85.33" cy="394.1" r="2.0" fill="#E8222B" fill-opacity="0.6"/>
<circle cx="94.6" cy="394.39" r="2.0" fill="#E8222B" fill-opacity="0.6"/>
<circle cx="103.86" cy="394.39" r="2.0" fill="#E8222B" fill-opacity="0.6"/>
<circle cx="113.13" cy="394.39" r="2.0" fill="#E8222B" fill-opacity="0.6"/>
<circle cx="122.39" cy="393.37" r="2.0" fill="#E8222B" fill-opacity="0.6"/>
<circle cx="131.66" cy="392.12" r="2.0" fill="#E8222B" fill-opacity="0.6"/>
<circle cx="140.93" cy="390.37" r="2.0" fill="#E8222B" fill-opacity="0.6"/>
<circle cx="150.19" cy="387.89" r="2.0" fill="#E8222B" fill-opacity="0.6"/>
<circle cx="159.46" cy="384.3" r="2.0" fill="#E8222B" fill-opacity="0.6"/>
<circle cx="168.72" cy="382.99" r="2.0" fill="#E8222B" fill-opacity="0.6"/>
<circle cx="177.99" cy="379.63" r="2.0" fill="#E8222B" fill-opacity="0.6"/>
<circle cx="187.26" cy="375.54" r="2.0" fill="#E8222B" fill-opacity="0.6"/>
<circle cx="196.52" cy="371.3" r="2.0" fill="#E8222B" fill-opacity="0.6"/>
<circle cx="205.79" cy="367.13" r="2.0" fill="#E8222B" fill-opacity="0.6"/>
<circle cx="215.05" cy="363.84" r="2.0" fill="#E8222B" fill-opacity="0.6"/>
<circle cx="224.32" cy="363.33" r="2.0" fill="#E8222B" fill-opacity="0.6"/>
<circle cx="233.59" cy="366.91" r="2.0" fill="#E8222B" fill-opacity="0.6"/>
<circle cx="242.85" cy="359.17" r="2.0" fill="#E8222B" fill-opacity="0.6"/>
<circle cx="252.12" cy="353.68" r="2.0" fill="#E8222B" fill-opacity="0.6"/>
<circle cx="261.38" cy="352.81" r="2.0" fill="#E8222B" fill-opacity="0.6"/>
<circle cx="270.65" cy="349.96" r="2.0" fill="#E8222B" fill-opacity="0.6"/>
<circle cx="279.92" cy="347.47" r="2.0" fill="#E8222B" fill-opacity="0.6"/>
<circle cx="289.18" cy="345.57" r="2.0" fill="#E8222B" fill-opacity="0.6"/>
<circle cx="298.45" cy="343.67" r="2.0" fill="#E8222B" fill-opacity="0.6"/>
<circle cx="307.71" cy="341.7" r="2.0" fill="#E8222B" fill-opacity="0.6"/>
<circle cx="316.98" cy="359.46" r="2.0" fill="#E8222B" fill-opacity="0.6"/>
<circle cx="326.25" cy="367.13" r="2.0" fill="#E8222B" fill-opacity="0.6"/>
<polyline points="39,391.39 48.27,392.12 57.53,392.12 66.8,392.12 76.06,393.37 85.33,394.1 94.6,394.39 103.86,394.39 113.13,394.39 122.39,393.37 131.66,392.12 140.93,390.37 150.19,387.89 159.46,384.3 168.72,382.99 177.99,379.63 187.26,375.54 196.52,371.3 205.79,367.13 215.05,363.84 224.32,363.33 233.59,366.91 242.85,359.17 252.12,353.68 261.38,352.81 270.65,349.96 279.92,347.47 289.18,345.57 298.45,343.67 307.71,341.7 316.98,359.46 326.25,367.13" fill="none" stroke="#E8222B" stroke-width="0.9" stroke-linejoin="round"/>
<line x1="39" y1="414.35" x2="39" y2="422.95" stroke="#2D5FA3" stroke-width="1" stroke-opacity="0.45"/>
<line x1="48.27" y1="415.59" x2="48.27" y2="424.19" stroke="#2D5FA3" stroke-width="1" stroke-opacity="0.45"/>
<line x1="57.53" y1="415.08" x2="57.53" y2="423.68" stroke="#2D5FA3" stroke-width="1" stroke-opacity="0.45"/>
<line x1="66.8" y1="415.08" x2="66.8" y2="423.68" stroke="#2D5FA3" stroke-width="1" stroke-opacity="0.45"/>
<line x1="76.06" y1="428.8" x2="76.06" y2="450.6" stroke="#2D5FA3" stroke-width="1" stroke-opacity="0.45"/>
<line x1="85.33" y1="420.05" x2="85.33" y2="428.65" stroke="#2D5FA3" stroke-width="1" stroke-opacity="0.45"/>
<line x1="94.6" y1="422.54" x2="94.6" y2="431.14" stroke="#2D5FA3" stroke-width="1" stroke-opacity="0.45"/>
<line x1="103.86" y1="423.78" x2="103.86" y2="432.38" stroke="#2D5FA3" stroke-width="1" stroke-opacity="0.45"/>
<line x1="113.13" y1="425.46" x2="113.13" y2="434.06" stroke="#2D5FA3" stroke-width="1" stroke-opacity="0.45"/>
<line x1="122.39" y1="425.46" x2="122.39" y2="434.06" stroke="#2D5FA3" stroke-width="1" stroke-opacity="0.45"/>
<line x1="131.66" y1="425.02" x2="131.66" y2="433.62" stroke="#2D5FA3" stroke-width="1" stroke-opacity="0.45"/>
<line x1="140.93" y1="423.05" x2="140.93" y2="431.65" stroke="#2D5FA3" stroke-width="1" stroke-opacity="0.45"/>
<line x1="150.19" y1="421.44" x2="150.19" y2="430.04" stroke="#2D5FA3" stroke-width="1" stroke-opacity="0.45"/>
<line x1="159.46" y1="419.54" x2="159.46" y2="428.14" stroke="#2D5FA3" stroke-width="1" stroke-opacity="0.45"/>
<line x1="168.72" y1="417.64" x2="168.72" y2="426.24" stroke="#2D5FA3" stroke-width="1" stroke-opacity="0.45"/>
<line x1="177.99" y1="414.86" x2="177.99" y2="423.46" stroke="#2D5FA3" stroke-width="1" stroke-opacity="0.45"/>
<line x1="187.26" y1="411.28" x2="187.26" y2="419.88" stroke="#2D5FA3" stroke-width="1" stroke-opacity="0.45"/>
<line x1="196.52" y1="407.7" x2="196.52" y2="416.3" stroke="#2D5FA3" stroke-width="1" stroke-opacity="0.45"/>
<line x1="205.79" y1="404.27" x2="205.79" y2="412.87" stroke="#2D5FA3" stroke-width="1" stroke-opacity="0.45"/>
<line x1="215.05" y1="401.56" x2="215.05" y2="410.16" stroke="#2D5FA3" stroke-width="1" stroke-opacity="0.45"/>
<line x1="224.32" y1="407.04" x2="224.32" y2="415.64" stroke="#2D5FA3" stroke-width="1" stroke-opacity="0.45"/>
<line x1="233.59" y1="407.7" x2="233.59" y2="416.3" stroke="#2D5FA3" stroke-width="1" stroke-opacity="0.45"/>
<line x1="242.85" y1="401.56" x2="242.85" y2="410.16" stroke="#2D5FA3" stroke-width="1" stroke-opacity="0.45"/>
<line x1="252.12" y1="397.4" x2="252.12" y2="406" stroke="#2D5FA3" stroke-width="1" stroke-opacity="0.45"/>
<line x1="261.38" y1="397.69" x2="261.38" y2="406.29" stroke="#2D5FA3" stroke-width="1" stroke-opacity="0.45"/>
<line x1="270.65" y1="394.91" x2="270.65" y2="403.51" stroke="#2D5FA3" stroke-width="1" stroke-opacity="0.45"/>
<line x1="279.92" y1="392.72" x2="279.92" y2="401.32" stroke="#2D5FA3" stroke-width="1" stroke-opacity="0.45"/>
<line x1="289.18" y1="391.92" x2="289.18" y2="400.52" stroke="#2D5FA3" stroke-width="1" stroke-opacity="0.45"/>
<line x1="298.45" y1="391.33" x2="298.45" y2="399.93" stroke="#2D5FA3" stroke-width="1" stroke-opacity="0.45"/>
<line x1="307.71" y1="389.65" x2="307.71" y2="398.25" stroke="#2D5FA3" stroke-width="1" stroke-opacity="0.45"/>
<line x1="316.98" y1="415.05" x2="316.98" y2="426.05" stroke="#2D5FA3" stroke-width="1" stroke-opacity="0.45"/>
<line x1="326.25" y1="432.04" x2="326.25" y2="444.44" stroke="#2D5FA3" stroke-width="1" stroke-opacity="0.45"/>
<circle cx="39" cy="418.65" r="2.0" fill="#2D5FA3" fill-opacity="0.6"/>
<circle cx="48.27" cy="419.89" r="2.0" fill="#2D5FA3" fill-opacity="0.6"/>
<circle cx="57.53" cy="419.38" r="2.0" fill="#2D5FA3" fill-opacity="0.6"/>
<circle cx="66.8" cy="419.38" r="2.0" fill="#2D5FA3" fill-opacity="0.6"/>
<circle cx="76.06" cy="439.7" r="2.0" fill="#2D5FA3" fill-opacity="0.6"/>
<circle cx="85.33" cy="424.35" r="2.0" fill="#2D5FA3" fill-opacity="0.6"/>
<circle cx="94.6" cy="426.84" r="2.0" fill="#2D5FA3" fill-opacity="0.6"/>
<circle cx="103.86" cy="428.08" r="2.0" fill="#2D5FA3" fill-opacity="0.6"/>
<circle cx="113.13" cy="429.76" r="2.0" fill="#2D5FA3" fill-opacity="0.6"/>
<circle cx="122.39" cy="429.76" r="2.0" fill="#2D5FA3" fill-opacity="0.6"/>
<circle cx="131.66" cy="429.32" r="2.0" fill="#2D5FA3" fill-opacity="0.6"/>
<circle cx="140.93" cy="427.35" r="2.0" fill="#2D5FA3" fill-opacity="0.6"/>
<circle cx="150.19" cy="425.74" r="2.0" fill="#2D5FA3" fill-opacity="0.6"/>
<circle cx="159.46" cy="423.84" r="2.0" fill="#2D5FA3" fill-opacity="0.6"/>
<circle cx="168.72" cy="421.94" r="2.0" fill="#2D5FA3" fill-opacity="0.6"/>
<circle cx="177.99" cy="419.16" r="2.0" fill="#2D5FA3" fill-opacity="0.6"/>
<circle cx="187.26" cy="415.58" r="2.0" fill="#2D5FA3" fill-opacity="0.6"/>
<circle cx="196.52" cy="412" r="2.0" fill="#2D5FA3" fill-opacity="0.6"/>
<circle cx="205.79" cy="408.57" r="2.0" fill="#2D5FA3" fill-opacity="0.6"/>
<circle cx="215.05" cy="405.86" r="2.0" fill="#2D5FA3" fill-opacity="0.6"/>
<circle cx="224.32" cy="411.34" r="2.0" fill="#2D5FA3" fill-opacity="0.6"/>
<circle cx="233.59" cy="412" r="2.0" fill="#2D5FA3" fill-opacity="0.6"/>
<circle cx="242.85" cy="405.86" r="2.0" fill="#2D5FA3" fill-opacity="0.6"/>
<circle cx="252.12" cy="401.7" r="2.0" fill="#2D5FA3" fill-opacity="0.6"/>
<circle cx="261.38" cy="401.99" r="2.0" fill="#2D5FA3" fill-opacity="0.6"/>
<circle cx="270.65" cy="399.21" r="2.0" fill="#2D5FA3" fill-opacity="0.6"/>
<circle cx="279.92" cy="397.02" r="2.0" fill="#2D5FA3" fill-opacity="0.6"/>
<circle cx="289.18" cy="396.22" r="2.0" fill="#2D5FA3" fill-opacity="0.6"/>
<circle cx="298.45" cy="395.63" r="2.0" fill="#2D5FA3" fill-opacity="0.6"/>
<circle cx="307.71" cy="393.95" r="2.0" fill="#2D5FA3" fill-opacity="0.6"/>
<circle cx="316.98" cy="420.55" r="2.0" fill="#2D5FA3" fill-opacity="0.6"/>
<circle cx="326.25" cy="438.24" r="2.0" fill="#2D5FA3" fill-opacity="0.6"/>
<polyline points="39,418.65 48.27,419.89 57.53,419.38 66.8,419.38 76.06,439.7 85.33,424.35 94.6,426.84 103.86,428.08 113.13,429.76 122.39,429.76 131.66,429.32 140.93,427.35 150.19,425.74 159.46,423.84 168.72,421.94 177.99,419.16 187.26,415.58 196.52,412 205.79,408.57 215.05,405.86 224.32,411.34 233.59,412 242.85,405.86 252.12,401.7 261.38,401.99 270.65,399.21 279.92,397.02 289.18,396.22 298.45,395.63 307.71,393.95 316.98,420.55 326.25,438.24" fill="none" stroke="#2D5FA3" stroke-width="0.9" stroke-linejoin="round"/>
<line x1="316.98" y1="280.35" x2="316.98" y2="283.35" stroke="#9D76BA" stroke-width="1" stroke-opacity="0.45"/>
<line x1="326.25" y1="289.85" x2="326.25" y2="292.85" stroke="#9D76BA" stroke-width="1" stroke-opacity="0.45"/>
<circle cx="316.98" cy="281.85" r="2.0" fill="#9D76BA" fill-opacity="0.6"/>
<circle cx="326.25" cy="291.35" r="2.0" fill="#9D76BA" fill-opacity="0.6"/>
<polyline points="316.98,281.85 326.25,291.35" fill="none" stroke="#9D76BA" stroke-width="0.9" stroke-linejoin="round"/>
<line x1="24.5" y1="271.9" x2="24.5" y2="459.9" stroke="#3a3a3a" stroke-width="1"/>
<line x1="24" y1="459.4" x2="341" y2="459.4" stroke="#3a3a3a" stroke-width="1"/>
<line x1="22.3" y1="274.1" x2="24.5" y2="274.1" stroke="#333333" stroke-width="0.7"/>
<text x="21.5" y="276" font-size="5.28" text-anchor="end" fill="#5e5e5e">0</text>
<line x1="22.3" y1="310.64" x2="24.5" y2="310.64" stroke="#333333" stroke-width="0.7"/>
<text x="21.5" y="312.54" font-size="5.28" text-anchor="end" fill="#5e5e5e">−50</text>
<line x1="22.3" y1="347.18" x2="24.5" y2="347.18" stroke="#333333" stroke-width="0.7"/>
<text x="21.5" y="349.08" font-size="5.28" text-anchor="end" fill="#5e5e5e">−100</text>
<line x1="22.3" y1="383.72" x2="24.5" y2="383.72" stroke="#333333" stroke-width="0.7"/>
<text x="21.5" y="385.62" font-size="5.28" text-anchor="end" fill="#5e5e5e">−150</text>
<line x1="22.3" y1="420.26" x2="24.5" y2="420.26" stroke="#333333" stroke-width="0.7"/>
<text x="21.5" y="422.16" font-size="5.28" text-anchor="end" fill="#5e5e5e">−200</text>
<line x1="22.3" y1="456.8" x2="24.5" y2="456.8" stroke="#333333" stroke-width="0.7"/>
<text x="21.5" y="458.7" font-size="5.28" text-anchor="end" fill="#5e5e5e">−250</text>
<line x1="39" y1="459.4" x2="39" y2="461.6" stroke="#333333" stroke-width="0.7"/>
<text x="39" y="466.4" font-size="5.28" text-anchor="middle" fill="#5e5e5e">1990</text>
<line x1="131.66" y1="459.4" x2="131.66" y2="461.6" stroke="#333333" stroke-width="0.7"/>
<text x="131.66" y="466.4" font-size="5.28" text-anchor="middle" fill="#5e5e5e">2000</text>
<line x1="224.32" y1="459.4" x2="224.32" y2="461.6" stroke="#333333" stroke-width="0.7"/>
<text x="224.32" y="466.4" font-size="5.28" text-anchor="middle" fill="#5e5e5e">2010</text>
<line x1="316.98" y1="459.4" x2="316.98" y2="461.6" stroke="#333333" stroke-width="0.7"/>
<text x="316.98" y="466.4" font-size="5.28" text-anchor="middle" fill="#5e5e5e">2020</text>
<text x="24.3" y="267.21" font-size="7.8" text-anchor="start" fill="#000">c. Socioeconomic inequality in ASM by causes,1990−2021</text>
<text x="182.4" y="474.58" font-size="6.6" text-anchor="middle" fill="#000">Year</text>
<text x="5.5" y="367.78" font-size="6.6" text-anchor="middle" fill="#000" transform="rotate(-90 5.5 365.4)">Beta (1/100,000)</text>
<text x="34.5" y="499.78" font-size="6.6" text-anchor="start" fill="#000">Causes</text>
<line x1="60.4" y1="490.6" x2="69.4" y2="490.6" stroke="#2D5FA3" stroke-width="0.9"/>
<line x1="64.9" y1="486.1" x2="64.9" y2="495.1" stroke="#2D5FA3" stroke-width="0.8" stroke-opacity="0.6"/>
<circle cx="64.9" cy="490.6" r="1.9" fill="#2D5FA3" fill-opacity="0.55"/>
<text x="73.3" y="492.73" font-size="5.36" text-anchor="start" fill="#000">All causes</text>
<line x1="145.2" y1="490.6" x2="154.2" y2="490.6" stroke="#E8222B" stroke-width="0.9"/>
<line x1="149.7" y1="486.1" x2="149.7" y2="495.1" stroke="#E8222B" stroke-width="0.8" stroke-opacity="0.6"/>
<circle cx="149.7" cy="490.6" r="1.9" fill="#E8222B" fill-opacity="0.55"/>
<text x="158.1" y="492.73" font-size="5.36" text-anchor="start" fill="#000">Communicable, maternal, neonatal, and nutritional diseases</text>
<line x1="301.4" y1="490.6" x2="310.4" y2="490.6" stroke="#4CB84C" stroke-width="0.9"/>
<line x1="305.9" y1="486.1" x2="305.9" y2="495.1" stroke="#4CB84C" stroke-width="0.8" stroke-opacity="0.6"/>
<circle cx="305.9" cy="490.6" r="1.9" fill="#4CB84C" fill-opacity="0.55"/>
<text x="314.3" y="492.73" font-size="5.36" text-anchor="start" fill="#000">Injuries</text>
<line x1="60.4" y1="503.9" x2="69.4" y2="503.9" stroke="#1FA4C6" stroke-width="0.9"/>
<line x1="64.9" y1="499.4" x2="64.9" y2="508.4" stroke="#1FA4C6" stroke-width="0.8" stroke-opacity="0.6"/>
<circle cx="64.9" cy="503.9" r="1.9" fill="#1FA4C6" fill-opacity="0.55"/>
<text x="73.3" y="506.03" font-size="5.36" text-anchor="start" fill="#000">Non−communicable diseases</text>
<line x1="145.2" y1="503.9" x2="154.2" y2="503.9" stroke="#9D76BA" stroke-width="0.9"/>
<line x1="149.7" y1="499.4" x2="149.7" y2="508.4" stroke="#9D76BA" stroke-width="0.8" stroke-opacity="0.6"/>
<circle cx="149.7" cy="503.9" r="1.9" fill="#9D76BA" fill-opacity="0.55"/>
<text x="158.1" y="506.03" font-size="5.36" text-anchor="start" fill="#000">Other COVID−19 pandemic−related outcomes</text>
<rect x="381.12" y="280.1" width="8.15" height="138.65" fill="#EE3237"/>
<rect x="381.12" y="418.75" width="8.15" height="9.72" fill="#64BE64"/>
<rect x="381.12" y="428.48" width="8.15" height="22.52" fill="#32AAC3"/>
<rect x="390.18" y="280.1" width="8.15" height="138.16" fill="#EE3237"/>
<rect x="390.18" y="418.26" width="8.15" height="9.71" fill="#64BE64"/>
<rect x="390.18" y="427.96" width="8.15" height="23.04" fill="#32AAC3"/>
<rect x="399.23" y="280.1" width="8.15" height="138.6" fill="#EE3237"/>
<rect x="399.23" y="418.7" width="8.15" height="8.24" fill="#64BE64"/>
<rect x="399.23" y="426.94" width="8.15" height="24.06" fill="#32AAC3"/>
<rect x="408.27" y="280.1" width="8.15" height="138.92" fill="#EE3237"/>
<rect x="408.27" y="419.02" width="8.15" height="8.43" fill="#64BE64"/>
<rect x="408.27" y="427.45" width="8.15" height="23.55" fill="#32AAC3"/>
<rect x="417.32" y="280.1" width="8.15" height="122.83" fill="#EE3237"/>
<rect x="417.32" y="402.93" width="8.15" height="26.56" fill="#64BE64"/>
<rect x="417.32" y="429.48" width="8.15" height="21.52" fill="#32AAC3"/>
<rect x="426.38" y="280.1" width="8.15" height="136.36" fill="#EE3237"/>
<rect x="426.38" y="416.46" width="8.15" height="9.19" fill="#64BE64"/>
<rect x="426.38" y="425.66" width="8.15" height="25.34" fill="#32AAC3"/>
<rect x="435.43" y="280.1" width="8.15" height="134.58" fill="#EE3237"/>
<rect x="435.43" y="414.68" width="8.15" height="9.69" fill="#64BE64"/>
<rect x="435.43" y="424.37" width="8.15" height="26.63" fill="#32AAC3"/>
<rect x="444.48" y="280.1" width="8.15" height="133.56" fill="#EE3237"/>
<rect x="444.48" y="413.66" width="8.15" height="9.96" fill="#64BE64"/>
<rect x="444.48" y="423.62" width="8.15" height="27.38" fill="#32AAC3"/>
<rect x="453.53" y="280.1" width="8.15" height="130.99" fill="#EE3237"/>
<rect x="453.53" y="411.09" width="8.15" height="11.76" fill="#64BE64"/>
<rect x="453.53" y="422.85" width="8.15" height="28.15" fill="#32AAC3"/>
<rect x="462.57" y="280.1" width="8.15" height="130.74" fill="#EE3237"/>
<rect x="462.57" y="410.84" width="8.15" height="10.99" fill="#64BE64"/>
<rect x="462.57" y="421.83" width="8.15" height="29.17" fill="#32AAC3"/>
<rect x="471.62" y="280.1" width="8.15" height="129.99" fill="#EE3237"/>
<rect x="471.62" y="410.09" width="8.15" height="9.95" fill="#64BE64"/>
<rect x="471.62" y="420.03" width="8.15" height="30.97" fill="#32AAC3"/>
<rect x="480.68" y="280.1" width="8.15" height="129.71" fill="#EE3237"/>
<rect x="480.68" y="409.81" width="8.15" height="9.45" fill="#64BE64"/>
<rect x="480.68" y="419.26" width="8.15" height="31.74" fill="#32AAC3"/>
<rect x="489.73" y="280.1" width="8.15" height="128.7" fill="#EE3237"/>
<rect x="489.73" y="408.8" width="8.15" height="9.71" fill="#64BE64"/>
<rect x="489.73" y="418.51" width="8.15" height="32.49" fill="#32AAC3"/>
<rect x="498.78" y="280.1" width="8.15" height="127.94" fill="#EE3237"/>
<rect x="498.78" y="408.04" width="8.15" height="9.45" fill="#64BE64"/>
<rect x="498.78" y="417.49" width="8.15" height="33.51" fill="#32AAC3"/>
<rect x="507.82" y="280.1" width="8.15" height="125.9" fill="#EE3237"/>
<rect x="507.82" y="406" width="8.15" height="9.71" fill="#64BE64"/>
<rect x="507.82" y="415.71" width="8.15" height="35.29" fill="#32AAC3"/>
<rect x="516.88" y="280.1" width="8.15" height="124.07" fill="#EE3237"/>
<rect x="516.88" y="404.17" width="8.15" height="10.08" fill="#64BE64"/>
<rect x="516.88" y="414.26" width="8.15" height="36.74" fill="#32AAC3"/>
<rect x="525.92" y="280.1" width="8.15" height="122.19" fill="#EE3237"/>
<rect x="525.92" y="402.29" width="8.15" height="9.57" fill="#64BE64"/>
<rect x="525.92" y="411.86" width="8.15" height="39.14" fill="#32AAC3"/>
<rect x="534.97" y="280.1" width="8.15" height="120.14" fill="#EE3237"/>
<rect x="534.97" y="400.24" width="8.15" height="10.42" fill="#64BE64"/>
<rect x="534.97" y="410.67" width="8.15" height="40.33" fill="#32AAC3"/>
<rect x="544.02" y="280.1" width="8.15" height="117.58" fill="#EE3237"/>
<rect x="544.02" y="397.68" width="8.15" height="10.94" fill="#64BE64"/>
<rect x="544.02" y="408.62" width="8.15" height="42.38" fill="#32AAC3"/>
<rect x="553.07" y="280.1" width="8.15" height="115.53" fill="#EE3237"/>
<rect x="553.07" y="395.63" width="8.15" height="10.42" fill="#64BE64"/>
<rect x="553.07" y="406.05" width="8.15" height="44.95" fill="#32AAC3"/>
<rect x="562.12" y="280.1" width="8.15" height="110.74" fill="#EE3237"/>
<rect x="562.12" y="390.84" width="8.15" height="14.7" fill="#64BE64"/>
<rect x="562.12" y="405.54" width="8.15" height="45.46" fill="#32AAC3"/>
<rect x="571.17" y="280.1" width="8.15" height="114.5" fill="#EE3237"/>
<rect x="571.17" y="394.6" width="8.15" height="9.91" fill="#64BE64"/>
<rect x="571.17" y="404.52" width="8.15" height="46.48" fill="#32AAC3"/>
<rect x="580.22" y="280.1" width="8.15" height="109.89" fill="#EE3237"/>
<rect x="580.22" y="389.99" width="8.15" height="10.94" fill="#64BE64"/>
<rect x="580.22" y="400.93" width="8.15" height="50.07" fill="#32AAC3"/>
<rect x="589.27" y="280.1" width="8.15" height="106.13" fill="#EE3237"/>
<rect x="589.27" y="386.23" width="8.15" height="11.96" fill="#64BE64"/>
<rect x="589.27" y="398.19" width="8.15" height="52.81" fill="#32AAC3"/>
<rect x="598.32" y="280.1" width="8.15" height="104.76" fill="#EE3237"/>
<rect x="598.32" y="384.86" width="8.15" height="12.3" fill="#64BE64"/>
<rect x="598.32" y="397.17" width="8.15" height="53.83" fill="#32AAC3"/>
<rect x="607.38" y="280.1" width="8.15" height="102.71" fill="#EE3237"/>
<rect x="607.38" y="382.81" width="8.15" height="12.65" fill="#64BE64"/>
<rect x="607.38" y="395.46" width="8.15" height="55.54" fill="#32AAC3"/>
<rect x="616.42" y="280.1" width="8.15" height="101.51" fill="#EE3237"/>
<rect x="616.42" y="381.61" width="8.15" height="12.82" fill="#64BE64"/>
<rect x="616.42" y="394.43" width="8.15" height="56.57" fill="#32AAC3"/>
<rect x="625.47" y="280.1" width="8.15" height="99.63" fill="#EE3237"/>
<rect x="625.47" y="379.73" width="8.15" height="12.82" fill="#64BE64"/>
<rect x="625.47" y="392.55" width="8.15" height="58.45" fill="#32AAC3"/>
<rect x="634.52" y="280.1" width="8.15" height="97.75" fill="#EE3237"/>
<rect x="634.52" y="377.85" width="8.15" height="12.99" fill="#64BE64"/>
<rect x="634.52" y="390.84" width="8.15" height="60.16" fill="#32AAC3"/>
<rect x="643.58" y="280.1" width="8.15" height="96.05" fill="#EE3237"/>
<rect x="643.58" y="376.15" width="8.15" height="12.65" fill="#64BE64"/>
<rect x="643.58" y="388.79" width="8.15" height="62.21" fill="#32AAC3"/>
<rect x="652.62" y="280.1" width="8.15" height="98.95" fill="#EE3237"/>
<rect x="652.62" y="379.05" width="8.15" height="10.42" fill="#64BE64"/>
<rect x="652.62" y="389.48" width="8.15" height="52.98" fill="#32AAC3"/>
<rect x="652.62" y="442.45" width="8.15" height="8.55" fill="#AA7DB4"/>
<rect x="661.67" y="280.1" width="8.15" height="96.73" fill="#EE3237"/>
<rect x="661.67" y="376.83" width="8.15" height="8.89" fill="#64BE64"/>
<rect x="661.67" y="385.72" width="8.15" height="47.85" fill="#32AAC3"/>
<rect x="661.67" y="433.57" width="8.15" height="17.43" fill="#AA7DB4"/>
<line x1="380.2" y1="408.27" x2="670.75" y2="408.27" stroke="#ffffff" stroke-width="0.5" stroke-opacity="0.15"/>
<line x1="380.2" y1="365.55" x2="670.75" y2="365.55" stroke="#ffffff" stroke-width="0.5" stroke-opacity="0.15"/>
<line x1="380.2" y1="322.82" x2="670.75" y2="322.82" stroke="#ffffff" stroke-width="0.5" stroke-opacity="0.15"/>
<line x1="366.5" y1="271.6" x2="366.5" y2="459.9" stroke="#3a3a3a" stroke-width="1"/>
<line x1="366" y1="459.4" x2="685" y2="459.4" stroke="#3a3a3a" stroke-width="1"/>
<line x1="364.3" y1="451" x2="366.5" y2="451" stroke="#333333" stroke-width="0.7"/>
<text x="363.5" y="452.9" font-size="5.28" text-anchor="end" fill="#5e5e5e">0</text>
<line x1="364.3" y1="408.27" x2="366.5" y2="408.27" stroke="#333333" stroke-width="0.7"/>
<text x="363.5" y="410.18" font-size="5.28" text-anchor="end" fill="#5e5e5e">25</text>
<line x1="364.3" y1="365.55" x2="366.5" y2="365.55" stroke="#333333" stroke-width="0.7"/>
<text x="363.5" y="367.45" font-size="5.28" text-anchor="end" fill="#5e5e5e">50</text>
<line x1="364.3" y1="322.82" x2="366.5" y2="322.82" stroke="#333333" stroke-width="0.7"/>
<text x="363.5" y="324.73" font-size="5.28" text-anchor="end" fill="#5e5e5e">75</text>
<line x1="364.3" y1="280.1" x2="366.5" y2="280.1" stroke="#333333" stroke-width="0.7"/>
<text x="363.5" y="282" font-size="5.28" text-anchor="end" fill="#5e5e5e">100</text>
<line x1="385.2" y1="459.4" x2="385.2" y2="461.6" stroke="#333333" stroke-width="0.7"/>
<text x="385.2" y="466.4" font-size="5.28" text-anchor="middle" fill="#5e5e5e">1990</text>
<line x1="475.7" y1="459.4" x2="475.7" y2="461.6" stroke="#333333" stroke-width="0.7"/>
<text x="475.7" y="466.4" font-size="5.28" text-anchor="middle" fill="#5e5e5e">2000</text>
<line x1="566.2" y1="459.4" x2="566.2" y2="461.6" stroke="#333333" stroke-width="0.7"/>
<text x="566.2" y="466.4" font-size="5.28" text-anchor="middle" fill="#5e5e5e">2010</text>
<line x1="656.7" y1="459.4" x2="656.7" y2="461.6" stroke="#333333" stroke-width="0.7"/>
<text x="656.7" y="466.4" font-size="5.28" text-anchor="middle" fill="#5e5e5e">2020</text>
<text x="367.3" y="267.41" font-size="7.8" text-anchor="start" fill="#000">d. Contribution to SIAM by level 1 causes, 1990−2021</text>
<text x="525.8" y="474.58" font-size="6.6" text-anchor="middle" fill="#000">Year</text>
<text x="349.5" y="367.78" font-size="6.6" text-anchor="middle" fill="#000" transform="rotate(-90 349.5 365.4)">Contribution to SIAM (%)</text>
<text x="375.8" y="499.98" font-size="6.6" text-anchor="start" fill="#000">Causes</text>
<rect x="400.8" y="485.8" width="10" height="9.5" fill="#EE3237"/>
<text x="414.4" y="492.73" font-size="5.36" text-anchor="start" fill="#000">Communicable, maternal, neonatal, and nutritional diseases</text>
<rect x="557.3" y="485.8" width="10" height="9.5" fill="#64BE64"/>
<text x="570.9" y="492.73" font-size="5.36" text-anchor="start" fill="#000">Injuries</text>
<rect x="400.8" y="499.4" width="10" height="9.5" fill="#32AAC3"/>
<text x="414.4" y="506.33" font-size="5.36" text-anchor="start" fill="#000">Non−communicable diseases</text>
<rect x="557.3" y="499.4" width="10" height="9.5" fill="#AA7DB4"/>
<text x="570.9" y="506.33" font-size="5.36" text-anchor="start" fill="#000">Other COVID−19 pandemic−related outcomes</text>
<line x1="39" y1="650.86" x2="39" y2="657.46" stroke="#EBA468" stroke-width="1" stroke-opacity="0.45"/>
<line x1="48.27" y1="649.5" x2="48.27" y2="656.1" stroke="#EBA468" stroke-width="1" stroke-opacity="0.45"/>
<line x1="57.53" y1="647.99" x2="57.53" y2="654.59" stroke="#EBA468" stroke-width="1" stroke-opacity="0.45"/>
<line x1="66.8" y1="646.49" x2="66.8" y2="653.09" stroke="#EBA468" stroke-width="1" stroke-opacity="0.45"/>
<line x1="76.06" y1="645.43" x2="76.06" y2="652.03" stroke="#EBA468" stroke-width="1" stroke-opacity="0.45"/>
<line x1="85.33" y1="644.22" x2="85.33" y2="650.82" stroke="#EBA468" stroke-width="1" stroke-opacity="0.45"/>
<line x1="94.6" y1="642.26" x2="94.6" y2="648.86" stroke="#EBA468" stroke-width="1" stroke-opacity="0.45"/>
<line x1="103.86" y1="640.76" x2="103.86" y2="647.36" stroke="#EBA468" stroke-width="1" stroke-opacity="0.45"/>
<line x1="113.13" y1="640.3" x2="113.13" y2="646.9" stroke="#EBA468" stroke-width="1" stroke-opacity="0.45"/>
<line x1="122.39" y1="638.49" x2="122.39" y2="645.09" stroke="#EBA468" stroke-width="1" stroke-opacity="0.45"/>
<line x1="131.66" y1="637.44" x2="131.66" y2="644.04" stroke="#EBA468" stroke-width="1" stroke-opacity="0.45"/>
<line x1="140.93" y1="635.78" x2="140.93" y2="642.38" stroke="#EBA468" stroke-width="1" stroke-opacity="0.45"/>
<line x1="150.19" y1="634.57" x2="150.19" y2="641.17" stroke="#EBA468" stroke-width="1" stroke-opacity="0.45"/>
<line x1="159.46" y1="632.76" x2="159.46" y2="639.36" stroke="#EBA468" stroke-width="1" stroke-opacity="0.45"/>
<line x1="168.72" y1="630.95" x2="168.72" y2="637.55" stroke="#EBA468" stroke-width="1" stroke-opacity="0.45"/>
<line x1="177.99" y1="629.6" x2="177.99" y2="636.2" stroke="#EBA468" stroke-width="1" stroke-opacity="0.45"/>
<line x1="187.26" y1="628.24" x2="187.26" y2="634.84" stroke="#EBA468" stroke-width="1" stroke-opacity="0.45"/>
<line x1="196.52" y1="626.73" x2="196.52" y2="633.33" stroke="#EBA468" stroke-width="1" stroke-opacity="0.45"/>
<line x1="205.79" y1="625.37" x2="205.79" y2="631.97" stroke="#EBA468" stroke-width="1" stroke-opacity="0.45"/>
<line x1="215.05" y1="624.92" x2="215.05" y2="631.52" stroke="#EBA468" stroke-width="1" stroke-opacity="0.45"/>
<line x1="224.32" y1="625.68" x2="224.32" y2="632.28" stroke="#EBA468" stroke-width="1" stroke-opacity="0.45"/>
<line x1="233.59" y1="623.56" x2="233.59" y2="630.16" stroke="#EBA468" stroke-width="1" stroke-opacity="0.45"/>
<line x1="242.85" y1="622.06" x2="242.85" y2="628.66" stroke="#EBA468" stroke-width="1" stroke-opacity="0.45"/>
<line x1="252.12" y1="621.75" x2="252.12" y2="628.35" stroke="#EBA468" stroke-width="1" stroke-opacity="0.45"/>
<line x1="261.38" y1="621.3" x2="261.38" y2="627.9" stroke="#EBA468" stroke-width="1" stroke-opacity="0.45"/>
<line x1="270.65" y1="620.7" x2="270.65" y2="627.3" stroke="#EBA468" stroke-width="1" stroke-opacity="0.45"/>
<line x1="279.92" y1="620.7" x2="279.92" y2="627.3" stroke="#EBA468" stroke-width="1" stroke-opacity="0.45"/>
<line x1="289.18" y1="619.79" x2="289.18" y2="626.39" stroke="#EBA468" stroke-width="1" stroke-opacity="0.45"/>
<line x1="298.45" y1="619.19" x2="298.45" y2="625.79" stroke="#EBA468" stroke-width="1" stroke-opacity="0.45"/>
<line x1="307.71" y1="618.44" x2="307.71" y2="625.04" stroke="#EBA468" stroke-width="1" stroke-opacity="0.45"/>
<line x1="316.98" y1="617.08" x2="316.98" y2="623.68" stroke="#EBA468" stroke-width="1" stroke-opacity="0.45"/>
<line x1="326.25" y1="615.57" x2="326.25" y2="622.17" stroke="#EBA468" stroke-width="1" stroke-opacity="0.45"/>
<circle cx="39" cy="654.16" r="2.0" fill="#EBA468" fill-opacity="0.6"/>
<circle cx="48.27" cy="652.8" r="2.0" fill="#EBA468" fill-opacity="0.6"/>
<circle cx="57.53" cy="651.29" r="2.0" fill="#EBA468" fill-opacity="0.6"/>
<circle cx="66.8" cy="649.79" r="2.0" fill="#EBA468" fill-opacity="0.6"/>
<circle cx="76.06" cy="648.73" r="2.0" fill="#EBA468" fill-opacity="0.6"/>
<circle cx="85.33" cy="647.52" r="2.0" fill="#EBA468" fill-opacity="0.6"/>
<circle cx="94.6" cy="645.56" r="2.0" fill="#EBA468" fill-opacity="0.6"/>
<circle cx="103.86" cy="644.06" r="2.0" fill="#EBA468" fill-opacity="0.6"/>
<circle cx="113.13" cy="643.6" r="2.0" fill="#EBA468" fill-opacity="0.6"/>
<circle cx="122.39" cy="641.79" r="2.0" fill="#EBA468" fill-opacity="0.6"/>
<circle cx="131.66" cy="640.74" r="2.0" fill="#EBA468" fill-opacity="0.6"/>
<circle cx="140.93" cy="639.08" r="2.0" fill="#EBA468" fill-opacity="0.6"/>
<circle cx="150.19" cy="637.87" r="2.0" fill="#EBA468" fill-opacity="0.6"/>
<circle cx="159.46" cy="636.06" r="2.0" fill="#EBA468" fill-opacity="0.6"/>
<circle cx="168.72" cy="634.25" r="2.0" fill="#EBA468" fill-opacity="0.6"/>
<circle cx="177.99" cy="632.9" r="2.0" fill="#EBA468" fill-opacity="0.6"/>
<circle cx="187.26" cy="631.54" r="2.0" fill="#EBA468" fill-opacity="0.6"/>
<circle cx="196.52" cy="630.03" r="2.0" fill="#EBA468" fill-opacity="0.6"/>
<circle cx="205.79" cy="628.67" r="2.0" fill="#EBA468" fill-opacity="0.6"/>
<circle cx="215.05" cy="628.22" r="2.0" fill="#EBA468" fill-opacity="0.6"/>
<circle cx="224.32" cy="628.98" r="2.0" fill="#EBA468" fill-opacity="0.6"/>
<circle cx="233.59" cy="626.86" r="2.0" fill="#EBA468" fill-opacity="0.6"/>
<circle cx="242.85" cy="625.36" r="2.0" fill="#EBA468" fill-opacity="0.6"/>
<circle cx="252.12" cy="625.05" r="2.0" fill="#EBA468" fill-opacity="0.6"/>
<circle cx="261.38" cy="624.6" r="2.0" fill="#EBA468" fill-opacity="0.6"/>
<circle cx="270.65" cy="624" r="2.0" fill="#EBA468" fill-opacity="0.6"/>
<circle cx="279.92" cy="624" r="2.0" fill="#EBA468" fill-opacity="0.6"/>
<circle cx="289.18" cy="623.09" r="2.0" fill="#EBA468" fill-opacity="0.6"/>
<circle cx="298.45" cy="622.49" r="2.0" fill="#EBA468" fill-opacity="0.6"/>
<circle cx="307.71" cy="621.74" r="2.0" fill="#EBA468" fill-opacity="0.6"/>
<circle cx="316.98" cy="620.38" r="2.0" fill="#EBA468" fill-opacity="0.6"/>
<circle cx="326.25" cy="618.87" r="2.0" fill="#EBA468" fill-opacity="0.6"/>
<polyline points="39,654.16 48.27,652.8 57.53,651.29 66.8,649.79 76.06,648.73 85.33,647.52 94.6,645.56 103.86,644.06 113.13,643.6 122.39,641.79 131.66,640.74 140.93,639.08 150.19,637.87 159.46,636.06 168.72,634.25 177.99,632.9 187.26,631.54 196.52,630.03 205.79,628.67 215.05,628.22 224.32,628.98 233.59,626.86 242.85,625.36 252.12,625.05 261.38,624.6 270.65,624 279.92,624 289.18,623.09 298.45,622.49 307.71,621.74 316.98,620.38 326.25,618.87" fill="none" stroke="#EBA468" stroke-width="0.9" stroke-linejoin="round"/>
<line x1="39" y1="608.3" x2="39" y2="619.5" stroke="#2AAEDC" stroke-width="1" stroke-opacity="0.45"/>
<line x1="48.27" y1="611.31" x2="48.27" y2="622.51" stroke="#2AAEDC" stroke-width="1" stroke-opacity="0.45"/>
<line x1="57.53" y1="613.27" x2="57.53" y2="624.47" stroke="#2AAEDC" stroke-width="1" stroke-opacity="0.45"/>
<line x1="66.8" y1="615.08" x2="66.8" y2="626.28" stroke="#2AAEDC" stroke-width="1" stroke-opacity="0.45"/>
<line x1="76.06" y1="618.7" x2="76.06" y2="629.9" stroke="#2AAEDC" stroke-width="1" stroke-opacity="0.45"/>
<line x1="85.33" y1="621.26" x2="85.33" y2="632.46" stroke="#2AAEDC" stroke-width="1" stroke-opacity="0.45"/>
<line x1="94.6" y1="625.49" x2="94.6" y2="636.69" stroke="#2AAEDC" stroke-width="1" stroke-opacity="0.45"/>
<line x1="103.86" y1="628.05" x2="103.86" y2="639.25" stroke="#2AAEDC" stroke-width="1" stroke-opacity="0.45"/>
<line x1="113.13" y1="630.31" x2="113.13" y2="641.51" stroke="#2AAEDC" stroke-width="1" stroke-opacity="0.45"/>
<line x1="122.39" y1="631.52" x2="122.39" y2="642.72" stroke="#2AAEDC" stroke-width="1" stroke-opacity="0.45"/>
<line x1="131.66" y1="632.27" x2="131.66" y2="643.47" stroke="#2AAEDC" stroke-width="1" stroke-opacity="0.45"/>
<line x1="140.93" y1="631.67" x2="140.93" y2="642.87" stroke="#2AAEDC" stroke-width="1" stroke-opacity="0.45"/>
<line x1="150.19" y1="629.56" x2="150.19" y2="640.76" stroke="#2AAEDC" stroke-width="1" stroke-opacity="0.45"/>
<line x1="159.46" y1="628.05" x2="159.46" y2="639.25" stroke="#2AAEDC" stroke-width="1" stroke-opacity="0.45"/>
<line x1="168.72" y1="626.24" x2="168.72" y2="637.44" stroke="#2AAEDC" stroke-width="1" stroke-opacity="0.45"/>
<line x1="177.99" y1="622.62" x2="177.99" y2="633.82" stroke="#2AAEDC" stroke-width="1" stroke-opacity="0.45"/>
<line x1="187.26" y1="619" x2="187.26" y2="630.2" stroke="#2AAEDC" stroke-width="1" stroke-opacity="0.45"/>
<line x1="196.52" y1="613.72" x2="196.52" y2="624.92" stroke="#2AAEDC" stroke-width="1" stroke-opacity="0.45"/>
<line x1="205.79" y1="609.35" x2="205.79" y2="620.55" stroke="#2AAEDC" stroke-width="1" stroke-opacity="0.45"/>
<line x1="215.05" y1="606.49" x2="215.05" y2="617.69" stroke="#2AAEDC" stroke-width="1" stroke-opacity="0.45"/>
<line x1="224.32" y1="609.5" x2="224.32" y2="620.7" stroke="#2AAEDC" stroke-width="1" stroke-opacity="0.45"/>
<line x1="233.59" y1="619.76" x2="233.59" y2="630.96" stroke="#2AAEDC" stroke-width="1" stroke-opacity="0.45"/>
<line x1="242.85" y1="608.75" x2="242.85" y2="619.95" stroke="#2AAEDC" stroke-width="1" stroke-opacity="0.45"/>
<line x1="252.12" y1="601.21" x2="252.12" y2="612.41" stroke="#2AAEDC" stroke-width="1" stroke-opacity="0.45"/>
<line x1="261.38" y1="599.85" x2="261.38" y2="611.05" stroke="#2AAEDC" stroke-width="1" stroke-opacity="0.45"/>
<line x1="270.65" y1="598.19" x2="270.65" y2="609.39" stroke="#2AAEDC" stroke-width="1" stroke-opacity="0.45"/>
<line x1="279.92" y1="596.83" x2="279.92" y2="608.03" stroke="#2AAEDC" stroke-width="1" stroke-opacity="0.45"/>
<line x1="289.18" y1="595.48" x2="289.18" y2="606.68" stroke="#2AAEDC" stroke-width="1" stroke-opacity="0.45"/>
<line x1="298.45" y1="594.57" x2="298.45" y2="605.77" stroke="#2AAEDC" stroke-width="1" stroke-opacity="0.45"/>
<line x1="307.71" y1="593.52" x2="307.71" y2="604.72" stroke="#2AAEDC" stroke-width="1" stroke-opacity="0.45"/>
<line x1="316.98" y1="592.16" x2="316.98" y2="603.36" stroke="#2AAEDC" stroke-width="1" stroke-opacity="0.45"/>
<line x1="326.25" y1="589.9" x2="326.25" y2="601.1" stroke="#2AAEDC" stroke-width="1" stroke-opacity="0.45"/>
<circle cx="39" cy="613.9" r="2.0" fill="#2AAEDC" fill-opacity="0.6"/>
<circle cx="48.27" cy="616.91" r="2.0" fill="#2AAEDC" fill-opacity="0.6"/>
<circle cx="57.53" cy="618.87" r="2.0" fill="#2AAEDC" fill-opacity="0.6"/>
<circle cx="66.8" cy="620.68" r="2.0" fill="#2AAEDC" fill-opacity="0.6"/>
<circle cx="76.06" cy="624.3" r="2.0" fill="#2AAEDC" fill-opacity="0.6"/>
<circle cx="85.33" cy="626.86" r="2.0" fill="#2AAEDC" fill-opacity="0.6"/>
<circle cx="94.6" cy="631.09" r="2.0" fill="#2AAEDC" fill-opacity="0.6"/>
<circle cx="103.86" cy="633.65" r="2.0" fill="#2AAEDC" fill-opacity="0.6"/>
<circle cx="113.13" cy="635.91" r="2.0" fill="#2AAEDC" fill-opacity="0.6"/>
<circle cx="122.39" cy="637.12" r="2.0" fill="#2AAEDC" fill-opacity="0.6"/>
<circle cx="131.66" cy="637.87" r="2.0" fill="#2AAEDC" fill-opacity="0.6"/>
<circle cx="140.93" cy="637.27" r="2.0" fill="#2AAEDC" fill-opacity="0.6"/>
<circle cx="150.19" cy="635.16" r="2.0" fill="#2AAEDC" fill-opacity="0.6"/>
<circle cx="159.46" cy="633.65" r="2.0" fill="#2AAEDC" fill-opacity="0.6"/>
<circle cx="168.72" cy="631.84" r="2.0" fill="#2AAEDC" fill-opacity="0.6"/>
<circle cx="177.99" cy="628.22" r="2.0" fill="#2AAEDC" fill-opacity="0.6"/>
<circle cx="187.26" cy="624.6" r="2.0" fill="#2AAEDC" fill-opacity="0.6"/>
<circle cx="196.52" cy="619.32" r="2.0" fill="#2AAEDC" fill-opacity="0.6"/>
<circle cx="205.79" cy="614.95" r="2.0" fill="#2AAEDC" fill-opacity="0.6"/>
<circle cx="215.05" cy="612.09" r="2.0" fill="#2AAEDC" fill-opacity="0.6"/>
<circle cx="224.32" cy="615.1" r="2.0" fill="#2AAEDC" fill-opacity="0.6"/>
<circle cx="233.59" cy="625.36" r="2.0" fill="#2AAEDC" fill-opacity="0.6"/>
<circle cx="242.85" cy="614.35" r="2.0" fill="#2AAEDC" fill-opacity="0.6"/>
<circle cx="252.12" cy="606.81" r="2.0" fill="#2AAEDC" fill-opacity="0.6"/>
<circle cx="261.38" cy="605.45" r="2.0" fill="#2AAEDC" fill-opacity="0.6"/>
<circle cx="270.65" cy="603.79" r="2.0" fill="#2AAEDC" fill-opacity="0.6"/>
<circle cx="279.92" cy="602.43" r="2.0" fill="#2AAEDC" fill-opacity="0.6"/>
<circle cx="289.18" cy="601.08" r="2.0" fill="#2AAEDC" fill-opacity="0.6"/>
<circle cx="298.45" cy="600.17" r="2.0" fill="#2AAEDC" fill-opacity="0.6"/>
<circle cx="307.71" cy="599.12" r="2.0" fill="#2AAEDC" fill-opacity="0.6"/>
<circle cx="316.98" cy="597.76" r="2.0" fill="#2AAEDC" fill-opacity="0.6"/>
<circle cx="326.25" cy="595.5" r="2.0" fill="#2AAEDC" fill-opacity="0.6"/>
<polyline points="39,613.9 48.27,616.91 57.53,618.87 66.8,620.68 76.06,624.3 85.33,626.86 94.6,631.09 103.86,633.65 113.13,635.91 122.39,637.12 131.66,637.87 140.93,637.27 150.19,635.16 159.46,633.65 168.72,631.84 177.99,628.22 187.26,624.6 196.52,619.32 205.79,614.95 215.05,612.09 224.32,615.1 233.59,625.36 242.85,614.35 252.12,606.81 261.38,605.45 270.65,603.79 279.92,602.43 289.18,601.08 298.45,600.17 307.71,599.12 316.98,597.76 326.25,595.5" fill="none" stroke="#2AAEDC" stroke-width="0.9" stroke-linejoin="round"/>
<line x1="39" y1="539.31" x2="39" y2="544.31" stroke="#C65A5E" stroke-width="1" stroke-opacity="0.45"/>
<line x1="48.27" y1="540.07" x2="48.27" y2="545.07" stroke="#C65A5E" stroke-width="1" stroke-opacity="0.45"/>
<line x1="57.53" y1="540.97" x2="57.53" y2="545.97" stroke="#C65A5E" stroke-width="1" stroke-opacity="0.45"/>
<line x1="66.8" y1="540.97" x2="66.8" y2="545.97" stroke="#C65A5E" stroke-width="1" stroke-opacity="0.45"/>
<line x1="76.06" y1="542.18" x2="76.06" y2="547.18" stroke="#C65A5E" stroke-width="1" stroke-opacity="0.45"/>
<line x1="85.33" y1="544.74" x2="85.33" y2="549.74" stroke="#C65A5E" stroke-width="1" stroke-opacity="0.45"/>
<line x1="94.6" y1="547.15" x2="94.6" y2="552.15" stroke="#C65A5E" stroke-width="1" stroke-opacity="0.45"/>
<line x1="103.86" y1="548.66" x2="103.86" y2="553.66" stroke="#C65A5E" stroke-width="1" stroke-opacity="0.45"/>
<line x1="113.13" y1="550.92" x2="113.13" y2="555.92" stroke="#C65A5E" stroke-width="1" stroke-opacity="0.45"/>
<line x1="122.39" y1="552.43" x2="122.39" y2="557.43" stroke="#C65A5E" stroke-width="1" stroke-opacity="0.45"/>
<line x1="131.66" y1="555.15" x2="131.66" y2="560.15" stroke="#C65A5E" stroke-width="1" stroke-opacity="0.45"/>
<line x1="140.93" y1="556.2" x2="140.93" y2="561.2" stroke="#C65A5E" stroke-width="1" stroke-opacity="0.45"/>
<line x1="150.19" y1="557.26" x2="150.19" y2="562.26" stroke="#C65A5E" stroke-width="1" stroke-opacity="0.45"/>
<line x1="159.46" y1="557.86" x2="159.46" y2="562.86" stroke="#C65A5E" stroke-width="1" stroke-opacity="0.45"/>
<line x1="168.72" y1="560.12" x2="168.72" y2="565.12" stroke="#C65A5E" stroke-width="1" stroke-opacity="0.45"/>
<line x1="177.99" y1="561.03" x2="177.99" y2="566.03" stroke="#C65A5E" stroke-width="1" stroke-opacity="0.45"/>
<line x1="187.26" y1="562.69" x2="187.26" y2="567.69" stroke="#C65A5E" stroke-width="1" stroke-opacity="0.45"/>
<line x1="196.52" y1="563.74" x2="196.52" y2="568.74" stroke="#C65A5E" stroke-width="1" stroke-opacity="0.45"/>
<line x1="205.79" y1="565.25" x2="205.79" y2="570.25" stroke="#C65A5E" stroke-width="1" stroke-opacity="0.45"/>
<line x1="215.05" y1="566.91" x2="215.05" y2="571.91" stroke="#C65A5E" stroke-width="1" stroke-opacity="0.45"/>
<line x1="224.32" y1="568.57" x2="224.32" y2="573.57" stroke="#C65A5E" stroke-width="1" stroke-opacity="0.45"/>
<line x1="233.59" y1="570.83" x2="233.59" y2="575.83" stroke="#C65A5E" stroke-width="1" stroke-opacity="0.45"/>
<line x1="242.85" y1="572.19" x2="242.85" y2="577.19" stroke="#C65A5E" stroke-width="1" stroke-opacity="0.45"/>
<line x1="252.12" y1="573.09" x2="252.12" y2="578.09" stroke="#C65A5E" stroke-width="1" stroke-opacity="0.45"/>
<line x1="261.38" y1="573.85" x2="261.38" y2="578.85" stroke="#C65A5E" stroke-width="1" stroke-opacity="0.45"/>
<line x1="270.65" y1="574.9" x2="270.65" y2="579.9" stroke="#C65A5E" stroke-width="1" stroke-opacity="0.45"/>
<line x1="279.92" y1="575.2" x2="279.92" y2="580.2" stroke="#C65A5E" stroke-width="1" stroke-opacity="0.45"/>
<line x1="289.18" y1="575.81" x2="289.18" y2="580.81" stroke="#C65A5E" stroke-width="1" stroke-opacity="0.45"/>
<line x1="298.45" y1="576.86" x2="298.45" y2="581.86" stroke="#C65A5E" stroke-width="1" stroke-opacity="0.45"/>
<line x1="307.71" y1="578.52" x2="307.71" y2="583.52" stroke="#C65A5E" stroke-width="1" stroke-opacity="0.45"/>
<line x1="316.98" y1="580.78" x2="316.98" y2="585.78" stroke="#C65A5E" stroke-width="1" stroke-opacity="0.45"/>
<line x1="326.25" y1="581.08" x2="326.25" y2="586.08" stroke="#C65A5E" stroke-width="1" stroke-opacity="0.45"/>
<circle cx="39" cy="541.81" r="2.0" fill="#C65A5E" fill-opacity="0.6"/>
<circle cx="48.27" cy="542.57" r="2.0" fill="#C65A5E" fill-opacity="0.6"/>
<circle cx="57.53" cy="543.47" r="2.0" fill="#C65A5E" fill-opacity="0.6"/>
<circle cx="66.8" cy="543.47" r="2.0" fill="#C65A5E" fill-opacity="0.6"/>
<circle cx="76.06" cy="544.68" r="2.0" fill="#C65A5E" fill-opacity="0.6"/>
<circle cx="85.33" cy="547.24" r="2.0" fill="#C65A5E" fill-opacity="0.6"/>
<circle cx="94.6" cy="549.65" r="2.0" fill="#C65A5E" fill-opacity="0.6"/>
<circle cx="103.86" cy="551.16" r="2.0" fill="#C65A5E" fill-opacity="0.6"/>
<circle cx="113.13" cy="553.42" r="2.0" fill="#C65A5E" fill-opacity="0.6"/>
<circle cx="122.39" cy="554.93" r="2.0" fill="#C65A5E" fill-opacity="0.6"/>
<circle cx="131.66" cy="557.65" r="2.0" fill="#C65A5E" fill-opacity="0.6"/>
<circle cx="140.93" cy="558.7" r="2.0" fill="#C65A5E" fill-opacity="0.6"/>
<circle cx="150.19" cy="559.76" r="2.0" fill="#C65A5E" fill-opacity="0.6"/>
<circle cx="159.46" cy="560.36" r="2.0" fill="#C65A5E" fill-opacity="0.6"/>
<circle cx="168.72" cy="562.62" r="2.0" fill="#C65A5E" fill-opacity="0.6"/>
<circle cx="177.99" cy="563.53" r="2.0" fill="#C65A5E" fill-opacity="0.6"/>
<circle cx="187.26" cy="565.19" r="2.0" fill="#C65A5E" fill-opacity="0.6"/>
<circle cx="196.52" cy="566.24" r="2.0" fill="#C65A5E" fill-opacity="0.6"/>
<circle cx="205.79" cy="567.75" r="2.0" fill="#C65A5E" fill-opacity="0.6"/>
<circle cx="215.05" cy="569.41" r="2.0" fill="#C65A5E" fill-opacity="0.6"/>
<circle cx="224.32" cy="571.07" r="2.0" fill="#C65A5E" fill-opacity="0.6"/>
<circle cx="233.59" cy="573.33" r="2.0" fill="#C65A5E" fill-opacity="0.6"/>
<circle cx="242.85" cy="574.69" r="2.0" fill="#C65A5E" fill-opacity="0.6"/>
<circle cx="252.12" cy="575.59" r="2.0" fill="#C65A5E" fill-opacity="0.6"/>
<circle cx="261.38" cy="576.35" r="2.0" fill="#C65A5E" fill-opacity="0.6"/>
<circle cx="270.65" cy="577.4" r="2.0" fill="#C65A5E" fill-opacity="0.6"/>
<circle cx="279.92" cy="577.7" r="2.0" fill="#C65A5E" fill-opacity="0.6"/>
<circle cx="289.18" cy="578.31" r="2.0" fill="#C65A5E" fill-opacity="0.6"/>
<circle cx="298.45" cy="579.36" r="2.0" fill="#C65A5E" fill-opacity="0.6"/>
<circle cx="307.71" cy="581.02" r="2.0" fill="#C65A5E" fill-opacity="0.6"/>
<circle cx="316.98" cy="583.28" r="2.0" fill="#C65A5E" fill-opacity="0.6"/>
<circle cx="326.25" cy="583.58" r="2.0" fill="#C65A5E" fill-opacity="0.6"/>
<polyline points="39,541.81 48.27,542.57 57.53,543.47 66.8,543.47 76.06,544.68 85.33,547.24 94.6,549.65 103.86,551.16 113.13,553.42 122.39,554.93 131.66,557.65 140.93,558.7 150.19,559.76 159.46,560.36 168.72,562.62 177.99,563.53 187.26,565.19 196.52,566.24 205.79,567.75 215.05,569.41 224.32,571.07 233.59,573.33 242.85,574.69 252.12,575.59 261.38,576.35 270.65,577.4 279.92,577.7 289.18,578.31 298.45,579.36 307.71,581.02 316.98,583.28 326.25,583.58" fill="none" stroke="#C65A5E" stroke-width="0.9" stroke-linejoin="round"/>
<line x1="39" y1="686.56" x2="39" y2="697.76" stroke="#58707A" stroke-width="1" stroke-opacity="0.45"/>
<line x1="48.27" y1="688.82" x2="48.27" y2="700.02" stroke="#58707A" stroke-width="1" stroke-opacity="0.45"/>
<line x1="57.53" y1="691.24" x2="57.53" y2="702.44" stroke="#58707A" stroke-width="1" stroke-opacity="0.45"/>
<line x1="66.8" y1="691.99" x2="66.8" y2="703.19" stroke="#58707A" stroke-width="1" stroke-opacity="0.45"/>
<line x1="76.06" y1="695.31" x2="76.06" y2="706.51" stroke="#58707A" stroke-width="1" stroke-opacity="0.45"/>
<line x1="85.33" y1="699.23" x2="85.33" y2="710.43" stroke="#58707A" stroke-width="1" stroke-opacity="0.45"/>
<line x1="94.6" y1="703" x2="94.6" y2="714.2" stroke="#58707A" stroke-width="1" stroke-opacity="0.45"/>
<line x1="103.86" y1="705.26" x2="103.86" y2="716.46" stroke="#58707A" stroke-width="1" stroke-opacity="0.45"/>
<line x1="113.13" y1="707.97" x2="113.13" y2="719.17" stroke="#58707A" stroke-width="1" stroke-opacity="0.45"/>
<line x1="122.39" y1="708.43" x2="122.39" y2="719.63" stroke="#58707A" stroke-width="1" stroke-opacity="0.45"/>
<line x1="131.66" y1="710.24" x2="131.66" y2="721.44" stroke="#58707A" stroke-width="1" stroke-opacity="0.45"/>
<line x1="140.93" y1="708.73" x2="140.93" y2="719.93" stroke="#58707A" stroke-width="1" stroke-opacity="0.45"/>
<line x1="150.19" y1="707.07" x2="150.19" y2="718.27" stroke="#58707A" stroke-width="1" stroke-opacity="0.45"/>
<line x1="159.46" y1="705.11" x2="159.46" y2="716.31" stroke="#58707A" stroke-width="1" stroke-opacity="0.45"/>
<line x1="168.72" y1="703.75" x2="168.72" y2="714.95" stroke="#58707A" stroke-width="1" stroke-opacity="0.45"/>
<line x1="177.99" y1="700.43" x2="177.99" y2="711.63" stroke="#58707A" stroke-width="1" stroke-opacity="0.45"/>
<line x1="187.26" y1="696.82" x2="187.26" y2="708.02" stroke="#58707A" stroke-width="1" stroke-opacity="0.45"/>
<line x1="196.52" y1="691.39" x2="196.52" y2="702.59" stroke="#58707A" stroke-width="1" stroke-opacity="0.45"/>
<line x1="205.79" y1="685.66" x2="205.79" y2="696.86" stroke="#58707A" stroke-width="1" stroke-opacity="0.45"/>
<line x1="215.05" y1="683.85" x2="215.05" y2="695.05" stroke="#58707A" stroke-width="1" stroke-opacity="0.45"/>
<line x1="224.32" y1="689.12" x2="224.32" y2="700.32" stroke="#58707A" stroke-width="1" stroke-opacity="0.45"/>
<line x1="233.59" y1="698.17" x2="233.59" y2="709.37" stroke="#58707A" stroke-width="1" stroke-opacity="0.45"/>
<line x1="242.85" y1="686.56" x2="242.85" y2="697.76" stroke="#58707A" stroke-width="1" stroke-opacity="0.45"/>
<line x1="252.12" y1="678.87" x2="252.12" y2="690.07" stroke="#58707A" stroke-width="1" stroke-opacity="0.45"/>
<line x1="261.38" y1="677.36" x2="261.38" y2="688.56" stroke="#58707A" stroke-width="1" stroke-opacity="0.45"/>
<line x1="270.65" y1="676.61" x2="270.65" y2="687.81" stroke="#58707A" stroke-width="1" stroke-opacity="0.45"/>
<line x1="279.92" y1="674.04" x2="279.92" y2="685.24" stroke="#58707A" stroke-width="1" stroke-opacity="0.45"/>
<line x1="289.18" y1="673.14" x2="289.18" y2="684.34" stroke="#58707A" stroke-width="1" stroke-opacity="0.45"/>
<line x1="298.45" y1="672.08" x2="298.45" y2="683.28" stroke="#58707A" stroke-width="1" stroke-opacity="0.45"/>
<line x1="307.71" y1="671.03" x2="307.71" y2="682.23" stroke="#58707A" stroke-width="1" stroke-opacity="0.45"/>
<line x1="316.98" y1="669.82" x2="316.98" y2="681.02" stroke="#58707A" stroke-width="1" stroke-opacity="0.45"/>
<line x1="326.25" y1="667.11" x2="326.25" y2="678.31" stroke="#58707A" stroke-width="1" stroke-opacity="0.45"/>
<circle cx="39" cy="692.16" r="2.0" fill="#58707A" fill-opacity="0.6"/>
<circle cx="48.27" cy="694.42" r="2.0" fill="#58707A" fill-opacity="0.6"/>
<circle cx="57.53" cy="696.84" r="2.0" fill="#58707A" fill-opacity="0.6"/>
<circle cx="66.8" cy="697.59" r="2.0" fill="#58707A" fill-opacity="0.6"/>
<circle cx="76.06" cy="700.91" r="2.0" fill="#58707A" fill-opacity="0.6"/>
<circle cx="85.33" cy="704.83" r="2.0" fill="#58707A" fill-opacity="0.6"/>
<circle cx="94.6" cy="708.6" r="2.0" fill="#58707A" fill-opacity="0.6"/>
<circle cx="103.86" cy="710.86" r="2.0" fill="#58707A" fill-opacity="0.6"/>
<circle cx="113.13" cy="713.57" r="2.0" fill="#58707A" fill-opacity="0.6"/>
<circle cx="122.39" cy="714.03" r="2.0" fill="#58707A" fill-opacity="0.6"/>
<circle cx="131.66" cy="715.84" r="2.0" fill="#58707A" fill-opacity="0.6"/>
<circle cx="140.93" cy="714.33" r="2.0" fill="#58707A" fill-opacity="0.6"/>
<circle cx="150.19" cy="712.67" r="2.0" fill="#58707A" fill-opacity="0.6"/>
<circle cx="159.46" cy="710.71" r="2.0" fill="#58707A" fill-opacity="0.6"/>
<circle cx="168.72" cy="709.35" r="2.0" fill="#58707A" fill-opacity="0.6"/>
<circle cx="177.99" cy="706.03" r="2.0" fill="#58707A" fill-opacity="0.6"/>
<circle cx="187.26" cy="702.42" r="2.0" fill="#58707A" fill-opacity="0.6"/>
<circle cx="196.52" cy="696.99" r="2.0" fill="#58707A" fill-opacity="0.6"/>
<circle cx="205.79" cy="691.26" r="2.0" fill="#58707A" fill-opacity="0.6"/>
<circle cx="215.05" cy="689.45" r="2.0" fill="#58707A" fill-opacity="0.6"/>
<circle cx="224.32" cy="694.72" r="2.0" fill="#58707A" fill-opacity="0.6"/>
<circle cx="233.59" cy="703.77" r="2.0" fill="#58707A" fill-opacity="0.6"/>
<circle cx="242.85" cy="692.16" r="2.0" fill="#58707A" fill-opacity="0.6"/>
<circle cx="252.12" cy="684.47" r="2.0" fill="#58707A" fill-opacity="0.6"/>
<circle cx="261.38" cy="682.96" r="2.0" fill="#58707A" fill-opacity="0.6"/>
<circle cx="270.65" cy="682.21" r="2.0" fill="#58707A" fill-opacity="0.6"/>
<circle cx="279.92" cy="679.64" r="2.0" fill="#58707A" fill-opacity="0.6"/>
<circle cx="289.18" cy="678.74" r="2.0" fill="#58707A" fill-opacity="0.6"/>
<circle cx="298.45" cy="677.68" r="2.0" fill="#58707A" fill-opacity="0.6"/>
<circle cx="307.71" cy="676.63" r="2.0" fill="#58707A" fill-opacity="0.6"/>
<circle cx="316.98" cy="675.42" r="2.0" fill="#58707A" fill-opacity="0.6"/>
<circle cx="326.25" cy="672.71" r="2.0" fill="#58707A" fill-opacity="0.6"/>
<polyline points="39,692.16 48.27,694.42 57.53,696.84 66.8,697.59 76.06,700.91 85.33,704.83 94.6,708.6 103.86,710.86 113.13,713.57 122.39,714.03 131.66,715.84 140.93,714.33 150.19,712.67 159.46,710.71 168.72,709.35 177.99,706.03 187.26,702.42 196.52,696.99 205.79,691.26 215.05,689.45 224.32,694.72 233.59,703.77 242.85,692.16 252.12,684.47 261.38,682.96 270.65,682.21 279.92,679.64 289.18,678.74 298.45,677.68 307.71,676.63 316.98,675.42 326.25,672.71" fill="none" stroke="#58707A" stroke-width="0.9" stroke-linejoin="round"/>
<line x1="24.5" y1="528.6" x2="24.5" y2="731.4" stroke="#3a3a3a" stroke-width="1"/>
<line x1="24" y1="730.9" x2="341" y2="730.9" stroke="#3a3a3a" stroke-width="1"/>
<line x1="22.3" y1="529.9" x2="24.5" y2="529.9" stroke="#333333" stroke-width="0.7"/>
<text x="21.5" y="531.8" font-size="5.28" text-anchor="end" fill="#5e5e5e">0</text>
<line x1="22.3" y1="567.6" x2="24.5" y2="567.6" stroke="#333333" stroke-width="0.7"/>
<text x="21.5" y="569.5" font-size="5.28" text-anchor="end" fill="#5e5e5e">−25</text>
<line x1="22.3" y1="605.3" x2="24.5" y2="605.3" stroke="#333333" stroke-width="0.7"/>
<text x="21.5" y="607.2" font-size="5.28" text-anchor="end" fill="#5e5e5e">−50</text>
<line x1="22.3" y1="643" x2="24.5" y2="643" stroke="#333333" stroke-width="0.7"/>
<text x="21.5" y="644.9" font-size="5.28" text-anchor="end" fill="#5e5e5e">−75</text>
<line x1="22.3" y1="680.7" x2="24.5" y2="680.7" stroke="#333333" stroke-width="0.7"/>
<text x="21.5" y="682.6" font-size="5.28" text-anchor="end" fill="#5e5e5e">−100</text>
<line x1="22.3" y1="718.4" x2="24.5" y2="718.4" stroke="#333333" stroke-width="0.7"/>
<text x="21.5" y="720.3" font-size="5.28" text-anchor="end" fill="#5e5e5e">−125</text>
<line x1="39" y1="730.9" x2="39" y2="733.1" stroke="#333333" stroke-width="0.7"/>
<text x="39" y="737.9" font-size="5.28" text-anchor="middle" fill="#5e5e5e">1990</text>
<line x1="131.66" y1="730.9" x2="131.66" y2="733.1" stroke="#333333" stroke-width="0.7"/>
<text x="131.66" y="737.9" font-size="5.28" text-anchor="middle" fill="#5e5e5e">2000</text>
<line x1="224.32" y1="730.9" x2="224.32" y2="733.1" stroke="#333333" stroke-width="0.7"/>
<text x="224.32" y="737.9" font-size="5.28" text-anchor="middle" fill="#5e5e5e">2010</text>
<line x1="316.98" y1="730.9" x2="316.98" y2="733.1" stroke="#333333" stroke-width="0.7"/>
<text x="316.98" y="737.9" font-size="5.28" text-anchor="middle" fill="#5e5e5e">2020</text>
<text x="24.3" y="524.71" font-size="7.8" text-anchor="start" fill="#000">e. Socioeconomic inequality in ASM by risk factors,1990−2021</text>
<text x="182.4" y="745.98" font-size="6.6" text-anchor="middle" fill="#000">Year</text>
<text x="5.7" y="632.78" font-size="6.6" text-anchor="middle" fill="#000" transform="rotate(-90 5.7 630.4)">Beta (1/100,000)</text>
<text x="42" y="764.78" font-size="6.6" text-anchor="start" fill="#000">Risk factors</text>
<line x1="78.9" y1="762.2" x2="87.9" y2="762.2" stroke="#58707A" stroke-width="0.9"/>
<line x1="83.4" y1="757.7" x2="83.4" y2="766.7" stroke="#58707A" stroke-width="0.8" stroke-opacity="0.6"/>
<circle cx="83.4" cy="762.2" r="1.9" fill="#58707A" fill-opacity="0.55"/>
<text x="91.8" y="764.33" font-size="5.36" text-anchor="start" fill="#000">All risk factors</text>
<line x1="128.6" y1="762.2" x2="137.6" y2="762.2" stroke="#EBA468" stroke-width="0.9"/>
<line x1="133.1" y1="757.7" x2="133.1" y2="766.7" stroke="#EBA468" stroke-width="0.8" stroke-opacity="0.6"/>
<circle cx="133.1" cy="762.2" r="1.9" fill="#EBA468" fill-opacity="0.55"/>
<text x="141.5" y="764.33" font-size="5.36" text-anchor="start" fill="#000">Environmental/occupational risks</text>
<line x1="222.6" y1="762.2" x2="231.6" y2="762.2" stroke="#2AAEDC" stroke-width="0.9"/>
<line x1="227.1" y1="757.7" x2="227.1" y2="766.7" stroke="#2AAEDC" stroke-width="0.8" stroke-opacity="0.6"/>
<circle cx="227.1" cy="762.2" r="1.9" fill="#2AAEDC" fill-opacity="0.55"/>
<text x="235.5" y="764.33" font-size="5.36" text-anchor="start" fill="#000">Behavioral risks</text>
<line x1="275.9" y1="762.2" x2="284.9" y2="762.2" stroke="#C65A5E" stroke-width="0.9"/>
<line x1="280.4" y1="757.7" x2="280.4" y2="766.7" stroke="#C65A5E" stroke-width="0.8" stroke-opacity="0.6"/>
<circle cx="280.4" cy="762.2" r="1.9" fill="#C65A5E" fill-opacity="0.55"/>
<text x="288.8" y="764.33" font-size="5.36" text-anchor="start" fill="#000">Metabolic risks</text>
<rect x="378.08" y="558.56" width="2.06" height="163.14" fill="#5A6E76"/>
<rect x="380.14" y="596.5" width="2.06" height="125.2" fill="#E8A569"/>
<rect x="382.2" y="636.84" width="2.06" height="84.86" fill="#2AAFDC"/>
<rect x="384.26" y="710.05" width="2.06" height="11.65" fill="#C86464"/>
<rect x="387.24" y="557.36" width="2.06" height="164.34" fill="#5A6E76"/>
<rect x="389.3" y="599.19" width="2.06" height="122.51" fill="#E8A569"/>
<rect x="391.36" y="634.75" width="2.06" height="86.95" fill="#2AAFDC"/>
<rect x="393.42" y="708.85" width="2.06" height="12.85" fill="#C86464"/>
<rect x="396.39" y="554.97" width="2.06" height="166.73" fill="#5A6E76"/>
<rect x="398.45" y="600.09" width="2.06" height="121.61" fill="#E8A569"/>
<rect x="400.51" y="632.06" width="2.06" height="89.64" fill="#2AAFDC"/>
<rect x="402.57" y="708.25" width="2.06" height="13.45" fill="#C86464"/>
<rect x="405.55" y="553.77" width="2.06" height="167.93" fill="#5A6E76"/>
<rect x="407.61" y="602.18" width="2.06" height="119.52" fill="#E8A569"/>
<rect x="409.67" y="630.57" width="2.06" height="91.13" fill="#2AAFDC"/>
<rect x="411.73" y="707.96" width="2.06" height="13.74" fill="#C86464"/>
<rect x="414.71" y="571.7" width="2.06" height="150" fill="#5A6E76"/>
<rect x="416.77" y="617.12" width="2.06" height="104.58" fill="#E8A569"/>
<rect x="418.83" y="638.93" width="2.06" height="82.77" fill="#2AAFDC"/>
<rect x="420.89" y="708.25" width="2.06" height="13.45" fill="#C86464"/>
<rect x="423.87" y="552.58" width="2.06" height="169.12" fill="#5A6E76"/>
<rect x="425.93" y="607.56" width="2.06" height="114.14" fill="#E8A569"/>
<rect x="427.99" y="626.98" width="2.06" height="94.72" fill="#2AAFDC"/>
<rect x="430.05" y="704.97" width="2.06" height="16.73" fill="#C86464"/>
<rect x="433.02" y="551.38" width="2.06" height="170.32" fill="#5A6E76"/>
<rect x="435.08" y="611.14" width="2.06" height="110.56" fill="#E8A569"/>
<rect x="437.14" y="625.19" width="2.06" height="96.51" fill="#2AAFDC"/>
<rect x="439.2" y="702.28" width="2.06" height="19.42" fill="#C86464"/>
<rect x="442.18" y="550.79" width="2.06" height="170.91" fill="#5A6E76"/>
<rect x="444.24" y="613.53" width="2.06" height="108.17" fill="#E8A569"/>
<rect x="446.3" y="623.39" width="2.06" height="98.31" fill="#2AAFDC"/>
<rect x="448.36" y="701.08" width="2.06" height="20.62" fill="#C86464"/>
<rect x="451.34" y="550.79" width="2.06" height="170.91" fill="#5A6E76"/>
<rect x="453.4" y="615.63" width="2.06" height="106.07" fill="#E8A569"/>
<rect x="455.46" y="622.8" width="2.06" height="98.9" fill="#2AAFDC"/>
<rect x="457.52" y="699.59" width="2.06" height="22.11" fill="#C86464"/>
<rect x="460.49" y="549.59" width="2.06" height="172.11" fill="#5A6E76"/>
<rect x="462.55" y="616.82" width="2.06" height="104.88" fill="#E8A569"/>
<rect x="464.61" y="621" width="2.06" height="100.7" fill="#2AAFDC"/>
<rect x="466.67" y="698.09" width="2.06" height="23.61" fill="#C86464"/>
<rect x="469.65" y="547.2" width="2.06" height="174.5" fill="#5A6E76"/>
<rect x="471.71" y="617.72" width="2.06" height="103.98" fill="#E8A569"/>
<rect x="473.77" y="619.81" width="2.06" height="101.89" fill="#2AAFDC"/>
<rect x="475.83" y="695.7" width="2.06" height="26" fill="#C86464"/>
<rect x="478.81" y="546.01" width="2.06" height="175.69" fill="#5A6E76"/>
<rect x="480.87" y="618.02" width="2.06" height="103.68" fill="#E8A569"/>
<rect x="482.93" y="618.91" width="2.06" height="102.79" fill="#2AAFDC"/>
<rect x="484.99" y="694.21" width="2.06" height="27.49" fill="#C86464"/>
<rect x="487.96" y="545.71" width="2.06" height="175.99" fill="#5A6E76"/>
<rect x="490.02" y="618.32" width="2.06" height="103.38" fill="#E8A569"/>
<rect x="492.08" y="619.21" width="2.06" height="102.49" fill="#2AAFDC"/>
<rect x="494.14" y="693.02" width="2.06" height="28.68" fill="#C86464"/>
<rect x="497.12" y="546.01" width="2.06" height="175.69" fill="#5A6E76"/>
<rect x="499.18" y="618.91" width="2.06" height="102.79" fill="#E8A569"/>
<rect x="501.24" y="620.11" width="2.06" height="101.59" fill="#2AAFDC"/>
<rect x="503.3" y="691.82" width="2.06" height="29.88" fill="#C86464"/>
<rect x="506.28" y="545.11" width="2.06" height="176.59" fill="#5A6E76"/>
<rect x="508.34" y="618.61" width="2.06" height="103.09" fill="#E8A569"/>
<rect x="510.4" y="621.3" width="2.06" height="100.4" fill="#2AAFDC"/>
<rect x="512.46" y="689.13" width="2.06" height="32.57" fill="#C86464"/>
<rect x="515.43" y="545.41" width="2.06" height="176.29" fill="#5A6E76"/>
<rect x="517.49" y="618.02" width="2.06" height="103.68" fill="#E8A569"/>
<rect x="519.55" y="622.5" width="2.06" height="99.2" fill="#2AAFDC"/>
<rect x="521.61" y="687.64" width="2.06" height="34.06" fill="#C86464"/>
<rect x="524.59" y="545.11" width="2.06" height="176.59" fill="#5A6E76"/>
<rect x="526.65" y="616.82" width="2.06" height="104.88" fill="#E8A569"/>
<rect x="528.71" y="624.29" width="2.06" height="97.41" fill="#2AAFDC"/>
<rect x="530.77" y="685.25" width="2.06" height="36.45" fill="#C86464"/>
<rect x="533.75" y="546.01" width="2.06" height="175.69" fill="#5A6E76"/>
<rect x="535.81" y="615.63" width="2.06" height="106.07" fill="#E8A569"/>
<rect x="537.87" y="627.28" width="2.06" height="94.42" fill="#2AAFDC"/>
<rect x="539.93" y="683.15" width="2.06" height="38.55" fill="#C86464"/>
<rect x="542.91" y="546.9" width="2.06" height="174.8" fill="#5A6E76"/>
<rect x="544.97" y="614.73" width="2.06" height="106.97" fill="#E8A569"/>
<rect x="547.03" y="630.27" width="2.06" height="91.43" fill="#2AAFDC"/>
<rect x="549.09" y="681.06" width="2.06" height="40.64" fill="#C86464"/>
<rect x="552.06" y="546.9" width="2.06" height="174.8" fill="#5A6E76"/>
<rect x="554.12" y="613.83" width="2.06" height="107.87" fill="#E8A569"/>
<rect x="556.18" y="630.86" width="2.06" height="90.84" fill="#2AAFDC"/>
<rect x="558.24" y="678.37" width="2.06" height="43.33" fill="#C86464"/>
<rect x="561.22" y="547.8" width="2.06" height="173.9" fill="#5A6E76"/>
<rect x="563.28" y="616.82" width="2.06" height="104.88" fill="#E8A569"/>
<rect x="565.34" y="631.46" width="2.06" height="90.24" fill="#2AAFDC"/>
<rect x="567.4" y="678.37" width="2.06" height="43.33" fill="#C86464"/>
<rect x="570.38" y="538.54" width="2.06" height="183.16" fill="#5A6E76"/>
<rect x="572.44" y="619.51" width="2.06" height="102.19" fill="#E8A569"/>
<rect x="574.5" y="620.71" width="2.06" height="100.99" fill="#2AAFDC"/>
<rect x="576.56" y="676.28" width="2.06" height="45.42" fill="#C86464"/>
<rect x="579.53" y="542.42" width="2.06" height="179.28" fill="#5A6E76"/>
<rect x="581.59" y="615.92" width="2.06" height="105.78" fill="#E8A569"/>
<rect x="583.65" y="628.18" width="2.06" height="93.52" fill="#2AAFDC"/>
<rect x="585.71" y="672.1" width="2.06" height="49.6" fill="#C86464"/>
<rect x="588.69" y="545.41" width="2.06" height="176.29" fill="#5A6E76"/>
<rect x="590.75" y="612.64" width="2.06" height="109.06" fill="#E8A569"/>
<rect x="592.81" y="634.15" width="2.06" height="87.55" fill="#2AAFDC"/>
<rect x="594.87" y="669.41" width="2.06" height="52.29" fill="#C86464"/>
<rect x="597.85" y="546.9" width="2.06" height="174.8" fill="#5A6E76"/>
<rect x="599.91" y="613.83" width="2.06" height="107.87" fill="#E8A569"/>
<rect x="601.97" y="635.94" width="2.06" height="85.76" fill="#2AAFDC"/>
<rect x="604.03" y="667.92" width="2.06" height="53.78" fill="#C86464"/>
<rect x="607" y="545.41" width="2.06" height="176.29" fill="#5A6E76"/>
<rect x="609.06" y="611.74" width="2.06" height="109.96" fill="#E8A569"/>
<rect x="611.12" y="635.35" width="2.06" height="86.35" fill="#2AAFDC"/>
<rect x="613.18" y="666.12" width="2.06" height="55.58" fill="#C86464"/>
<rect x="616.16" y="544.81" width="2.06" height="176.89" fill="#5A6E76"/>
<rect x="618.22" y="610.85" width="2.06" height="110.85" fill="#E8A569"/>
<rect x="620.28" y="636.24" width="2.06" height="85.46" fill="#2AAFDC"/>
<rect x="622.34" y="664.93" width="2.06" height="56.77" fill="#C86464"/>
<rect x="625.32" y="544.51" width="2.06" height="177.19" fill="#5A6E76"/>
<rect x="627.38" y="610.85" width="2.06" height="110.85" fill="#E8A569"/>
<rect x="629.44" y="637.14" width="2.06" height="84.56" fill="#2AAFDC"/>
<rect x="631.5" y="662.84" width="2.06" height="58.86" fill="#C86464"/>
<rect x="634.48" y="545.11" width="2.06" height="176.59" fill="#5A6E76"/>
<rect x="636.54" y="610.85" width="2.06" height="110.85" fill="#E8A569"/>
<rect x="638.6" y="638.04" width="2.06" height="83.66" fill="#2AAFDC"/>
<rect x="640.66" y="661.34" width="2.06" height="60.36" fill="#C86464"/>
<rect x="643.63" y="543.91" width="2.06" height="177.79" fill="#5A6E76"/>
<rect x="645.69" y="610.25" width="2.06" height="111.45" fill="#E8A569"/>
<rect x="647.75" y="638.04" width="2.06" height="83.66" fill="#2AAFDC"/>
<rect x="649.81" y="659.25" width="2.06" height="62.45" fill="#C86464"/>
<rect x="652.79" y="577.08" width="2.06" height="144.62" fill="#5A6E76"/>
<rect x="654.85" y="632.06" width="2.06" height="89.64" fill="#E8A569"/>
<rect x="656.91" y="655.07" width="2.06" height="66.63" fill="#2AAFDC"/>
<rect x="658.97" y="668.81" width="2.06" height="52.89" fill="#C86464"/>
<rect x="661.95" y="595.61" width="2.06" height="126.09" fill="#5A6E76"/>
<rect x="664.01" y="643.12" width="2.06" height="78.58" fill="#E8A569"/>
<rect x="666.07" y="663.43" width="2.06" height="58.27" fill="#2AAFDC"/>
<rect x="668.13" y="673.89" width="2.06" height="47.81" fill="#C86464"/>
<line x1="377.2" y1="661.94" x2="671.07" y2="661.94" stroke="#ffffff" stroke-width="0.5" stroke-opacity="0.15"/>
<line x1="377.2" y1="602.18" x2="671.07" y2="602.18" stroke="#ffffff" stroke-width="0.5" stroke-opacity="0.15"/>
<line x1="377.2" y1="542.42" x2="671.07" y2="542.42" stroke="#ffffff" stroke-width="0.5" stroke-opacity="0.15"/>
<line x1="363.6" y1="529.2" x2="363.6" y2="731.4" stroke="#3a3a3a" stroke-width="1"/>
<line x1="363.1" y1="730.9" x2="685" y2="730.9" stroke="#3a3a3a" stroke-width="1"/>
<line x1="361.4" y1="721.7" x2="363.6" y2="721.7" stroke="#333333" stroke-width="0.7"/>
<text x="360.6" y="723.6" font-size="5.28" text-anchor="end" fill="#5e5e5e">0</text>
<line x1="361.4" y1="661.94" x2="363.6" y2="661.94" stroke="#333333" stroke-width="0.7"/>
<text x="360.6" y="663.84" font-size="5.28" text-anchor="end" fill="#5e5e5e">20</text>
<line x1="361.4" y1="602.18" x2="363.6" y2="602.18" stroke="#333333" stroke-width="0.7"/>
<text x="360.6" y="604.08" font-size="5.28" text-anchor="end" fill="#5e5e5e">40</text>
<line x1="361.4" y1="542.42" x2="363.6" y2="542.42" stroke="#333333" stroke-width="0.7"/>
<text x="360.6" y="544.32" font-size="5.28" text-anchor="end" fill="#5e5e5e">60</text>
<line x1="382.2" y1="730.9" x2="382.2" y2="733.1" stroke="#333333" stroke-width="0.7"/>
<text x="382.2" y="737.9" font-size="5.28" text-anchor="middle" fill="#5e5e5e">1990</text>
<line x1="473.77" y1="730.9" x2="473.77" y2="733.1" stroke="#333333" stroke-width="0.7"/>
<text x="473.77" y="737.9" font-size="5.28" text-anchor="middle" fill="#5e5e5e">2000</text>
<line x1="565.34" y1="730.9" x2="565.34" y2="733.1" stroke="#333333" stroke-width="0.7"/>
<text x="565.34" y="737.9" font-size="5.28" text-anchor="middle" fill="#5e5e5e">2010</text>
<line x1="656.91" y1="730.9" x2="656.91" y2="733.1" stroke="#333333" stroke-width="0.7"/>
<text x="656.91" y="737.9" font-size="5.28" text-anchor="middle" fill="#5e5e5e">2020</text>
<text x="363.8" y="525.11" font-size="7.8" text-anchor="start" fill="#000">f. Contribution to SIAM by level 1 risk factors, 1990−2021</text>
<text x="524" y="745.98" font-size="6.6" text-anchor="middle" fill="#000">Year</text>
<text x="350.2" y="632.28" font-size="6.6" text-anchor="middle" fill="#000" transform="rotate(-90 350.2 629.9)">Contribution to SIAM (%)</text>
<text x="383.3" y="764.78" font-size="6.6" text-anchor="start" fill="#000">Risk factors</text>
<rect x="420.9" y="757.5" width="9.4" height="9.4" fill="#5A6E76"/>
<text x="433.7" y="764.33" font-size="5.36" text-anchor="start" fill="#000">All risk factors</text>
<rect x="470.2" y="757.5" width="9.4" height="9.4" fill="#E8A569"/>
<text x="483" y="764.33" font-size="5.36" text-anchor="start" fill="#000">Environmental/occupational risks</text>
<rect x="563.9" y="757.5" width="9.4" height="9.4" fill="#2AAFDC"/>
<text x="576.7" y="764.33" font-size="5.36" text-anchor="start" fill="#000">Behavioral risks</text>
<rect x="617.8" y="757.5" width="9.4" height="9.4" fill="#C86464"/>
<text x="630.6" y="764.33" font-size="5.36" text-anchor="start" fill="#000">Metabolic risks</text>
</svg></body></html>
